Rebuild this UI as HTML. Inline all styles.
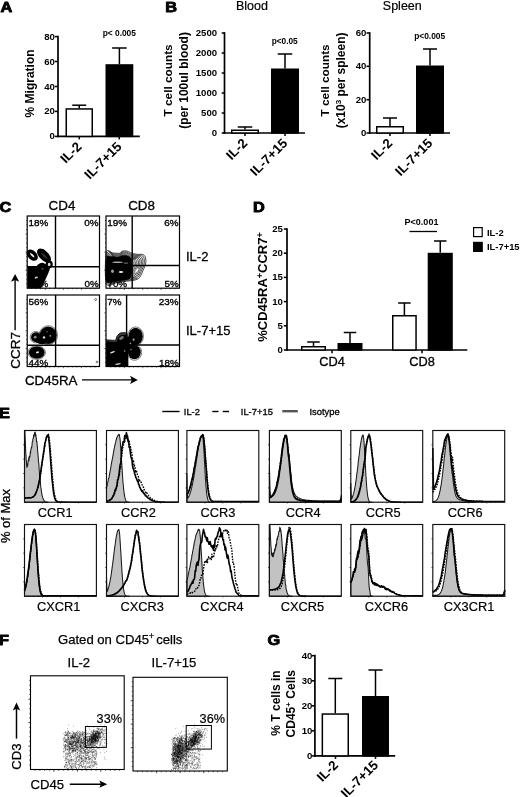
<!DOCTYPE html>
<html lang="en"><head><meta charset="utf-8"><title>Figure</title>
<style>html,body{margin:0;padding:0;background:#fff}svg{display:block}text{font-family:'Liberation Sans', sans-serif;fill:#000}</style></head><body>
<svg width="520" height="797" viewBox="0 0 520 797">
<rect x="0" y="0" width="520" height="797" fill="#fff"/>
<g id="panelA">
<text transform="translate(0.4 12.2) scale(1.15 1)" font-size="14.2" font-weight="bold" stroke="#000" stroke-width="0.85" stroke-linejoin="round">A</text>
<text x="34.3" y="83.4" font-size="12" font-weight="bold" text-anchor="middle" transform="rotate(-90 34.3 83.4)">% Migration</text>
<line x1="58" y1="35.75" x2="58" y2="137.25" stroke="#000" stroke-width="1.7"/>
<line x1="54.8" y1="36.6" x2="58" y2="36.6" stroke="#000" stroke-width="1.53"/>
<text x="54.8" y="39.67" font-size="9.6" font-weight="bold" text-anchor="end">80</text>
<line x1="54.8" y1="61.5" x2="58" y2="61.5" stroke="#000" stroke-width="1.53"/>
<text x="54.8" y="64.57" font-size="9.6" font-weight="bold" text-anchor="end">60</text>
<line x1="54.8" y1="86.5" x2="58" y2="86.5" stroke="#000" stroke-width="1.53"/>
<text x="54.8" y="89.57" font-size="9.6" font-weight="bold" text-anchor="end">40</text>
<line x1="54.8" y1="111.4" x2="58" y2="111.4" stroke="#000" stroke-width="1.53"/>
<text x="54.8" y="114.47" font-size="9.6" font-weight="bold" text-anchor="end">20</text>
<line x1="54.8" y1="136.4" x2="58" y2="136.4" stroke="#000" stroke-width="1.53"/>
<text x="54.8" y="139.47" font-size="9.6" font-weight="bold" text-anchor="end">0</text>
<line x1="57.15" y1="136.4" x2="139.8" y2="136.4" stroke="#000" stroke-width="1.7"/>
<line x1="79.25" y1="136.4" x2="79.25" y2="139.4" stroke="#000" stroke-width="1.53"/>
<line x1="119.25" y1="136.4" x2="119.25" y2="139.4" stroke="#000" stroke-width="1.53"/>
<line x1="79.25" y1="105.2" x2="79.25" y2="108.2" stroke="#000" stroke-width="1.5"/>
<line x1="72.25" y1="105.2" x2="86.25" y2="105.2" stroke="#000" stroke-width="1.5"/>
<rect x="66.25" y="108.95" width="26" height="27.45" fill="#fff" stroke="#000" stroke-width="1.5"/>
<line x1="119.4" y1="48" x2="119.4" y2="64.2" stroke="#000" stroke-width="1.5"/>
<line x1="112.1" y1="48" x2="126.7" y2="48" stroke="#000" stroke-width="1.5"/>
<rect x="106.25" y="64.95" width="26.3" height="71.45" fill="#000" stroke="#000" stroke-width="1.5"/>
<text x="119.3" y="36.2" font-size="8.4" font-weight="bold" text-anchor="middle">p&lt; 0.005</text>
<text x="82.45" y="147.4" font-size="13.3" font-weight="bold" text-anchor="end" transform="rotate(-45 82.45 147.4)">IL-2</text>
<text x="122.45" y="147.4" font-size="13.3" font-weight="bold" text-anchor="end" transform="rotate(-45 122.45 147.4)">IL-7+15</text>
</g>
<g id="panelB">
<text transform="translate(165.3 12.2) scale(1.15 1)" font-size="14.2" font-weight="bold" stroke="#000" stroke-width="0.85" stroke-linejoin="round">B</text>
<text x="252" y="10.2" font-size="12.5" text-anchor="middle" stroke="#000" stroke-width="0.2">Blood</text>
<text x="402.3" y="10.2" font-size="12.5" text-anchor="middle" stroke="#000" stroke-width="0.2">Spleen</text>
<text x="172.4" y="80.4" font-size="11.8" font-weight="bold" text-anchor="middle" transform="rotate(-90 172.4 80.4)">T cell counts</text>
<text x="188.3" y="80.4" font-size="12" font-weight="bold" text-anchor="middle" transform="rotate(-90 188.3 80.4)">(per 100ul blood)</text>
<line x1="224.5" y1="32.15" x2="224.5" y2="133.85" stroke="#000" stroke-width="1.7"/>
<line x1="221.7" y1="33" x2="224.5" y2="33" stroke="#000" stroke-width="1.53"/>
<text x="217.1" y="36.07" font-size="9.6" font-weight="bold" text-anchor="end">2500</text>
<line x1="221.7" y1="53" x2="224.5" y2="53" stroke="#000" stroke-width="1.53"/>
<text x="217.1" y="56.07" font-size="9.6" font-weight="bold" text-anchor="end">2000</text>
<line x1="221.7" y1="73" x2="224.5" y2="73" stroke="#000" stroke-width="1.53"/>
<text x="217.1" y="76.07" font-size="9.6" font-weight="bold" text-anchor="end">1500</text>
<line x1="221.7" y1="93" x2="224.5" y2="93" stroke="#000" stroke-width="1.53"/>
<text x="217.1" y="96.07" font-size="9.6" font-weight="bold" text-anchor="end">1000</text>
<line x1="221.7" y1="113" x2="224.5" y2="113" stroke="#000" stroke-width="1.53"/>
<text x="217.1" y="116.07" font-size="9.6" font-weight="bold" text-anchor="end">500</text>
<line x1="221.7" y1="133" x2="224.5" y2="133" stroke="#000" stroke-width="1.53"/>
<text x="217.1" y="136.07" font-size="9.6" font-weight="bold" text-anchor="end">0</text>
<line x1="223.65" y1="133" x2="305" y2="133" stroke="#000" stroke-width="1.7"/>
<line x1="245" y1="133" x2="245" y2="136" stroke="#000" stroke-width="1.53"/>
<line x1="285" y1="133" x2="285" y2="136" stroke="#000" stroke-width="1.53"/>
<line x1="245" y1="127" x2="245" y2="129.5" stroke="#000" stroke-width="1.5"/>
<line x1="237.75" y1="127" x2="252.25" y2="127" stroke="#000" stroke-width="1.5"/>
<rect x="231.75" y="130.25" width="26.5" height="2.75" fill="#fff" stroke="#000" stroke-width="1.5"/>
<line x1="285" y1="54" x2="285" y2="68.5" stroke="#000" stroke-width="1.5"/>
<line x1="277.75" y1="54" x2="292.25" y2="54" stroke="#000" stroke-width="1.5"/>
<rect x="271.75" y="69.25" width="26.5" height="63.75" fill="#000" stroke="#000" stroke-width="1.5"/>
<text x="284.7" y="43.6" font-size="8.3" font-weight="bold" text-anchor="middle">p&lt;0.05</text>
<text x="248.2" y="144" font-size="13.3" font-weight="bold" text-anchor="end" transform="rotate(-45 248.2 144)">IL-2</text>
<text x="288.2" y="144" font-size="13.3" font-weight="bold" text-anchor="end" transform="rotate(-45 288.2 144)">IL-7+15</text>
<text x="329.4" y="80.4" font-size="11.8" font-weight="bold" text-anchor="middle" transform="rotate(-90 329.4 80.4)">T cell counts</text>
<text x="345" y="80.4" font-size="12" font-weight="bold" text-anchor="middle" transform="rotate(-90 345 80.4)">(x10<tspan font-size="8" dy="-4">3</tspan><tspan dy="4"> per spleen)</tspan></text>
<line x1="369.7" y1="32.15" x2="369.7" y2="133.85" stroke="#000" stroke-width="1.7"/>
<line x1="366.5" y1="33" x2="369.7" y2="33" stroke="#000" stroke-width="1.53"/>
<text x="366.4" y="36.07" font-size="9.6" font-weight="bold" text-anchor="end">60</text>
<line x1="366.5" y1="66.3" x2="369.7" y2="66.3" stroke="#000" stroke-width="1.53"/>
<text x="366.4" y="69.37" font-size="9.6" font-weight="bold" text-anchor="end">40</text>
<line x1="366.5" y1="99.7" x2="369.7" y2="99.7" stroke="#000" stroke-width="1.53"/>
<text x="366.4" y="102.77" font-size="9.6" font-weight="bold" text-anchor="end">20</text>
<line x1="366.5" y1="133" x2="369.7" y2="133" stroke="#000" stroke-width="1.53"/>
<text x="366.4" y="136.07" font-size="9.6" font-weight="bold" text-anchor="end">0</text>
<line x1="368.85" y1="133" x2="450" y2="133" stroke="#000" stroke-width="1.7"/>
<line x1="390" y1="133" x2="390" y2="136" stroke="#000" stroke-width="1.53"/>
<line x1="430" y1="133" x2="430" y2="136" stroke="#000" stroke-width="1.53"/>
<line x1="390" y1="118" x2="390" y2="126" stroke="#000" stroke-width="1.5"/>
<line x1="383" y1="118" x2="397" y2="118" stroke="#000" stroke-width="1.5"/>
<rect x="376.75" y="126.75" width="26.5" height="6.25" fill="#fff" stroke="#000" stroke-width="1.5"/>
<line x1="430" y1="49" x2="430" y2="65.5" stroke="#000" stroke-width="1.5"/>
<line x1="423" y1="49" x2="437" y2="49" stroke="#000" stroke-width="1.5"/>
<rect x="416.75" y="66.25" width="26.5" height="66.75" fill="#000" stroke="#000" stroke-width="1.5"/>
<text x="429.7" y="39.2" font-size="8.4" font-weight="bold" text-anchor="middle">p&lt;0.005</text>
<text x="393.2" y="144" font-size="13.3" font-weight="bold" text-anchor="end" transform="rotate(-45 393.2 144)">IL-2</text>
<text x="433.2" y="144" font-size="13.3" font-weight="bold" text-anchor="end" transform="rotate(-45 433.2 144)">IL-7+15</text>
</g>
<g id="panelC">
<text transform="translate(-0.6 212.2) scale(1.15 1)" font-size="14.2" font-weight="bold" stroke="#000" stroke-width="0.85" stroke-linejoin="round">C</text>
<text x="62" y="210" font-size="13.4" text-anchor="middle" stroke="#000" stroke-width="0.3">CD4</text>
<text x="141.6" y="210" font-size="13.4" text-anchor="middle" stroke="#000" stroke-width="0.3">CD8</text>
<text x="186" y="261" font-size="13" stroke="#000" stroke-width="0.3">IL-2</text>
<text x="186" y="335" font-size="13" stroke="#000" stroke-width="0.3">IL-7+15</text>
<text x="20.2" y="350.3" font-size="13.5" text-anchor="middle" transform="rotate(-90 20.2 350.3)" stroke="#000" stroke-width="0.3">CCR7</text>
<line x1="15.1" y1="330.2" x2="15.1" y2="279" stroke="#000" stroke-width="1.4"/>
<path d="M15.1 274 L11 281.8 L15.1 280 L19.2 281.8 Z" fill="#000"/>
<text x="25" y="385.2" font-size="13.3" stroke="#000" stroke-width="0.3">CD45RA</text>
<line x1="82" y1="379.9" x2="132.5" y2="379.9" stroke="#000" stroke-width="1.4"/>
<path d="M137.8 379.9 L130 375.8 L131.8 379.9 L130 384 Z" fill="#000"/>
<g>
<text x="28.6" y="287.3" font-size="9.9" stroke="#000" stroke-width="0.35">82%</text>
<path d="M27.5 267 L36 267 Q39 262.6 43 262.8 L47.5 265 L50 268.5 L48.4 273 L43 285 L40.8 288.3 L27.5 288.3 Z" fill="#000"/><ellipse cx="32.2" cy="255.2" rx="4.8" ry="2.7" fill="none" stroke="#000" stroke-width="3.5" transform="rotate(45 32.2 255.2)"/><ellipse cx="44" cy="255.5" rx="6.8" ry="2.8" fill="#333" stroke="#000" stroke-width="3.5" transform="rotate(45 44 255.5)"/><ellipse cx="49.2" cy="264.4" rx="2.5" ry="2.7" fill="#ddd" stroke="#000" stroke-width="2.2"/><ellipse cx="41.5" cy="251.2" rx="3.2" ry="2.2" fill="#000" stroke="none" stroke-width="0.5"/><ellipse cx="36.3" cy="277.6" rx="1.7" ry="0.8" fill="#ddd" stroke="none" stroke-width="0.5" transform="rotate(-25 36.3 277.6)"/><ellipse cx="42.5" cy="268.8" rx="1.2" ry="0.6" fill="#777" stroke="none" stroke-width="0.5"/>
<rect x="27.2" y="216" width="72.3" height="72.2" fill="none" stroke="#000" stroke-width="1.2"/>
<line x1="55.5" y1="216" x2="55.5" y2="288.2" stroke="#000" stroke-width="1.4"/>
<line x1="27.2" y1="266.8" x2="99.5" y2="266.8" stroke="#000" stroke-width="1.4"/>
<line x1="31.72" y1="288.2" x2="31.72" y2="289.2" stroke="#000" stroke-width="0.6"/>
<line x1="26.2" y1="220.51" x2="27.2" y2="220.51" stroke="#000" stroke-width="0.6"/>
<line x1="36.24" y1="288.2" x2="36.24" y2="289.2" stroke="#000" stroke-width="0.6"/>
<line x1="26.2" y1="225.03" x2="27.2" y2="225.03" stroke="#000" stroke-width="0.6"/>
<line x1="40.76" y1="288.2" x2="40.76" y2="289.2" stroke="#000" stroke-width="0.6"/>
<line x1="26.2" y1="229.54" x2="27.2" y2="229.54" stroke="#000" stroke-width="0.6"/>
<line x1="45.27" y1="288.2" x2="45.27" y2="289.9" stroke="#000" stroke-width="0.6"/>
<line x1="25.5" y1="234.05" x2="27.2" y2="234.05" stroke="#000" stroke-width="0.6"/>
<line x1="49.79" y1="288.2" x2="49.79" y2="289.2" stroke="#000" stroke-width="0.6"/>
<line x1="26.2" y1="238.56" x2="27.2" y2="238.56" stroke="#000" stroke-width="0.6"/>
<line x1="54.31" y1="288.2" x2="54.31" y2="289.2" stroke="#000" stroke-width="0.6"/>
<line x1="26.2" y1="243.07" x2="27.2" y2="243.07" stroke="#000" stroke-width="0.6"/>
<line x1="58.83" y1="288.2" x2="58.83" y2="289.2" stroke="#000" stroke-width="0.6"/>
<line x1="26.2" y1="247.59" x2="27.2" y2="247.59" stroke="#000" stroke-width="0.6"/>
<line x1="63.35" y1="288.2" x2="63.35" y2="289.9" stroke="#000" stroke-width="0.6"/>
<line x1="25.5" y1="252.1" x2="27.2" y2="252.1" stroke="#000" stroke-width="0.6"/>
<line x1="67.87" y1="288.2" x2="67.87" y2="289.2" stroke="#000" stroke-width="0.6"/>
<line x1="26.2" y1="256.61" x2="27.2" y2="256.61" stroke="#000" stroke-width="0.6"/>
<line x1="72.39" y1="288.2" x2="72.39" y2="289.2" stroke="#000" stroke-width="0.6"/>
<line x1="26.2" y1="261.12" x2="27.2" y2="261.12" stroke="#000" stroke-width="0.6"/>
<line x1="76.91" y1="288.2" x2="76.91" y2="289.2" stroke="#000" stroke-width="0.6"/>
<line x1="26.2" y1="265.64" x2="27.2" y2="265.64" stroke="#000" stroke-width="0.6"/>
<line x1="81.42" y1="288.2" x2="81.42" y2="289.9" stroke="#000" stroke-width="0.6"/>
<line x1="25.5" y1="270.15" x2="27.2" y2="270.15" stroke="#000" stroke-width="0.6"/>
<line x1="85.94" y1="288.2" x2="85.94" y2="289.2" stroke="#000" stroke-width="0.6"/>
<line x1="26.2" y1="274.66" x2="27.2" y2="274.66" stroke="#000" stroke-width="0.6"/>
<line x1="90.46" y1="288.2" x2="90.46" y2="289.2" stroke="#000" stroke-width="0.6"/>
<line x1="26.2" y1="279.18" x2="27.2" y2="279.18" stroke="#000" stroke-width="0.6"/>
<line x1="94.98" y1="288.2" x2="94.98" y2="289.2" stroke="#000" stroke-width="0.6"/>
<line x1="26.2" y1="283.69" x2="27.2" y2="283.69" stroke="#000" stroke-width="0.6"/>
<text x="28.5" y="226" font-size="9.9" stroke="#000" stroke-width="0.35">18%</text>
<text x="98.6" y="226" font-size="9.9" text-anchor="end" stroke="#000" stroke-width="0.35">0%</text>
<text x="98.7" y="287.3" font-size="9.9" text-anchor="end" stroke="#000" stroke-width="0.35">0%</text>
</g>
<g>
<text x="107.4" y="287.3" font-size="9.9" stroke="#000" stroke-width="0.35">70%</text>
<path d="M106.3 252.6C107.42 247.55 110.72 252.9 113 253C115.28 253.1 118.5 253.5 120 253.2C121.5 252.9 120.83 251.57 122 251.2C123.17 250.83 125.5 250.7 127 251C128.5 251.3 129.33 252.45 131 253C132.67 253.55 135 254.03 137 254.3C139 254.57 141.57 253.98 143 254.6C144.43 255.22 145.17 256.43 145.6 258C146.03 259.57 146 262 145.6 264C145.2 266 144.22 267.75 143.2 270C142.18 272.25 141.03 275.78 139.5 277.5C137.97 279.22 136.25 279.68 134 280.3C131.75 280.92 129 280.75 126 281.2C123 281.65 119.28 282.65 116 283C112.72 283.35 107.92 288.37 106.3 283.3C104.68 278.23 105.18 257.65 106.3 252.6Z" fill="none" stroke="#000" stroke-width="0.7"/><path d="M107.18 253.52C108.23 248.78 111.33 253.81 113.48 253.9C115.63 253.99 118.65 254.37 120.06 254.09C121.47 253.81 120.84 252.55 121.94 252.21C123.04 251.86 125.23 251.74 126.64 252.02C128.05 252.3 128.83 253.38 130.4 253.9C131.97 254.42 134.16 254.87 136.04 255.12C137.92 255.37 140.33 254.82 141.68 255.4C143.03 255.98 143.72 257.13 144.12 258.6C144.53 260.07 144.5 262.36 144.12 264.24C143.75 266.12 142.82 267.76 141.87 269.88C140.91 272 139.83 275.32 138.39 276.93C136.95 278.54 135.34 278.98 133.22 279.56C131.1 280.14 128.52 279.99 125.7 280.41C122.88 280.83 119.39 281.77 116.3 282.1C113.21 282.43 108.7 287.14 107.18 282.38C105.66 277.62 106.13 258.27 107.18 253.52Z" fill="none" stroke="#000" stroke-width="0.7"/><path d="M108.06 254.45C109.05 250 111.95 254.71 113.96 254.8C115.97 254.89 118.8 255.24 120.12 254.98C121.44 254.71 120.85 253.54 121.88 253.22C122.91 252.89 124.96 252.78 126.28 253.04C127.6 253.3 128.33 254.32 129.8 254.8C131.27 255.28 133.32 255.71 135.08 255.94C136.84 256.18 139.1 255.67 140.36 256.21C141.62 256.75 142.27 257.82 142.65 259.2C143.03 260.58 143 262.72 142.65 264.48C142.3 266.24 141.43 267.78 140.54 269.76C139.64 271.74 138.63 274.85 137.28 276.36C135.93 277.87 134.42 278.28 132.44 278.82C130.46 279.37 128.04 279.22 125.4 279.62C122.76 280.01 119.49 280.89 116.6 281.2C113.71 281.51 109.49 285.92 108.06 281.46C106.64 277.01 107.08 258.89 108.06 254.45Z" fill="none" stroke="#000" stroke-width="0.7"/><path d="M108.95 255.37C109.86 251.23 112.57 255.62 114.44 255.7C116.31 255.78 118.95 256.11 120.18 255.86C121.41 255.62 120.86 254.52 121.82 254.22C122.78 253.92 124.69 253.81 125.92 254.06C127.15 254.31 127.83 255.25 129.2 255.7C130.57 256.15 132.48 256.55 134.12 256.77C135.76 256.98 137.86 256.51 139.04 257.01C140.22 257.52 140.82 258.52 141.17 259.8C141.53 261.08 141.5 263.08 141.17 264.72C140.84 266.36 140.04 267.79 139.2 269.64C138.37 271.49 137.43 274.38 136.17 275.79C134.91 277.2 133.5 277.58 131.66 278.09C129.81 278.59 127.56 278.46 125.1 278.82C122.64 279.19 119.59 280.01 116.9 280.3C114.21 280.59 110.27 284.7 108.95 280.55C107.62 276.39 108.03 259.51 108.95 255.37Z" fill="none" stroke="#000" stroke-width="0.7"/><path d="M109.83 256.3C110.68 252.46 113.18 256.52 114.92 256.6C116.66 256.68 119.1 256.98 120.24 256.75C121.38 256.52 120.87 255.51 121.76 255.23C122.65 254.95 124.42 254.85 125.56 255.08C126.7 255.31 127.33 256.18 128.6 256.6C129.87 257.02 131.64 257.39 133.16 257.59C134.68 257.79 136.63 257.35 137.72 257.82C138.81 258.28 139.37 259.21 139.7 260.4C140.03 261.59 140 263.44 139.7 264.96C139.39 266.48 138.64 267.81 137.87 269.52C137.1 271.23 136.23 273.92 135.06 275.22C133.89 276.52 132.59 276.88 130.88 277.35C129.17 277.82 127.08 277.69 124.8 278.03C122.52 278.37 119.7 279.13 117.2 279.4C114.7 279.67 111.06 283.48 109.83 279.63C108.6 275.78 108.98 260.13 109.83 256.3Z" fill="none" stroke="#000" stroke-width="0.7"/><path d="M110.71 257.22C111.49 253.68 113.8 257.43 115.4 257.5C117 257.57 119.25 257.85 120.3 257.64C121.35 257.43 120.88 256.5 121.7 256.24C122.52 255.98 124.15 255.89 125.2 256.1C126.25 256.31 126.83 257.12 128 257.5C129.17 257.88 130.8 258.22 132.2 258.41C133.6 258.6 135.4 258.19 136.4 258.62C137.4 259.05 137.92 259.9 138.22 261C138.52 262.1 138.5 263.8 138.22 265.2C137.94 266.6 137.25 267.82 136.54 269.4C135.83 270.97 135.02 273.45 133.95 274.65C132.88 275.85 131.67 276.18 130.1 276.61C128.53 277.04 126.6 276.93 124.5 277.24C122.4 277.56 119.8 278.25 117.5 278.5C115.2 278.75 111.84 282.26 110.71 278.71C109.58 275.16 109.93 260.75 110.71 257.22Z" fill="none" stroke="#000" stroke-width="0.7"/><path d="M111.59 258.14C112.31 254.91 114.42 258.34 115.88 258.4C117.34 258.46 119.4 258.72 120.36 258.53C121.32 258.34 120.89 257.48 121.64 257.25C122.39 257.01 123.88 256.93 124.84 257.12C125.8 257.31 126.33 258.05 127.4 258.4C128.47 258.75 129.96 259.06 131.24 259.23C132.52 259.4 134.16 259.03 135.08 259.42C136 259.82 136.47 260.6 136.74 261.6C137.02 262.6 137 264.16 136.74 265.44C136.49 266.72 135.86 267.84 135.21 269.28C134.56 270.72 133.82 272.98 132.84 274.08C131.86 275.18 130.76 275.48 129.32 275.87C127.88 276.27 126.12 276.16 124.2 276.45C122.28 276.74 119.9 277.38 117.8 277.6C115.7 277.82 112.63 281.03 111.59 277.79C110.56 274.55 110.88 261.38 111.59 258.14Z" fill="none" stroke="#000" stroke-width="0.7"/><path d="M112.47 259.07C113.12 256.14 115.04 259.24 116.36 259.3C117.68 259.36 119.55 259.59 120.42 259.42C121.29 259.24 120.9 258.47 121.58 258.26C122.26 258.04 123.61 257.97 124.48 258.14C125.35 258.31 125.83 258.98 126.8 259.3C127.77 259.62 129.12 259.9 130.28 260.05C131.44 260.21 132.93 259.87 133.76 260.23C134.59 260.59 135.02 261.29 135.27 262.2C135.52 263.11 135.5 264.52 135.27 265.68C135.04 266.84 134.47 267.86 133.88 269.16C133.29 270.47 132.62 272.51 131.73 273.51C130.84 274.51 129.84 274.78 128.54 275.13C127.23 275.49 125.64 275.39 123.9 275.66C122.16 275.92 120 276.5 118.1 276.7C116.2 276.9 113.41 279.81 112.47 276.87C111.54 273.94 111.83 262 112.47 259.07Z" fill="none" stroke="#000" stroke-width="0.7"/><path d="M113.36 259.99C113.94 257.37 115.65 260.15 116.84 260.2C118.03 260.25 119.7 260.46 120.48 260.3C121.26 260.15 120.91 259.45 121.52 259.26C122.13 259.07 123.34 259 124.12 259.16C124.9 259.32 125.33 259.91 126.2 260.2C127.07 260.49 128.28 260.74 129.32 260.88C130.36 261.01 131.69 260.71 132.44 261.03C133.19 261.35 133.57 261.99 133.79 262.8C134.02 263.61 134 264.88 133.79 265.92C133.58 266.96 133.07 267.87 132.54 269.04C132.02 270.21 131.42 272.05 130.62 272.94C129.82 273.83 128.93 274.08 127.76 274.4C126.59 274.72 125.16 274.63 123.6 274.86C122.04 275.1 120.11 275.62 118.4 275.8C116.69 275.98 114.2 278.59 113.36 275.96C112.52 273.32 112.78 262.62 113.36 259.99Z" fill="none" stroke="#000" stroke-width="0.7"/><path d="M106.6 258.5C107.25 254.37 108.68 256.82 110.5 256.6C112.32 256.38 115.33 257.4 117.5 257.2C119.67 257 121.5 255.47 123.5 255.4C125.5 255.33 128.12 255.7 129.5 256.8C130.88 257.9 131.42 259.47 131.8 262C132.18 264.53 132.07 269.33 131.8 272C131.53 274.67 131.5 276.63 130.2 278C128.9 279.37 126.53 279.67 124 280.2C121.47 280.73 117.9 281 115 281.2C112.1 281.4 108 285.18 106.6 281.4C105.2 277.62 105.95 262.63 106.6 258.5Z" fill="#000" stroke="#000" stroke-width="0.5"/><ellipse cx="136.8" cy="270.5" rx="0.9" ry="2.6" fill="#fff" stroke="none" stroke-width="0.5" transform="rotate(35 136.8 270.5)"/><ellipse cx="117.5" cy="262.3" rx="5.5" ry="0.7" fill="#aaa" stroke="none" stroke-width="0.5"/><ellipse cx="121" cy="272" rx="2.2" ry="0.9" fill="#eee" stroke="none" stroke-width="0.5"/><ellipse cx="112.5" cy="271.2" rx="1.5" ry="1.8" fill="#999" stroke="none" stroke-width="0.5"/><ellipse cx="126" cy="263" rx="2.5" ry="0.6" fill="#888" stroke="none" stroke-width="0.5"/>
<rect x="106" y="216" width="73.5" height="72.2" fill="none" stroke="#000" stroke-width="1.2"/>
<line x1="132.2" y1="216" x2="132.2" y2="288.2" stroke="#000" stroke-width="1.4"/>
<line x1="106" y1="265.5" x2="179.5" y2="265.5" stroke="#000" stroke-width="1.4"/>
<line x1="110.59" y1="288.2" x2="110.59" y2="289.2" stroke="#000" stroke-width="0.6"/>
<line x1="105" y1="220.51" x2="106" y2="220.51" stroke="#000" stroke-width="0.6"/>
<line x1="115.19" y1="288.2" x2="115.19" y2="289.2" stroke="#000" stroke-width="0.6"/>
<line x1="105" y1="225.03" x2="106" y2="225.03" stroke="#000" stroke-width="0.6"/>
<line x1="119.78" y1="288.2" x2="119.78" y2="289.2" stroke="#000" stroke-width="0.6"/>
<line x1="105" y1="229.54" x2="106" y2="229.54" stroke="#000" stroke-width="0.6"/>
<line x1="124.38" y1="288.2" x2="124.38" y2="289.9" stroke="#000" stroke-width="0.6"/>
<line x1="104.3" y1="234.05" x2="106" y2="234.05" stroke="#000" stroke-width="0.6"/>
<line x1="128.97" y1="288.2" x2="128.97" y2="289.2" stroke="#000" stroke-width="0.6"/>
<line x1="105" y1="238.56" x2="106" y2="238.56" stroke="#000" stroke-width="0.6"/>
<line x1="133.56" y1="288.2" x2="133.56" y2="289.2" stroke="#000" stroke-width="0.6"/>
<line x1="105" y1="243.07" x2="106" y2="243.07" stroke="#000" stroke-width="0.6"/>
<line x1="138.16" y1="288.2" x2="138.16" y2="289.2" stroke="#000" stroke-width="0.6"/>
<line x1="105" y1="247.59" x2="106" y2="247.59" stroke="#000" stroke-width="0.6"/>
<line x1="142.75" y1="288.2" x2="142.75" y2="289.9" stroke="#000" stroke-width="0.6"/>
<line x1="104.3" y1="252.1" x2="106" y2="252.1" stroke="#000" stroke-width="0.6"/>
<line x1="147.34" y1="288.2" x2="147.34" y2="289.2" stroke="#000" stroke-width="0.6"/>
<line x1="105" y1="256.61" x2="106" y2="256.61" stroke="#000" stroke-width="0.6"/>
<line x1="151.94" y1="288.2" x2="151.94" y2="289.2" stroke="#000" stroke-width="0.6"/>
<line x1="105" y1="261.12" x2="106" y2="261.12" stroke="#000" stroke-width="0.6"/>
<line x1="156.53" y1="288.2" x2="156.53" y2="289.2" stroke="#000" stroke-width="0.6"/>
<line x1="105" y1="265.64" x2="106" y2="265.64" stroke="#000" stroke-width="0.6"/>
<line x1="161.12" y1="288.2" x2="161.12" y2="289.9" stroke="#000" stroke-width="0.6"/>
<line x1="104.3" y1="270.15" x2="106" y2="270.15" stroke="#000" stroke-width="0.6"/>
<line x1="165.72" y1="288.2" x2="165.72" y2="289.2" stroke="#000" stroke-width="0.6"/>
<line x1="105" y1="274.66" x2="106" y2="274.66" stroke="#000" stroke-width="0.6"/>
<line x1="170.31" y1="288.2" x2="170.31" y2="289.2" stroke="#000" stroke-width="0.6"/>
<line x1="105" y1="279.18" x2="106" y2="279.18" stroke="#000" stroke-width="0.6"/>
<line x1="174.91" y1="288.2" x2="174.91" y2="289.2" stroke="#000" stroke-width="0.6"/>
<line x1="105" y1="283.69" x2="106" y2="283.69" stroke="#000" stroke-width="0.6"/>
<text x="107.3" y="226" font-size="9.9" stroke="#000" stroke-width="0.35">19%</text>
<text x="178.6" y="226" font-size="9.9" text-anchor="end" stroke="#000" stroke-width="0.35">6%</text>
<text x="178.7" y="287.3" font-size="9.9" text-anchor="end" stroke="#000" stroke-width="0.35">5%</text>
</g>
<g>
<text x="28.6" y="365.6" font-size="9.9" stroke="#000" stroke-width="0.35">44%</text>
<ellipse cx="36.8" cy="352.5" rx="8.7" ry="6.9" fill="none" stroke="#000" stroke-width="0.5"/><ellipse cx="36.8" cy="352.5" rx="7.9" ry="6.2" fill="#000" stroke="none" stroke-width="0.5"/><ellipse cx="35.8" cy="337.2" rx="5.7" ry="5.7" fill="none" stroke="#000" stroke-width="0.5"/><ellipse cx="36" cy="337.2" rx="5" ry="5" fill="#000" stroke="none" stroke-width="0.5"/><ellipse cx="48.3" cy="335.2" rx="9.2" ry="9.5" fill="none" stroke="#000" stroke-width="0.5"/><ellipse cx="48.2" cy="335.3" rx="8.5" ry="8.8" fill="#000" stroke="none" stroke-width="0.5"/><ellipse cx="42" cy="338.8" rx="8" ry="5.4" fill="#000" stroke="none" stroke-width="0.5"/><ellipse cx="35.2" cy="337.2" rx="1.4" ry="1.4" fill="#888" stroke="none" stroke-width="0.5"/><ellipse cx="44" cy="337.4" rx="1.2" ry="1.2" fill="#ddd" stroke="none" stroke-width="0.5"/><ellipse cx="37.5" cy="352.3" rx="1.5" ry="0.9" fill="#eee" stroke="none" stroke-width="0.5" transform="rotate(-15 37.5 352.3)"/><ellipse cx="50.3" cy="335.8" rx="0.9" ry="1.1" fill="#888" stroke="none" stroke-width="0.5"/><ellipse cx="47" cy="331.8" rx="0.8" ry="0.8" fill="#666" stroke="none" stroke-width="0.5"/>
<rect x="27.2" y="295" width="72.3" height="71.5" fill="none" stroke="#000" stroke-width="1.2"/>
<line x1="55.6" y1="295" x2="55.6" y2="366.5" stroke="#000" stroke-width="1.4"/>
<line x1="27.2" y1="345.3" x2="99.5" y2="345.3" stroke="#000" stroke-width="1.4"/>
<line x1="31.72" y1="366.5" x2="31.72" y2="367.5" stroke="#000" stroke-width="0.6"/>
<line x1="26.2" y1="299.47" x2="27.2" y2="299.47" stroke="#000" stroke-width="0.6"/>
<line x1="36.24" y1="366.5" x2="36.24" y2="367.5" stroke="#000" stroke-width="0.6"/>
<line x1="26.2" y1="303.94" x2="27.2" y2="303.94" stroke="#000" stroke-width="0.6"/>
<line x1="40.76" y1="366.5" x2="40.76" y2="367.5" stroke="#000" stroke-width="0.6"/>
<line x1="26.2" y1="308.41" x2="27.2" y2="308.41" stroke="#000" stroke-width="0.6"/>
<line x1="45.27" y1="366.5" x2="45.27" y2="368.2" stroke="#000" stroke-width="0.6"/>
<line x1="25.5" y1="312.88" x2="27.2" y2="312.88" stroke="#000" stroke-width="0.6"/>
<line x1="49.79" y1="366.5" x2="49.79" y2="367.5" stroke="#000" stroke-width="0.6"/>
<line x1="26.2" y1="317.34" x2="27.2" y2="317.34" stroke="#000" stroke-width="0.6"/>
<line x1="54.31" y1="366.5" x2="54.31" y2="367.5" stroke="#000" stroke-width="0.6"/>
<line x1="26.2" y1="321.81" x2="27.2" y2="321.81" stroke="#000" stroke-width="0.6"/>
<line x1="58.83" y1="366.5" x2="58.83" y2="367.5" stroke="#000" stroke-width="0.6"/>
<line x1="26.2" y1="326.28" x2="27.2" y2="326.28" stroke="#000" stroke-width="0.6"/>
<line x1="63.35" y1="366.5" x2="63.35" y2="368.2" stroke="#000" stroke-width="0.6"/>
<line x1="25.5" y1="330.75" x2="27.2" y2="330.75" stroke="#000" stroke-width="0.6"/>
<line x1="67.87" y1="366.5" x2="67.87" y2="367.5" stroke="#000" stroke-width="0.6"/>
<line x1="26.2" y1="335.22" x2="27.2" y2="335.22" stroke="#000" stroke-width="0.6"/>
<line x1="72.39" y1="366.5" x2="72.39" y2="367.5" stroke="#000" stroke-width="0.6"/>
<line x1="26.2" y1="339.69" x2="27.2" y2="339.69" stroke="#000" stroke-width="0.6"/>
<line x1="76.91" y1="366.5" x2="76.91" y2="367.5" stroke="#000" stroke-width="0.6"/>
<line x1="26.2" y1="344.16" x2="27.2" y2="344.16" stroke="#000" stroke-width="0.6"/>
<line x1="81.42" y1="366.5" x2="81.42" y2="368.2" stroke="#000" stroke-width="0.6"/>
<line x1="25.5" y1="348.62" x2="27.2" y2="348.62" stroke="#000" stroke-width="0.6"/>
<line x1="85.94" y1="366.5" x2="85.94" y2="367.5" stroke="#000" stroke-width="0.6"/>
<line x1="26.2" y1="353.09" x2="27.2" y2="353.09" stroke="#000" stroke-width="0.6"/>
<line x1="90.46" y1="366.5" x2="90.46" y2="367.5" stroke="#000" stroke-width="0.6"/>
<line x1="26.2" y1="357.56" x2="27.2" y2="357.56" stroke="#000" stroke-width="0.6"/>
<line x1="94.98" y1="366.5" x2="94.98" y2="367.5" stroke="#000" stroke-width="0.6"/>
<line x1="26.2" y1="362.03" x2="27.2" y2="362.03" stroke="#000" stroke-width="0.6"/>
<text x="28.5" y="305" font-size="9.9" stroke="#000" stroke-width="0.35">56%</text>
</g>
<circle cx="95.6" cy="299.5" r="1" fill="none" stroke="#222" stroke-width="0.6"/>
<circle cx="97" cy="362" r="0.9" fill="none" stroke="#222" stroke-width="0.6"/>
<g>
<path d="M106.5 339.8 L115.5 340.4 Q116.5 335 120 333 Q124 331.8 127 333 L128 345 L128 366.5 L106.5 366.5 Z" fill="#3a3a3a" stroke="#000" stroke-width="0.7"/><path d="M106.5 341.6 L116.5 342 Q118 337 121 335.2 Q124 334.4 127 335.2 L128 345 L128 366.5 L106.5 366.5 Z" fill="#000"/><ellipse cx="135.6" cy="336.2" rx="7.9" ry="9.3" fill="none" stroke="#000" stroke-width="0.5"/><ellipse cx="135.6" cy="336.3" rx="7.2" ry="8.6" fill="#000" stroke="none" stroke-width="0.5"/><ellipse cx="134.5" cy="352.4" rx="7.2" ry="7.9" fill="none" stroke="#000" stroke-width="0.5"/><ellipse cx="134.4" cy="352.2" rx="6.4" ry="7" fill="#000" stroke="none" stroke-width="0.5"/><ellipse cx="130" cy="345" rx="4.5" ry="9" fill="#000" stroke="none" stroke-width="0.5"/><ellipse cx="121.5" cy="338" rx="2.6" ry="1.4" fill="#777" stroke="none" stroke-width="0.5" transform="rotate(-30 121.5 338)"/><ellipse cx="112.5" cy="352.2" rx="2.6" ry="0.8" fill="#ddd" stroke="none" stroke-width="0.5" transform="rotate(-20 112.5 352.2)"/><ellipse cx="118" cy="364" rx="3" ry="0.7" fill="#bbb" stroke="none" stroke-width="0.5" transform="rotate(-10 118 364)"/><ellipse cx="133.6" cy="339.6" rx="1" ry="1.2" fill="#aaa" stroke="none" stroke-width="0.5"/><ellipse cx="130.4" cy="343.6" rx="0.7" ry="1.2" fill="#999" stroke="none" stroke-width="0.5"/><ellipse cx="131" cy="349.6" rx="0.8" ry="0.8" fill="#777" stroke="none" stroke-width="0.5"/><ellipse cx="124.6" cy="351" rx="0.8" ry="1.2" fill="#666" stroke="none" stroke-width="0.5"/>
<rect x="106" y="295" width="73.5" height="71.5" fill="none" stroke="#000" stroke-width="1.2"/>
<line x1="126.6" y1="295" x2="126.6" y2="366.5" stroke="#000" stroke-width="1.4"/>
<line x1="106" y1="345" x2="179.5" y2="345" stroke="#000" stroke-width="1.4"/>
<line x1="110.59" y1="366.5" x2="110.59" y2="367.5" stroke="#000" stroke-width="0.6"/>
<line x1="105" y1="299.47" x2="106" y2="299.47" stroke="#000" stroke-width="0.6"/>
<line x1="115.19" y1="366.5" x2="115.19" y2="367.5" stroke="#000" stroke-width="0.6"/>
<line x1="105" y1="303.94" x2="106" y2="303.94" stroke="#000" stroke-width="0.6"/>
<line x1="119.78" y1="366.5" x2="119.78" y2="367.5" stroke="#000" stroke-width="0.6"/>
<line x1="105" y1="308.41" x2="106" y2="308.41" stroke="#000" stroke-width="0.6"/>
<line x1="124.38" y1="366.5" x2="124.38" y2="368.2" stroke="#000" stroke-width="0.6"/>
<line x1="104.3" y1="312.88" x2="106" y2="312.88" stroke="#000" stroke-width="0.6"/>
<line x1="128.97" y1="366.5" x2="128.97" y2="367.5" stroke="#000" stroke-width="0.6"/>
<line x1="105" y1="317.34" x2="106" y2="317.34" stroke="#000" stroke-width="0.6"/>
<line x1="133.56" y1="366.5" x2="133.56" y2="367.5" stroke="#000" stroke-width="0.6"/>
<line x1="105" y1="321.81" x2="106" y2="321.81" stroke="#000" stroke-width="0.6"/>
<line x1="138.16" y1="366.5" x2="138.16" y2="367.5" stroke="#000" stroke-width="0.6"/>
<line x1="105" y1="326.28" x2="106" y2="326.28" stroke="#000" stroke-width="0.6"/>
<line x1="142.75" y1="366.5" x2="142.75" y2="368.2" stroke="#000" stroke-width="0.6"/>
<line x1="104.3" y1="330.75" x2="106" y2="330.75" stroke="#000" stroke-width="0.6"/>
<line x1="147.34" y1="366.5" x2="147.34" y2="367.5" stroke="#000" stroke-width="0.6"/>
<line x1="105" y1="335.22" x2="106" y2="335.22" stroke="#000" stroke-width="0.6"/>
<line x1="151.94" y1="366.5" x2="151.94" y2="367.5" stroke="#000" stroke-width="0.6"/>
<line x1="105" y1="339.69" x2="106" y2="339.69" stroke="#000" stroke-width="0.6"/>
<line x1="156.53" y1="366.5" x2="156.53" y2="367.5" stroke="#000" stroke-width="0.6"/>
<line x1="105" y1="344.16" x2="106" y2="344.16" stroke="#000" stroke-width="0.6"/>
<line x1="161.12" y1="366.5" x2="161.12" y2="368.2" stroke="#000" stroke-width="0.6"/>
<line x1="104.3" y1="348.62" x2="106" y2="348.62" stroke="#000" stroke-width="0.6"/>
<line x1="165.72" y1="366.5" x2="165.72" y2="367.5" stroke="#000" stroke-width="0.6"/>
<line x1="105" y1="353.09" x2="106" y2="353.09" stroke="#000" stroke-width="0.6"/>
<line x1="170.31" y1="366.5" x2="170.31" y2="367.5" stroke="#000" stroke-width="0.6"/>
<line x1="105" y1="357.56" x2="106" y2="357.56" stroke="#000" stroke-width="0.6"/>
<line x1="174.91" y1="366.5" x2="174.91" y2="367.5" stroke="#000" stroke-width="0.6"/>
<line x1="105" y1="362.03" x2="106" y2="362.03" stroke="#000" stroke-width="0.6"/>
<text x="107.3" y="305" font-size="9.9" stroke="#000" stroke-width="0.35">7%</text>
<text x="178.6" y="305" font-size="9.9" text-anchor="end" stroke="#000" stroke-width="0.35">23%</text>
<text x="178.7" y="365.6" font-size="9.9" text-anchor="end" stroke="#000" stroke-width="0.35">18%</text>
</g>
</g>
<g id="panelD">
<text transform="translate(253.1 212.2) scale(1.15 1)" font-size="14.2" font-weight="bold" stroke="#000" stroke-width="0.85" stroke-linejoin="round">D</text>
<text x="267" y="287" font-size="13" font-weight="bold" text-anchor="middle" transform="rotate(-90 267 287)">%CD45RA<tspan font-size="9" dy="-4">+</tspan><tspan dy="4">CCR7</tspan><tspan font-size="9" dy="-4">+</tspan></text>
<line x1="287" y1="228.15" x2="287" y2="350.85" stroke="#000" stroke-width="1.7"/>
<line x1="283.8" y1="229" x2="287" y2="229" stroke="#000" stroke-width="1.53"/>
<text x="282.8" y="232.07" font-size="9.6" font-weight="bold" text-anchor="end">25</text>
<line x1="283.8" y1="253.2" x2="287" y2="253.2" stroke="#000" stroke-width="1.53"/>
<text x="282.8" y="256.27" font-size="9.6" font-weight="bold" text-anchor="end">20</text>
<line x1="283.8" y1="277.4" x2="287" y2="277.4" stroke="#000" stroke-width="1.53"/>
<text x="282.8" y="280.47" font-size="9.6" font-weight="bold" text-anchor="end">15</text>
<line x1="283.8" y1="301.6" x2="287" y2="301.6" stroke="#000" stroke-width="1.53"/>
<text x="282.8" y="304.67" font-size="9.6" font-weight="bold" text-anchor="end">10</text>
<line x1="283.8" y1="325.8" x2="287" y2="325.8" stroke="#000" stroke-width="1.53"/>
<text x="282.8" y="328.87" font-size="9.6" font-weight="bold" text-anchor="end">5</text>
<line x1="283.8" y1="350" x2="287" y2="350" stroke="#000" stroke-width="1.53"/>
<text x="282.8" y="353.07" font-size="9.6" font-weight="bold" text-anchor="end">0</text>
<line x1="286.15" y1="350" x2="467.3" y2="350" stroke="#000" stroke-width="1.7"/>
<line x1="332" y1="350" x2="332" y2="353.2" stroke="#000" stroke-width="1.53"/>
<line x1="422" y1="350" x2="422" y2="353.2" stroke="#000" stroke-width="1.53"/>
<line x1="313.5" y1="342" x2="313.5" y2="346" stroke="#000" stroke-width="1.5"/>
<line x1="307.25" y1="342" x2="319.75" y2="342" stroke="#000" stroke-width="1.5"/>
<rect x="301.75" y="346.75" width="23.5" height="3.25" fill="#fff" stroke="#000" stroke-width="1.5"/>
<line x1="350" y1="332.5" x2="350" y2="343" stroke="#000" stroke-width="1.5"/>
<line x1="343.75" y1="332.5" x2="356.25" y2="332.5" stroke="#000" stroke-width="1.5"/>
<rect x="338.25" y="343.75" width="23.5" height="6.25" fill="#000" stroke="#000" stroke-width="1.5"/>
<line x1="404.4" y1="303" x2="404.4" y2="315" stroke="#000" stroke-width="1.5"/>
<line x1="398.15" y1="303" x2="410.65" y2="303" stroke="#000" stroke-width="1.5"/>
<rect x="392.75" y="315.75" width="23.3" height="34.25" fill="#fff" stroke="#000" stroke-width="1.5"/>
<line x1="440.25" y1="241" x2="440.25" y2="252.8" stroke="#000" stroke-width="1.5"/>
<line x1="434" y1="241" x2="446.5" y2="241" stroke="#000" stroke-width="1.5"/>
<rect x="428.45" y="253.55" width="23.6" height="96.45" fill="#000" stroke="#000" stroke-width="1.5"/>
<text x="332" y="366" font-size="12.8" text-anchor="middle" stroke="#000" stroke-width="0.3">CD4</text>
<text x="422" y="366" font-size="12.8" text-anchor="middle" stroke="#000" stroke-width="0.3">CD8</text>
<text x="421.5" y="224.6" font-size="9" font-weight="bold" text-anchor="middle">P&lt;0.001</text>
<line x1="409.5" y1="231.5" x2="437" y2="231.5" stroke="#000" stroke-width="1.3"/>
<rect x="473.6" y="227.6" width="8.6" height="9" fill="#fff" stroke="#000" stroke-width="1.2"/>
<rect x="473.6" y="242.4" width="8.6" height="9" fill="#000" stroke="#000" stroke-width="1.2"/>
<text x="487" y="235.6" font-size="9.4" font-weight="bold">IL-2</text>
<text x="487" y="250.2" font-size="9.4" font-weight="bold">IL-7+15</text>
</g>
<g id="panelE">
<text transform="translate(-1.1 418.4) scale(1.15 1)" font-size="14.2" font-weight="bold" stroke="#000" stroke-width="0.85" stroke-linejoin="round">E</text>
<text x="9.7" y="516" font-size="13" text-anchor="middle" transform="rotate(-90 9.7 516)" stroke="#000" stroke-width="0.3">% of Max</text>
<line x1="162.3" y1="411.5" x2="179.6" y2="411.5" stroke="#000" stroke-width="1.4"/>
<text x="183.8" y="414.6" font-size="9.4" stroke="#000" stroke-width="0.3">IL-2</text>
<line x1="212.3" y1="411.5" x2="218.5" y2="411.5" stroke="#000" stroke-width="1.4"/>
<line x1="222.7" y1="411.5" x2="229" y2="411.5" stroke="#000" stroke-width="1.4"/>
<text x="240.8" y="414.6" font-size="9.4" stroke="#000" stroke-width="0.3">IL-7+15</text>
<line x1="282.3" y1="411.2" x2="297.8" y2="411.2" stroke="#555" stroke-width="2.4"/>
<text x="309.4" y="414.6" font-size="9.4" stroke="#000" stroke-width="0.3">Isotype</text>
<g>
<path d="M24.5 502.2L24.5 430.5L24.72 430.5L24.93 430.5L25.15 437.57L25.36 441.71L25.58 447.63L25.79 453.34L26.01 455.15L26.23 460.37L26.44 461.44L26.66 465.41L26.87 467.45L27.09 466.64L27.3 464.06L27.52 466.24L27.74 464.98L27.95 462.41L28.17 460.2L28.38 460.96L28.6 460.9L28.81 457.54L29.03 460.66L29.25 456.27L29.46 457.78L29.68 457.45L29.89 456.58L30.11 454.74L30.32 451.5L30.54 453.15L30.76 450.32L30.97 448.94L31.19 448.94L31.4 447.02L31.62 447.93L31.83 446.78L32.05 444.98L32.27 441.8L32.48 441.77L32.7 441.18L32.91 438.99L33.13 438.59L33.34 438.35L33.56 435.41L33.78 435.09L33.99 436.42L34.21 434.48L34.42 434.3L34.64 432.52L34.85 433L35.07 434.89L35.28 432.04L35.5 436.09L35.72 435.41L35.93 434.83L36.15 438.58L36.36 438.51L36.58 442.07L36.79 441.2L37.01 442.82L37.23 445.86L37.44 446.91L37.66 451.81L37.87 452.75L38.09 455.83L38.3 458.59L38.52 461.84L38.74 462.9L38.95 465.13L39.17 469.8L39.38 471.55L39.6 476.64L39.81 476.28L40.03 478.83L40.25 479.77L40.46 482.57L40.68 486.21L40.89 487.65L41.11 488.6L41.32 491.52L41.54 491.98L41.76 493.71L41.97 494.86L42.19 495.89L42.4 495.98L42.62 497.43L42.83 498.02L43.05 498.53L43.27 498.8L43.48 499.71L43.7 499.95L43.91 500.28L44.13 500.5L44.34 500.88L44.56 501.1L44.78 501.3L44.99 501.46L45.21 501.59L45.42 501.71L45.64 501.8L45.85 501.88L46.07 501.94L46.29 501.99L46.5 502.04L46.72 502.07L46.93 502.1L47.15 502.12L47.36 502.14L47.58 502.15L47.8 502.16L48.01 502.17L48.23 502.18L48.23 502.2Z" fill="#c2c2c2" stroke="#1a1a1a" stroke-width="1.05" stroke-linejoin="round"/>
<path d="M24.5 498.14L24.89 497.89L25.28 497.82L25.68 497.95L26.07 497.92L26.46 498.02L26.85 498L27.25 497.9L27.64 497.91L28.03 497.71L28.42 497.9L28.81 497.92L29.21 497.59L29.6 497.7L29.99 497.79L30.38 497.61L30.77 497.72L31.17 497.48L31.56 497.23L31.95 497.15L32.34 497.06L32.74 497.04L33.13 496.78L33.52 496.59L33.91 496L34.3 495.72L34.7 495.13L35.09 494.81L35.48 494.25L35.87 493.15L36.27 492.17L36.66 491.28L37.05 490.21L37.44 488.95L37.83 487.64L38.23 486.7L38.62 484.72L39.01 483.14L39.4 481.71L39.8 479.7L40.19 477.05L40.58 474.73L40.97 471.51L41.36 468.47L41.76 466.68L42.15 463.11L42.54 460.26L42.93 457.54L43.32 455.79L43.72 453.32L44.11 450.67L44.5 448.2L44.89 445.8L45.29 442.87L45.68 440.4L46.07 438.73L46.46 437.85L46.85 436.33L47.25 435.15L47.64 435.78L48.03 434.51L48.42 434.23L48.82 435.61L49.21 437.88L49.6 441.51L49.99 445.99L50.38 449.53L50.78 455.32L51.17 459.75L51.56 464.73L51.95 470.86L52.34 475.71L52.74 479.31L53.13 483.76L53.52 487.94L53.91 490.94L54.31 493.41L54.7 495.08L55.09 496.86L55.48 498.41L55.87 499.28L56.27 500.06L56.66 500.7L57.05 501.15L57.44 501.46L57.84 501.68L58.23 501.84L58.62 501.94L59.01 502.02L59.4 502.07L59.8 502.1L60.19 502.12L60.58 502.14L60.97 502.15L61.37 502.16L61.76 502.16L62.15 502.17L62.54 502.17L62.93 502.18L63.33 502.18L63.72 502.18L64.11 502.18L64.5 502.19L64.89 502.19L65.29 502.19L65.68 502.19L66.07 502.19L66.46 502.19L66.86 502.19L67.25 502.19L67.64 502.19" fill="none" stroke="#000" stroke-width="1.4" stroke-dasharray="1.6 1.2" stroke-linejoin="round"/>
<path d="M24.5 497.93L25.15 497.87L25.81 498L26.46 497.93L27.11 497.91L27.77 497.71L28.42 497.65L29.08 497.87L29.73 497.82L30.38 497.73L31.04 497.63L31.69 497.39L32.34 497.13L33 496.92L33.65 496.58L34.3 495.77L34.96 494.96L35.61 493.75L36.27 492.06L36.92 490.47L37.57 488.48L38.23 485.81L38.88 482.72L39.53 480.28L40.19 475.03L40.84 471.05L41.49 466.4L42.15 461.85L42.8 457.8L43.46 453.1L44.11 449.15L44.76 444.17L45.42 441.63L46.07 438.79L46.72 436.54L47.38 435.51L48.03 435.12L48.68 438.23L49.34 443.93L49.99 451.49L50.65 460.58L51.3 469.29L51.95 478.33L52.61 484.25L53.26 490.32L53.91 494.83L54.57 497.65L55.22 499.51L55.87 500.68L56.53 501.35L57.18 501.73L57.84 501.94L58.49 502.05L59.14 502.1L59.8 502.13L60.45 502.15L61.1 502.16L61.76 502.17L62.41 502.17L63.06 502.18L63.72 502.18L64.37 502.18L65.03 502.19L65.68 502.19L66.33 502.19L66.99 502.19L67.64 502.19L68.29 502.2L68.95 502.2L69.6 502.2L70.25 502.2L70.91 502.2L71.56 502.2L72.22 502.2L72.87 502.2L73.52 502.2L74.18 502.2L74.83 502.2L75.48 502.2L76.14 502.2L76.79 502.2L77.44 502.2L78.1 502.2L78.75 502.2L79.41 502.2L80.06 502.2L80.71 502.2L81.37 502.2L82.02 502.2L82.67 502.2L83.33 502.2L83.98 502.2L84.63 502.2L85.29 502.2L85.94 502.2L86.6 502.2L87.25 502.2L87.9 502.2L88.56 502.2L89.21 502.2L89.86 502.2L90.52 502.2L91.17 502.2L91.82 502.2L92.48 502.2L93.13 502.2L93.79 502.2L94.44 502.2L95.09 502.2L95.75 502.2L96.4 502.2" fill="none" stroke="#000" stroke-width="1.6" stroke-linejoin="round"/>
<rect x="24.5" y="430.5" width="71.9" height="71.7" fill="none" stroke="#111" stroke-width="1.15"/>
<line x1="23.1" y1="444.84" x2="24.5" y2="444.84" stroke="#000" stroke-width="0.6"/>
<line x1="23.1" y1="459.18" x2="24.5" y2="459.18" stroke="#000" stroke-width="0.6"/>
<line x1="23.1" y1="473.52" x2="24.5" y2="473.52" stroke="#000" stroke-width="0.6"/>
<line x1="23.1" y1="487.86" x2="24.5" y2="487.86" stroke="#000" stroke-width="0.6"/>
<line x1="28.99" y1="502.2" x2="28.99" y2="502.9" stroke="#000" stroke-width="0.5"/>
<line x1="33.49" y1="502.2" x2="33.49" y2="502.9" stroke="#000" stroke-width="0.5"/>
<line x1="37.98" y1="502.2" x2="37.98" y2="502.9" stroke="#000" stroke-width="0.5"/>
<line x1="42.48" y1="502.2" x2="42.48" y2="503.6" stroke="#000" stroke-width="0.5"/>
<line x1="46.97" y1="502.2" x2="46.97" y2="502.9" stroke="#000" stroke-width="0.5"/>
<line x1="51.46" y1="502.2" x2="51.46" y2="502.9" stroke="#000" stroke-width="0.5"/>
<line x1="55.96" y1="502.2" x2="55.96" y2="502.9" stroke="#000" stroke-width="0.5"/>
<line x1="60.45" y1="502.2" x2="60.45" y2="503.6" stroke="#000" stroke-width="0.5"/>
<line x1="64.94" y1="502.2" x2="64.94" y2="502.9" stroke="#000" stroke-width="0.5"/>
<line x1="69.44" y1="502.2" x2="69.44" y2="502.9" stroke="#000" stroke-width="0.5"/>
<line x1="73.93" y1="502.2" x2="73.93" y2="502.9" stroke="#000" stroke-width="0.5"/>
<line x1="78.43" y1="502.2" x2="78.43" y2="503.6" stroke="#000" stroke-width="0.5"/>
<line x1="82.92" y1="502.2" x2="82.92" y2="502.9" stroke="#000" stroke-width="0.5"/>
<line x1="87.41" y1="502.2" x2="87.41" y2="502.9" stroke="#000" stroke-width="0.5"/>
<line x1="91.91" y1="502.2" x2="91.91" y2="502.9" stroke="#000" stroke-width="0.5"/>
<text x="55.2" y="517" font-size="12.8" text-anchor="middle" stroke="#000" stroke-width="0.2">CCR1</text>
</g>
<g>
<path d="M106.5 502.2L106.5 487.75L106.71 486.82L106.92 486.45L107.13 485.78L107.34 483.95L107.55 483.43L107.75 482.69L107.96 481.28L108.17 480.97L108.38 479.43L108.59 478.5L108.8 478.37L109.01 477.29L109.22 476.19L109.43 475.21L109.64 473.64L109.85 473.01L110.06 471.67L110.26 470.96L110.47 468.7L110.68 468.34L110.89 467.03L111.1 465.68L111.31 464.04L111.52 463.55L111.73 461.65L111.94 461.06L112.15 459.83L112.36 458.65L112.57 458.19L112.77 456.42L112.98 455.62L113.19 454.72L113.4 452.44L113.61 452.21L113.82 450.67L114.03 449.23L114.24 448.4L114.45 447.69L114.66 446.4L114.87 445.37L115.08 444.09L115.28 444.14L115.49 442.61L115.7 442.21L115.91 441.36L116.12 439.89L116.33 439.55L116.54 438.8L116.75 437.89L116.96 437.09L117.17 437.23L117.38 436.51L117.59 436.24L117.79 435.86L118 435.28L118.21 435.36L118.42 435.04L118.63 434.97L118.84 434.21L119.05 434.52L119.26 434.43L119.47 434.95L119.68 437L119.89 438.07L120.1 439.41L120.3 441.81L120.51 445.39L120.72 448.25L120.93 450.84L121.14 454.59L121.35 457.67L121.56 461.3L121.77 463.83L121.98 467.03L122.19 470.15L122.4 474.38L122.61 476.59L122.81 479.55L123.02 482.86L123.23 484.51L123.44 486.75L123.65 489.45L123.86 490.79L124.07 492.8L124.28 494.21L124.49 495.29L124.7 496.5L124.91 497.66L125.12 498.41L125.32 499.09L125.53 499.7L125.74 500.21L125.95 500.59L126.16 500.91L126.37 501.18L126.58 501.4L126.79 501.58L127 501.72L127.21 501.83L127.42 501.92L127.63 501.99L127.83 502.04L128.04 502.08L128.25 502.11L128.46 502.14L128.67 502.15L128.88 502.17L129.09 502.18L129.3 502.18L129.51 502.19L129.51 502.2Z" fill="#c2c2c2" stroke="#1a1a1a" stroke-width="1.05" stroke-linejoin="round"/>
<path d="M106.5 501.17L107.04 501.02L107.58 500.85L108.12 500.7L108.66 500.59L109.2 500.31L109.74 500.05L110.27 499.34L110.81 499.21L111.35 498.8L111.89 498.32L112.43 496.91L112.97 496.01L113.51 495.29L114.05 494.8L114.59 493.69L115.13 492.24L115.67 490.29L116.21 489.38L116.75 486.56L117.28 485.08L117.82 479.8L118.36 476.92L118.9 476.22L119.44 474.86L119.98 468.27L120.52 468.54L121.06 458.66L121.6 457.11L122.14 451.98L122.68 448.46L123.22 445.5L123.76 444.49L124.3 440.77L124.83 441.47L125.37 438.79L125.91 438.72L126.45 436.74L126.99 438.7L127.53 439.51L128.07 439.32L128.61 441.35L129.15 441.63L129.69 444.24L130.23 445.67L130.77 448.8L131.31 451.21L131.84 453.07L132.38 458.13L132.92 460.94L133.46 460L134 466.41L134.54 465.58L135.08 467.9L135.62 472.67L136.16 470.32L136.7 471.55L137.24 474.29L137.78 475.08L138.32 475.95L138.86 480.51L139.39 479.79L139.93 481.02L140.47 480.74L141.01 482.03L141.55 483.09L142.09 485.07L142.63 485.1L143.17 486.85L143.71 487.84L144.25 490.09L144.79 491.47L145.33 492.04L145.87 492.36L146.4 493.66L146.94 493.07L147.48 494.32L148.02 494.93L148.56 495.62L149.1 496.19L149.64 496.99L150.18 498.01L150.72 497.75L151.26 498.27L151.8 498.88L152.34 499.24L152.88 499.52L153.41 500.13L153.95 500.1L154.49 500.54L155.03 500.81L155.57 500.88L156.11 501.06L156.65 501.21L157.19 501.35L157.73 501.47L158.27 501.58L158.81 501.67L159.35 501.75L159.89 501.82L160.43 501.88" fill="none" stroke="#000" stroke-width="1.4" stroke-dasharray="1.6 1.2" stroke-linejoin="round"/>
<path d="M106.5 501.5L107.05 501.36L107.61 501.2L108.16 501L108.71 500.77L109.27 500.4L109.82 500.35L110.37 499.71L110.92 499.28L111.48 499.01L112.03 498.11L112.58 497L113.14 496.14L113.69 495.67L114.24 492.82L114.8 491.55L115.35 489.25L115.9 489.59L116.46 487.04L117.01 485.61L117.56 479.96L118.11 479.49L118.67 477.18L119.22 472.54L119.77 466.82L120.33 463.97L120.88 463.48L121.43 454.18L121.99 446.88L122.54 445.42L123.09 441.85L123.65 442.36L124.2 440.38L124.75 435.55L125.3 435.7L125.86 436.86L126.41 432.67L126.96 435.1L127.52 435.86L128.07 441.66L128.62 440.47L129.18 447.48L129.73 446.78L130.28 452.24L130.84 456.22L131.39 458.43L131.94 459.63L132.49 465.67L133.05 468.69L133.6 468.6L134.15 471.65L134.71 473.8L135.26 475.17L135.81 477.46L136.37 478.46L136.92 479.64L137.47 481.31L138.03 480.93L138.58 484.36L139.13 484.92L139.68 487.26L140.24 487.8L140.79 489.78L141.34 490.04L141.9 491.51L142.45 490.65L143 491.93L143.56 493.46L144.11 493.67L144.66 493.65L145.22 495.65L145.77 495.29L146.32 496.42L146.87 496.92L147.43 497.12L147.98 498.05L148.53 498.4L149.09 498.7L149.64 498.91L150.19 499.65L150.75 499.72L151.3 500.08L151.85 500.37L152.41 500.68L152.96 500.86L153.51 501.04L154.06 501.2L154.62 501.34L155.17 501.47L155.72 501.57L156.28 501.67L156.83 501.75L157.38 501.82L157.94 501.88L158.49 501.93L159.04 501.98L159.6 502.01L160.15 502.05L160.7 502.07L161.25 502.1L161.81 502.11L162.36 502.13L162.91 502.14L163.47 502.15L164.02 502.16L164.57 502.17L165.13 502.18L165.68 502.18L166.23 502.18L166.79 502.19L167.34 502.19L167.89 502.19L168.44 502.19L169 502.2L169.55 502.2L170.1 502.2L170.66 502.2L171.21 502.2L171.76 502.2L172.32 502.2L172.87 502.2L173.42 502.2L173.98 502.2L174.53 502.2L175.08 502.2L175.63 502.2L176.19 502.2L176.74 502.2L177.29 502.2L177.85 502.2L178.4 502.2" fill="none" stroke="#000" stroke-width="1.6" stroke-linejoin="round"/>
<rect x="106.5" y="430.5" width="71.9" height="71.7" fill="none" stroke="#111" stroke-width="1.15"/>
<line x1="105.1" y1="444.84" x2="106.5" y2="444.84" stroke="#000" stroke-width="0.6"/>
<line x1="105.1" y1="459.18" x2="106.5" y2="459.18" stroke="#000" stroke-width="0.6"/>
<line x1="105.1" y1="473.52" x2="106.5" y2="473.52" stroke="#000" stroke-width="0.6"/>
<line x1="105.1" y1="487.86" x2="106.5" y2="487.86" stroke="#000" stroke-width="0.6"/>
<line x1="110.99" y1="502.2" x2="110.99" y2="502.9" stroke="#000" stroke-width="0.5"/>
<line x1="115.49" y1="502.2" x2="115.49" y2="502.9" stroke="#000" stroke-width="0.5"/>
<line x1="119.98" y1="502.2" x2="119.98" y2="502.9" stroke="#000" stroke-width="0.5"/>
<line x1="124.47" y1="502.2" x2="124.47" y2="503.6" stroke="#000" stroke-width="0.5"/>
<line x1="128.97" y1="502.2" x2="128.97" y2="502.9" stroke="#000" stroke-width="0.5"/>
<line x1="133.46" y1="502.2" x2="133.46" y2="502.9" stroke="#000" stroke-width="0.5"/>
<line x1="137.96" y1="502.2" x2="137.96" y2="502.9" stroke="#000" stroke-width="0.5"/>
<line x1="142.45" y1="502.2" x2="142.45" y2="503.6" stroke="#000" stroke-width="0.5"/>
<line x1="146.94" y1="502.2" x2="146.94" y2="502.9" stroke="#000" stroke-width="0.5"/>
<line x1="151.44" y1="502.2" x2="151.44" y2="502.9" stroke="#000" stroke-width="0.5"/>
<line x1="155.93" y1="502.2" x2="155.93" y2="502.9" stroke="#000" stroke-width="0.5"/>
<line x1="160.43" y1="502.2" x2="160.43" y2="503.6" stroke="#000" stroke-width="0.5"/>
<line x1="164.92" y1="502.2" x2="164.92" y2="502.9" stroke="#000" stroke-width="0.5"/>
<line x1="169.41" y1="502.2" x2="169.41" y2="502.9" stroke="#000" stroke-width="0.5"/>
<line x1="173.91" y1="502.2" x2="173.91" y2="502.9" stroke="#000" stroke-width="0.5"/>
<text x="138.5" y="517" font-size="12.8" text-anchor="middle" stroke="#000" stroke-width="0.2">CCR2</text>
</g>
<g>
<path d="M186.9 502.2L186.9 473.79L187.14 485.39L187.37 492.7L187.61 496.55L187.84 498.14L188.08 497.85L188.31 497.47L188.55 497.02L188.78 496.49L189.02 495.97L189.25 495.47L189.49 494.89L189.72 494.49L189.96 493.83L190.19 493.11L190.43 492.16L190.66 491.61L190.9 490.66L191.14 490.14L191.37 489.23L191.61 488.17L191.84 486.91L192.08 485.85L192.31 484.79L192.55 484L192.78 482.65L193.02 481.5L193.25 480.26L193.49 479.37L193.72 477.17L193.96 476.61L194.19 474.33L194.43 472.96L194.67 472.56L194.9 470.58L195.14 468.67L195.37 466.98L195.61 466.04L195.84 464.7L196.08 463.21L196.31 460.81L196.55 460.1L196.78 458.12L197.02 457.09L197.25 455.13L197.49 453.14L197.72 452.6L197.96 450.37L198.19 449.32L198.43 447.52L198.67 446.41L198.9 445.69L199.14 443.72L199.37 443.04L199.61 442.49L199.84 441.51L200.08 440.02L200.31 439.21L200.55 438.61L200.78 438.11L201.02 437.28L201.25 436.81L201.49 435.8L201.72 436.45L201.96 435.37L202.2 435.15L202.43 435.99L202.67 435.7L202.9 437.35L203.14 439.26L203.37 442.72L203.61 445.95L203.84 449.69L204.08 453.09L204.31 457.87L204.55 462.53L204.78 466.84L205.02 471.29L205.25 475.64L205.49 479.39L205.72 482.15L205.96 485.83L206.2 488.21L206.43 491.11L206.67 493.22L206.9 494.94L207.14 496.55L207.37 497.75L207.61 498.67L207.84 499.52L208.08 500.19L208.31 500.71L208.55 501.11L208.78 501.41L209.02 501.63L209.25 501.8L209.49 501.92L209.72 502L209.96 502.07L210.2 502.11L210.43 502.14L210.67 502.16L210.9 502.17L211.14 502.18L211.37 502.19L211.61 502.19L211.84 502.2L212.08 502.2L212.31 502.2L212.55 502.2L212.78 502.2L212.78 502.2Z" fill="#c2c2c2" stroke="#1a1a1a" stroke-width="1.05" stroke-linejoin="round"/>
<path d="M186.9 495.92L187.23 495.18L187.55 494.36L187.88 493.73L188.21 493.19L188.53 492.39L188.86 491.45L189.19 490.66L189.51 489.73L189.84 488.97L190.17 487.68L190.5 485.76L190.82 485.53L191.15 483.79L191.48 482.27L191.8 480.5L192.13 480.06L192.46 478.48L192.78 476.95L193.11 475.08L193.44 473.34L193.76 470.76L194.09 469.2L194.42 467.39L194.74 467.05L195.07 465.22L195.4 462.22L195.72 460.06L196.05 458.95L196.38 456.93L196.7 456.13L197.03 453.67L197.36 451L197.69 449.47L198.01 447.76L198.34 445.96L198.67 445.68L198.99 444.46L199.32 443.02L199.65 441.11L199.97 439.66L200.3 438.14L200.63 437.57L200.95 436.86L201.28 435.94L201.61 435.88L201.93 435.27L202.26 435.83L202.59 434.36L202.91 435.27L203.24 434.6L203.57 436.35L203.89 438.93L204.22 441.87L204.55 444.86L204.88 447.85L205.2 451.75L205.53 457L205.86 461.43L206.18 465.01L206.51 469.19L206.84 473.63L207.16 477.77L207.49 480.72L207.82 484.76L208.14 487.25L208.47 489.63L208.8 491.47L209.12 493.63L209.45 495.12L209.78 496.65L210.1 497.81L210.43 498.67L210.76 499.2L211.08 499.81L211.41 500.3L211.74 500.65L212.06 500.84L212.39 501.02L212.72 501.16L213.05 501.26L213.37 501.33L213.7 501.38L214.03 501.41L214.35 501.44L214.68 501.45L215.01 501.46L215.33 501.47L215.66 501.47L215.99 501.48L216.31 501.48L216.64 501.48L216.97 501.48L217.29 501.48L217.62 501.48L217.95 501.48L218.27 501.48L218.6 501.48L218.93 501.48L219.25 501.48L219.58 501.48L219.91 501.48L220.24 501.48L220.56 501.48L220.89 501.48L221.22 501.48L221.54 501.48L221.87 501.48L222.2 501.48L222.52 501.48L222.85 501.48" fill="none" stroke="#000" stroke-width="1.4" stroke-dasharray="1.6 1.2" stroke-linejoin="round"/>
<path d="M186.9 495.36L187.55 494.02L188.21 492.75L188.86 490.9L189.51 489.56L190.17 486.69L190.82 484.58L191.48 481.48L192.13 478.7L192.78 476.18L193.44 473.28L194.09 468.29L194.74 466.08L195.4 461.82L196.05 458.37L196.7 454.83L197.36 450.57L198.01 446.84L198.67 445.01L199.32 441.58L199.97 439.83L200.63 437.47L201.28 436.3L201.93 435.77L202.59 435.4L203.24 436.4L203.89 439.46L204.55 447.03L205.2 456.04L205.86 464.01L206.51 472.66L207.16 481.36L207.82 488.01L208.47 492.67L209.12 496.09L209.78 498.25L210.43 499.73L211.08 500.55L211.74 501L212.39 501.25L213.05 501.38L213.7 501.44L214.35 501.46L215.01 501.48L215.66 501.48L216.31 501.48L216.97 501.48L217.62 501.48L218.27 501.48L218.93 501.48L219.58 501.48L220.24 501.48L220.89 501.48L221.54 501.48L222.2 501.48L222.85 501.48L223.5 501.48L224.16 501.48L224.81 501.48L225.46 501.48L226.12 501.48L226.77 501.48L227.43 501.48L228.08 501.48L228.73 501.48L229.39 501.48L230.04 501.48L230.69 501.48L231.35 501.48L232 501.48L232.65 501.48L233.31 501.48L233.96 501.48L234.62 501.48L235.27 501.48L235.92 501.48L236.58 501.48L237.23 501.48L237.88 501.48L238.54 501.48L239.19 501.48L239.84 501.48L240.5 501.48L241.15 501.48L241.81 501.48L242.46 501.48L243.11 501.48L243.77 501.48L244.42 501.48L245.07 501.48L245.73 501.48L246.38 501.48L247.03 501.48L247.69 501.48L248.34 501.48L249 501.48L249.65 501.48L250.3 501.48L250.96 501.48L251.61 501.48L252.26 501.48L252.92 501.48L253.57 501.48L254.22 501.48L254.88 501.48L255.53 501.48L256.19 501.48L256.84 501.48L257.49 501.48L258.15 501.48L258.8 501.48" fill="none" stroke="#000" stroke-width="1.6" stroke-linejoin="round"/>
<rect x="186.9" y="430.5" width="71.9" height="71.7" fill="none" stroke="#111" stroke-width="1.15"/>
<line x1="185.5" y1="444.84" x2="186.9" y2="444.84" stroke="#000" stroke-width="0.6"/>
<line x1="185.5" y1="459.18" x2="186.9" y2="459.18" stroke="#000" stroke-width="0.6"/>
<line x1="185.5" y1="473.52" x2="186.9" y2="473.52" stroke="#000" stroke-width="0.6"/>
<line x1="185.5" y1="487.86" x2="186.9" y2="487.86" stroke="#000" stroke-width="0.6"/>
<line x1="191.39" y1="502.2" x2="191.39" y2="502.9" stroke="#000" stroke-width="0.5"/>
<line x1="195.89" y1="502.2" x2="195.89" y2="502.9" stroke="#000" stroke-width="0.5"/>
<line x1="200.38" y1="502.2" x2="200.38" y2="502.9" stroke="#000" stroke-width="0.5"/>
<line x1="204.88" y1="502.2" x2="204.88" y2="503.6" stroke="#000" stroke-width="0.5"/>
<line x1="209.37" y1="502.2" x2="209.37" y2="502.9" stroke="#000" stroke-width="0.5"/>
<line x1="213.86" y1="502.2" x2="213.86" y2="502.9" stroke="#000" stroke-width="0.5"/>
<line x1="218.36" y1="502.2" x2="218.36" y2="502.9" stroke="#000" stroke-width="0.5"/>
<line x1="222.85" y1="502.2" x2="222.85" y2="503.6" stroke="#000" stroke-width="0.5"/>
<line x1="227.34" y1="502.2" x2="227.34" y2="502.9" stroke="#000" stroke-width="0.5"/>
<line x1="231.84" y1="502.2" x2="231.84" y2="502.9" stroke="#000" stroke-width="0.5"/>
<line x1="236.33" y1="502.2" x2="236.33" y2="502.9" stroke="#000" stroke-width="0.5"/>
<line x1="240.83" y1="502.2" x2="240.83" y2="503.6" stroke="#000" stroke-width="0.5"/>
<line x1="245.32" y1="502.2" x2="245.32" y2="502.9" stroke="#000" stroke-width="0.5"/>
<line x1="249.81" y1="502.2" x2="249.81" y2="502.9" stroke="#000" stroke-width="0.5"/>
<line x1="254.31" y1="502.2" x2="254.31" y2="502.9" stroke="#000" stroke-width="0.5"/>
<text x="218" y="517" font-size="12.8" text-anchor="middle" stroke="#000" stroke-width="0.2">CCR3</text>
</g>
<g>
<path d="M269.4 502.2L269.4 464.92L270.05 490.13L270.71 497.58L271.36 497.2L272.01 496.62L272.67 495.98L273.32 495.53L273.98 494.8L274.63 493.71L275.28 492.44L275.94 490.76L276.59 489.14L277.24 486.37L277.9 483.53L278.55 480.36L279.2 476.77L279.86 471.46L280.51 467.34L281.17 461.6L281.82 456.99L282.47 451.84L283.13 446.44L283.78 442.83L284.43 438.87L285.09 437.4L285.74 437.11L286.39 438.13L287.05 441.52L287.7 447.01L288.36 453.96L289.01 453.88L289.66 461.52L290.32 469L290.97 474.36L291.62 481.09L292.28 485.64L292.93 489L293.58 491.31L294.24 492.92L294.89 494.3L295.55 495.35L296.2 496.04L296.85 496.66L297.51 497.3L298.16 497.73L298.81 497.91L299.47 498.26L300.12 498.65L300.77 498.77L301.43 499.03L302.08 499.22L302.74 499.39L303.39 499.57L304.04 499.73L304.7 499.82L305.35 499.93L306 499.97L306.66 500.15L307.31 500.16L307.96 500.31L308.62 500.37L309.27 500.39L309.93 500.46L310.58 500.54L311.23 500.62L311.89 500.64L312.54 500.69L313.19 500.69L313.85 500.77L314.5 500.78L315.15 500.81L315.81 500.84L316.46 500.87L317.12 500.89L317.77 500.91L318.42 500.93L319.08 500.94L319.73 500.96L320.38 500.97L321.04 500.99L321.69 501L322.34 501.01L323 501.02L323.65 501.03L324.31 501.04L324.96 501.05L325.61 501.05L326.27 501.06L326.92 501.06L327.57 501.07L328.23 501.07L328.88 501.08L329.53 501.08L330.19 501.09L330.84 501.09L331.5 501.09L332.15 501.1L332.8 501.1L333.46 501.1L334.11 501.1L334.76 501.1L335.42 501.11L336.07 501.11L336.72 501.11L337.38 501.1L338.03 501.09L338.69 501.05L339.34 500.91L339.99 500.48L340.65 499.04L341.3 495.01L341.3 502.2Z" fill="#c2c2c2" stroke="#1a1a1a" stroke-width="1.05" stroke-linejoin="round"/>
<path d="M269.4 497.78L270.05 497.55L270.71 497.1L271.36 496.52L272.01 495.67L272.67 494.75L273.32 493.95L273.98 492.96L274.63 491.47L275.28 489.66L275.94 487.61L276.59 485.15L277.24 482.21L277.9 479.23L278.55 476.52L279.2 471.22L279.86 467.73L280.51 462.56L281.17 458.03L281.82 452.56L282.47 448.82L283.13 444.47L283.78 440.8L284.43 438.12L285.09 435.09L285.74 435L286.39 436.22L287.05 439.45L287.7 444.16L288.36 452.43L289.01 455.81L289.66 463.12L290.32 471.06L290.97 477.06L291.62 484.22L292.28 488.2L292.93 491.26L293.58 493.7L294.24 495.4L294.89 496.97L295.55 497.71L296.2 498.36L296.85 498.8L297.51 498.97L298.16 499.35L298.81 499.53L299.47 499.84L300.12 499.93L300.77 500.15L301.43 500.31L302.08 500.36L302.74 500.44L303.39 500.64L304.04 500.67L304.7 500.74L305.35 500.83L306 500.89L306.66 500.95L307.31 501L307.96 501.05L308.62 501.09L309.27 501.13L309.93 501.17L310.58 501.2L311.23 501.23L311.89 501.26L312.54 501.29L313.19 501.31L313.85 501.33L314.5 501.35L315.15 501.37L315.81 501.38L316.46 501.4L317.12 501.41L317.77 501.43L318.42 501.44L319.08 501.45L319.73 501.46L320.38 501.46L321.04 501.47L321.69 501.48L322.34 501.49L323 501.49L323.65 501.5L324.31 501.5L324.96 501.51L325.61 501.51L326.27 501.52L326.92 501.52L327.57 501.52L328.23 501.52L328.88 501.53L329.53 501.53L330.19 501.53L330.84 501.53L331.5 501.54L332.15 501.54L332.8 501.54L333.46 501.54L334.11 501.54L334.76 501.54L335.42 501.54L336.07 501.54L336.72 501.54L337.38 501.54L338.03 501.53L338.69 501.51L339.34 501.42L339.99 501.16L340.65 500.38L341.3 497.83" fill="none" stroke="#000" stroke-width="1.4" stroke-dasharray="1.6 1.2" stroke-linejoin="round"/>
<path d="M269.4 498.09L270.05 497.5L270.71 497L271.36 496.69L272.01 496.04L272.67 495.26L273.32 493.84L273.98 493.11L274.63 491.4L275.28 489.58L275.94 488.12L276.59 485.85L277.24 482.15L277.9 479.35L278.55 476.24L279.2 471.32L279.86 467.49L280.51 462.77L281.17 458.3L281.82 452.09L282.47 447.12L283.13 443.34L283.78 439.17L284.43 438.02L285.09 436.04L285.74 435.22L286.39 435.65L287.05 439.71L287.7 447.08L288.36 455.25L289.01 459.2L289.66 467.43L290.32 474.17L290.97 481.63L291.62 486.09L292.28 490.21L292.93 493.1L293.58 495.21L294.24 496.72L294.89 497.8L295.55 498.5L296.2 498.99L296.85 499.29L297.51 499.73L298.16 499.95L298.81 500.07L299.47 500.31L300.12 500.48L300.77 500.6L301.43 500.65L302.08 500.77L302.74 500.84L303.39 500.91L304.04 500.98L304.7 501.04L305.35 501.1L306 501.15L306.66 501.2L307.31 501.24L307.96 501.28L308.62 501.31L309.27 501.35L309.93 501.38L310.58 501.4L311.23 501.43L311.89 501.45L312.54 501.47L313.19 501.49L313.85 501.51L314.5 501.52L315.15 501.53L315.81 501.55L316.46 501.56L317.12 501.57L317.77 501.58L318.42 501.59L319.08 501.6L319.73 501.6L320.38 501.61L321.04 501.62L321.69 501.62L322.34 501.63L323 501.63L323.65 501.64L324.31 501.64L324.96 501.65L325.61 501.65L326.27 501.65L326.92 501.65L327.57 501.66L328.23 501.66L328.88 501.66L329.53 501.66L330.19 501.67L330.84 501.67L331.5 501.67L332.15 501.67L332.8 501.67L333.46 501.67L334.11 501.67L334.76 501.67L335.42 501.67L336.07 501.68L336.72 501.68L337.38 501.67L338.03 501.67L338.69 501.65L339.34 501.58L339.99 501.37L340.65 500.66L341.3 498.57" fill="none" stroke="#000" stroke-width="1.6" stroke-linejoin="round"/>
<rect x="269.4" y="430.5" width="71.9" height="71.7" fill="none" stroke="#111" stroke-width="1.15"/>
<line x1="268" y1="444.84" x2="269.4" y2="444.84" stroke="#000" stroke-width="0.6"/>
<line x1="268" y1="459.18" x2="269.4" y2="459.18" stroke="#000" stroke-width="0.6"/>
<line x1="268" y1="473.52" x2="269.4" y2="473.52" stroke="#000" stroke-width="0.6"/>
<line x1="268" y1="487.86" x2="269.4" y2="487.86" stroke="#000" stroke-width="0.6"/>
<line x1="273.89" y1="502.2" x2="273.89" y2="502.9" stroke="#000" stroke-width="0.5"/>
<line x1="278.39" y1="502.2" x2="278.39" y2="502.9" stroke="#000" stroke-width="0.5"/>
<line x1="282.88" y1="502.2" x2="282.88" y2="502.9" stroke="#000" stroke-width="0.5"/>
<line x1="287.38" y1="502.2" x2="287.38" y2="503.6" stroke="#000" stroke-width="0.5"/>
<line x1="291.87" y1="502.2" x2="291.87" y2="502.9" stroke="#000" stroke-width="0.5"/>
<line x1="296.36" y1="502.2" x2="296.36" y2="502.9" stroke="#000" stroke-width="0.5"/>
<line x1="300.86" y1="502.2" x2="300.86" y2="502.9" stroke="#000" stroke-width="0.5"/>
<line x1="305.35" y1="502.2" x2="305.35" y2="503.6" stroke="#000" stroke-width="0.5"/>
<line x1="309.84" y1="502.2" x2="309.84" y2="502.9" stroke="#000" stroke-width="0.5"/>
<line x1="314.34" y1="502.2" x2="314.34" y2="502.9" stroke="#000" stroke-width="0.5"/>
<line x1="318.83" y1="502.2" x2="318.83" y2="502.9" stroke="#000" stroke-width="0.5"/>
<line x1="323.32" y1="502.2" x2="323.32" y2="503.6" stroke="#000" stroke-width="0.5"/>
<line x1="327.82" y1="502.2" x2="327.82" y2="502.9" stroke="#000" stroke-width="0.5"/>
<line x1="332.31" y1="502.2" x2="332.31" y2="502.9" stroke="#000" stroke-width="0.5"/>
<line x1="336.81" y1="502.2" x2="336.81" y2="502.9" stroke="#000" stroke-width="0.5"/>
<text x="303.1" y="517" font-size="12.8" text-anchor="middle" stroke="#000" stroke-width="0.2">CCR4</text>
</g>
<g>
<path d="M350.8 502.2L350.8 483.26L351 490.13L351.19 494.52L351.39 497.22L351.58 498.83L351.78 498.57L351.98 498.24L352.17 497.74L352.37 497.19L352.56 496.85L352.76 496.28L352.96 495.76L353.15 494.9L353.35 494.35L353.55 493.89L353.74 493.14L353.94 492.19L354.13 491.24L354.33 490.28L354.53 489.74L354.72 488.71L354.92 487.2L355.11 486.36L355.31 485.34L355.51 484.12L355.7 482.12L355.9 481.57L356.09 479.89L356.29 478.78L356.49 477.24L356.68 475.11L356.88 473.39L357.07 472.73L357.27 471.37L357.47 468.98L357.66 468.08L357.86 466.69L358.06 463.72L358.25 462.71L358.45 460.45L358.64 459.35L358.84 456.98L359.04 455.92L359.23 454.7L359.43 453.29L359.62 450.94L359.82 449.27L360.02 447.4L360.21 447.14L360.41 445L360.6 444.06L360.8 442.64L361 442.01L361.19 440.75L361.39 439.44L361.59 437.99L361.78 438.39L361.98 437.18L362.17 436.18L362.37 435.5L362.57 436.27L362.76 436.16L362.96 434.89L363.15 434.96L363.35 436.3L363.55 438.09L363.74 438.51L363.94 441.42L364.13 443.23L364.33 446.53L364.53 449.43L364.72 453.8L364.92 456.47L365.11 460.93L365.31 464.34L365.51 467.34L365.7 470.91L365.9 475.24L366.1 478.42L366.29 481.17L366.49 483.82L366.68 486.51L366.88 489.02L367.08 490.96L367.27 492.49L367.47 494.03L367.66 495.79L367.86 496.78L368.06 497.75L368.25 498.77L368.45 499.32L368.64 500.02L368.84 500.43L369.04 500.83L369.23 501.14L369.43 501.39L369.62 501.58L369.82 501.74L370.02 501.85L370.21 501.94L370.41 502.01L370.61 502.06L370.8 502.1L371 502.13L371.19 502.15L371.39 502.16L371.59 502.17L371.78 502.18L371.98 502.19L372.17 502.19L372.37 502.19L372.37 502.2Z" fill="#c2c2c2" stroke="#1a1a1a" stroke-width="1.05" stroke-linejoin="round"/>
<path d="M350.8 502.03L351.26 501.98L351.72 501.91L352.17 501.83L352.63 501.73L353.09 501.6L353.55 501.43L354 501.23L354.46 500.98L354.92 500.7L355.38 500.24L355.83 499.91L356.29 499.28L356.75 498.48L357.21 497.94L357.66 497.02L358.12 495.82L358.58 494.7L359.04 493.53L359.49 491.84L359.95 490.09L360.41 487.11L360.87 485.18L361.32 482.34L361.78 481.06L362.24 477L362.7 475.51L363.15 471.56L363.61 468.2L364.07 465.63L364.53 461.38L364.98 458.98L365.44 450.55L365.9 446.78L366.36 445.57L366.81 441.07L367.27 439.61L367.73 438.25L368.19 435.95L368.64 436.11L369.1 434.08L369.56 435.43L370.02 437.33L370.47 438.79L370.93 442.56L371.39 446.79L371.85 449.63L372.3 455.4L372.76 458.05L373.22 463.48L373.68 466.64L374.13 469.58L374.59 473.76L375.05 476.53L375.51 479.84L375.97 482.6L376.42 484.36L376.88 485.75L377.34 486.46L377.8 487.93L378.25 488.91L378.71 489.45L379.17 491.15L379.63 491.84L380.08 492.21L380.54 493.46L381 494.14L381.46 494.52L381.91 495.3L382.37 495.73L382.83 496.37L383.29 496.72L383.74 497.23L384.2 497.87L384.66 498.16L385.12 498.63L385.57 499.12L386.03 499.26L386.49 499.75L386.95 500.07L387.4 500.34L387.86 500.49L388.32 500.68L388.78 500.93L389.23 501.1L389.69 501.25L390.15 501.39L390.61 501.51L391.06 501.61L391.52 501.7L391.98 501.78L392.44 501.85L392.89 501.91L393.35 501.96L393.81 502L394.27 502.03L394.72 502.06L395.18 502.09L395.64 502.11L396.1 502.13L396.55 502.14L397.01 502.15L397.47 502.16L397.93 502.17L398.38 502.18L398.84 502.18L399.3 502.18L399.76 502.19L400.21 502.19L400.67 502.19L401.13 502.19" fill="none" stroke="#000" stroke-width="1.4" stroke-dasharray="1.6 1.2" stroke-linejoin="round"/>
<path d="M350.8 502.02L351.45 501.94L352.11 501.82L352.76 501.66L353.41 501.44L354.07 501.14L354.72 500.72L355.38 500.16L356.03 499.51L356.68 498.55L357.34 497.3L357.99 495.88L358.64 493.89L359.3 491.84L359.95 489.24L360.6 486.81L361.26 482.46L361.91 478.86L362.57 475.26L363.22 469.74L363.87 465.19L364.53 461.39L365.18 457.67L365.83 447.35L366.49 444.17L367.14 440.82L367.79 437.64L368.45 436.73L369.1 435.44L369.76 436.76L370.41 441.17L371.06 444.77L371.72 451.81L372.37 456.64L373.02 462.67L373.68 468.87L374.33 474.76L374.98 477.9L375.64 481.47L376.29 483.15L376.95 486.55L377.6 487.27L378.25 488.6L378.91 490.19L379.56 491.26L380.21 492.87L380.87 493.22L381.52 494.53L382.17 495.12L382.83 496L383.48 497.14L384.14 497.57L384.79 498.18L385.44 499.03L386.1 499.46L386.75 499.82L387.4 500.33L388.06 500.55L388.71 500.9L389.36 501.15L390.02 501.35L390.67 501.53L391.33 501.67L391.98 501.78L392.63 501.88L393.29 501.95L393.94 502.01L394.59 502.06L395.25 502.09L395.9 502.12L396.55 502.14L397.21 502.16L397.86 502.17L398.52 502.18L399.17 502.18L399.82 502.19L400.48 502.19L401.13 502.19L401.78 502.2L402.44 502.2L403.09 502.2L403.74 502.2L404.4 502.2L405.05 502.2L405.71 502.2L406.36 502.2L407.01 502.2L407.67 502.2L408.32 502.2L408.97 502.2L409.63 502.2L410.28 502.2L410.93 502.2L411.59 502.2L412.24 502.2L412.9 502.2L413.55 502.2L414.2 502.2L414.86 502.2L415.51 502.2L416.16 502.2L416.82 502.2L417.47 502.2L418.12 502.2L418.78 502.2L419.43 502.2L420.09 502.2L420.74 502.2L421.39 502.2L422.05 502.2L422.7 502.2" fill="none" stroke="#000" stroke-width="1.6" stroke-linejoin="round"/>
<rect x="350.8" y="430.5" width="71.9" height="71.7" fill="none" stroke="#111" stroke-width="1.15"/>
<line x1="349.4" y1="444.84" x2="350.8" y2="444.84" stroke="#000" stroke-width="0.6"/>
<line x1="349.4" y1="459.18" x2="350.8" y2="459.18" stroke="#000" stroke-width="0.6"/>
<line x1="349.4" y1="473.52" x2="350.8" y2="473.52" stroke="#000" stroke-width="0.6"/>
<line x1="349.4" y1="487.86" x2="350.8" y2="487.86" stroke="#000" stroke-width="0.6"/>
<line x1="355.29" y1="502.2" x2="355.29" y2="502.9" stroke="#000" stroke-width="0.5"/>
<line x1="359.79" y1="502.2" x2="359.79" y2="502.9" stroke="#000" stroke-width="0.5"/>
<line x1="364.28" y1="502.2" x2="364.28" y2="502.9" stroke="#000" stroke-width="0.5"/>
<line x1="368.78" y1="502.2" x2="368.78" y2="503.6" stroke="#000" stroke-width="0.5"/>
<line x1="373.27" y1="502.2" x2="373.27" y2="502.9" stroke="#000" stroke-width="0.5"/>
<line x1="377.76" y1="502.2" x2="377.76" y2="502.9" stroke="#000" stroke-width="0.5"/>
<line x1="382.26" y1="502.2" x2="382.26" y2="502.9" stroke="#000" stroke-width="0.5"/>
<line x1="386.75" y1="502.2" x2="386.75" y2="503.6" stroke="#000" stroke-width="0.5"/>
<line x1="391.24" y1="502.2" x2="391.24" y2="502.9" stroke="#000" stroke-width="0.5"/>
<line x1="395.74" y1="502.2" x2="395.74" y2="502.9" stroke="#000" stroke-width="0.5"/>
<line x1="400.23" y1="502.2" x2="400.23" y2="502.9" stroke="#000" stroke-width="0.5"/>
<line x1="404.73" y1="502.2" x2="404.73" y2="503.6" stroke="#000" stroke-width="0.5"/>
<line x1="409.22" y1="502.2" x2="409.22" y2="502.9" stroke="#000" stroke-width="0.5"/>
<line x1="413.71" y1="502.2" x2="413.71" y2="502.9" stroke="#000" stroke-width="0.5"/>
<line x1="418.21" y1="502.2" x2="418.21" y2="502.9" stroke="#000" stroke-width="0.5"/>
<text x="383.1" y="517" font-size="12.8" text-anchor="middle" stroke="#000" stroke-width="0.2">CCR5</text>
</g>
<g>
<path d="M432.8 502.2L432.8 501.66L433.19 501.62L433.58 501.56L433.98 501.49L434.37 501.4L434.76 501.27L435.15 501.11L435.55 500.9L435.94 500.62L436.33 500.32L436.72 499.93L437.11 499.46L437.51 498.76L437.9 498.03L438.29 497.19L438.68 496.05L439.07 494.87L439.47 493.23L439.86 491.63L440.25 490.01L440.64 487.45L441.04 485.72L441.43 482.7L441.82 479.98L442.21 477.1L442.6 474.03L443 469.76L443.39 467.07L443.78 462.8L444.17 458.68L444.57 455.96L444.96 452.36L445.35 448.52L445.74 445.51L446.13 442.54L446.53 439.89L446.92 438.6L447.31 436.9L447.7 435.87L448.1 435.65L448.49 434.85L448.88 436.3L449.27 438.85L449.66 443.16L450.06 446.52L450.45 451.59L450.84 457.24L451.23 462.43L451.62 468.21L452.02 473.69L452.41 473.52L452.8 477.76L453.19 481.77L453.59 484.75L453.98 487.2L454.37 489.52L454.76 491.6L455.15 493.41L455.55 494.96L455.94 495.94L456.33 496.82L456.72 497.4L457.12 497.98L457.51 498.44L457.9 498.71L458.29 498.94L458.68 499.28L459.08 499.39L459.47 499.67L459.86 499.79L460.25 499.93L460.64 500L461.04 500.1L461.43 500.23L461.82 500.37L462.21 500.42L462.61 500.55L463 500.64L463.39 500.66L463.78 500.76L464.17 500.83L464.57 500.89L464.96 500.95L465.35 501L465.74 501.06L466.14 501.1L466.53 501.15L466.92 501.19L467.31 501.23L467.7 501.26L468.1 501.3L468.49 501.33L468.88 501.36L469.27 501.38L469.67 501.41L470.06 501.43L470.45 501.45L470.84 501.48L471.23 501.49L471.63 501.51L472.02 501.53L472.41 501.55L472.8 501.56L473.19 501.57L473.59 501.59L473.98 501.6L474.37 501.61L474.76 501.62L475.16 501.63L475.55 501.64L475.94 501.65L475.94 502.2Z" fill="#c2c2c2" stroke="#1a1a1a" stroke-width="1.05" stroke-linejoin="round"/>
<path d="M432.8 492.27L433.26 491.49L433.72 491.25L434.17 490.73L434.63 489.52L435.09 489.2L435.55 488.02L436 487.29L436.46 486.86L436.92 485.19L437.38 483.76L437.83 481.71L438.29 480.58L438.75 478.05L439.21 476.21L439.66 474.46L440.12 470.87L440.58 469.58L441.04 465.57L441.49 463.82L441.95 461.18L442.41 457.87L442.87 453.94L443.32 450.65L443.78 449.5L444.24 445.98L444.7 443.48L445.15 440.68L445.61 439.74L446.07 437.53L446.53 436.45L446.98 434.65L447.44 435.07L447.9 433.74L448.36 435.36L448.81 436.83L449.27 438.17L449.73 441.41L450.19 445.6L450.64 448.72L451.1 454.05L451.56 457.43L452.02 462.27L452.47 457.29L452.93 462.05L453.39 466.75L453.85 470.59L454.3 474.16L454.76 477.11L455.22 481.85L455.68 483.73L456.13 487.35L456.59 489.31L457.05 491.08L457.51 492.16L457.97 493.73L458.42 494.86L458.88 495.5L459.34 496.52L459.8 497.02L460.25 497.49L460.71 497.84L461.17 498.2L461.63 498.53L462.08 498.86L462.54 499.09L463 499.33L463.46 499.36L463.91 499.56L464.37 499.69L464.83 499.92L465.29 500L465.74 500.06L466.2 500.19L466.66 500.34L467.12 500.38L467.57 500.41L468.03 500.56L468.49 500.63L468.95 500.68L469.4 500.7L469.86 500.77L470.32 500.82L470.78 500.87L471.23 500.91L471.69 500.95L472.15 500.98L472.61 501.01L473.06 501.04L473.52 501.07L473.98 501.1L474.44 501.12L474.89 501.14L475.35 501.16L475.81 501.18L476.27 501.2L476.72 501.22L477.18 501.23L477.64 501.25L478.1 501.26L478.55 501.27L479.01 501.28L479.47 501.29L479.93 501.3L480.38 501.31L480.84 501.32L481.3 501.32L481.76 501.33L482.21 501.34L482.67 501.34L483.13 501.35" fill="none" stroke="#000" stroke-width="1.4" stroke-dasharray="1.6 1.2" stroke-linejoin="round"/>
<path d="M432.8 448.09L433.45 489.53L434.11 488.07L434.76 487.26L435.41 485.3L436.07 483.67L436.72 481.36L437.38 479.63L438.03 476.49L438.68 473.78L439.34 470.97L439.99 467.6L440.64 463.16L441.3 460.22L441.95 454.86L442.6 452.29L443.26 448.75L443.91 445.14L444.57 440.62L445.22 439.01L445.87 437.31L446.53 436.11L447.18 435.39L447.83 434.46L448.49 436.68L449.14 440.63L449.79 446.21L450.45 454.1L451.1 460.47L451.76 468.16L452.41 465.67L453.06 471.83L453.72 476.96L454.37 482.54L455.02 485.74L455.68 489.1L456.33 491.68L456.98 494.14L457.64 495.46L458.29 496.53L458.95 497.33L459.6 497.67L460.25 498.17L460.91 498.62L461.56 498.91L462.21 499.24L462.87 499.55L463.52 499.8L464.17 499.98L464.83 500.05L465.48 500.28L466.14 500.39L466.79 500.5L467.44 500.65L468.1 500.72L468.75 500.78L469.4 500.85L470.06 500.92L470.71 500.98L471.36 501.03L472.02 501.08L472.67 501.13L473.33 501.16L473.98 501.2L474.63 501.23L475.29 501.26L475.94 501.28L476.59 501.3L477.25 501.32L477.9 501.34L478.55 501.35L479.21 501.37L479.86 501.38L480.52 501.39L481.17 501.4L481.82 501.41L482.48 501.42L483.13 501.43L483.78 501.43L484.44 501.44L485.09 501.44L485.74 501.45L486.4 501.45L487.05 501.45L487.71 501.46L488.36 501.46L489.01 501.46L489.67 501.46L490.32 501.47L490.97 501.47L491.63 501.47L492.28 501.47L492.93 501.47L493.59 501.47L494.24 501.47L494.9 501.48L495.55 501.48L496.2 501.48L496.86 501.48L497.51 501.48L498.16 501.48L498.82 501.48L499.47 501.48L500.12 501.48L500.78 501.48L501.43 501.48L502.09 501.48L502.74 501.48L503.39 501.48L504.05 501.48L504.7 501.48" fill="none" stroke="#000" stroke-width="1.6" stroke-linejoin="round"/>
<rect x="432.8" y="430.5" width="71.9" height="71.7" fill="none" stroke="#111" stroke-width="1.15"/>
<line x1="431.4" y1="444.84" x2="432.8" y2="444.84" stroke="#000" stroke-width="0.6"/>
<line x1="431.4" y1="459.18" x2="432.8" y2="459.18" stroke="#000" stroke-width="0.6"/>
<line x1="431.4" y1="473.52" x2="432.8" y2="473.52" stroke="#000" stroke-width="0.6"/>
<line x1="431.4" y1="487.86" x2="432.8" y2="487.86" stroke="#000" stroke-width="0.6"/>
<line x1="437.29" y1="502.2" x2="437.29" y2="502.9" stroke="#000" stroke-width="0.5"/>
<line x1="441.79" y1="502.2" x2="441.79" y2="502.9" stroke="#000" stroke-width="0.5"/>
<line x1="446.28" y1="502.2" x2="446.28" y2="502.9" stroke="#000" stroke-width="0.5"/>
<line x1="450.78" y1="502.2" x2="450.78" y2="503.6" stroke="#000" stroke-width="0.5"/>
<line x1="455.27" y1="502.2" x2="455.27" y2="502.9" stroke="#000" stroke-width="0.5"/>
<line x1="459.76" y1="502.2" x2="459.76" y2="502.9" stroke="#000" stroke-width="0.5"/>
<line x1="464.26" y1="502.2" x2="464.26" y2="502.9" stroke="#000" stroke-width="0.5"/>
<line x1="468.75" y1="502.2" x2="468.75" y2="503.6" stroke="#000" stroke-width="0.5"/>
<line x1="473.24" y1="502.2" x2="473.24" y2="502.9" stroke="#000" stroke-width="0.5"/>
<line x1="477.74" y1="502.2" x2="477.74" y2="502.9" stroke="#000" stroke-width="0.5"/>
<line x1="482.23" y1="502.2" x2="482.23" y2="502.9" stroke="#000" stroke-width="0.5"/>
<line x1="486.73" y1="502.2" x2="486.73" y2="503.6" stroke="#000" stroke-width="0.5"/>
<line x1="491.22" y1="502.2" x2="491.22" y2="502.9" stroke="#000" stroke-width="0.5"/>
<line x1="495.71" y1="502.2" x2="495.71" y2="502.9" stroke="#000" stroke-width="0.5"/>
<line x1="500.21" y1="502.2" x2="500.21" y2="502.9" stroke="#000" stroke-width="0.5"/>
<text x="465.2" y="517" font-size="12.8" text-anchor="middle" stroke="#000" stroke-width="0.2">CCR6</text>
</g>
<g>
<path d="M24.5 596.2L24.5 591.76L24.7 591.39L24.89 590.87L25.09 590.29L25.28 589.65L25.48 588.94L25.68 588.32L25.87 587.5L26.07 586.72L26.26 585.55L26.46 584.69L26.66 583.96L26.85 582.49L27.05 581.8L27.25 580.46L27.44 578.85L27.64 577.64L27.83 576.3L28.03 575.09L28.23 573.8L28.42 571.9L28.62 570.76L28.81 569.04L29.01 567.2L29.21 565.78L29.4 563.71L29.6 561.59L29.79 559.86L29.99 558.2L30.19 556.25L30.38 554.56L30.58 553.01L30.77 550.79L30.97 549.16L31.17 547.1L31.36 545.23L31.56 543.96L31.76 542.21L31.95 540.49L32.15 539.28L32.34 538.04L32.54 536.29L32.74 534.93L32.93 533.9L33.13 532.95L33.32 531.92L33.52 531.3L33.72 530.68L33.91 530.32L34.11 530.05L34.3 529.53L34.5 529.87L34.7 529.69L34.89 529.91L35.09 530.94L35.28 532.4L35.48 534.51L35.68 536.51L35.87 538.95L36.07 541.54L36.27 544.68L36.46 547.59L36.66 550.62L36.85 554.58L37.05 557.52L37.25 560.72L37.44 564.31L37.64 567.37L37.83 569.97L38.03 573.62L38.23 575.88L38.42 578.62L38.62 580.54L38.81 582.57L39.01 584.66L39.21 586.5L39.4 587.83L39.6 589.16L39.8 590.27L39.99 591.31L40.19 592.15L40.38 592.86L40.58 593.51L40.78 594.04L40.97 594.43L41.17 594.81L41.36 595.1L41.56 595.33L41.76 595.52L41.95 595.68L42.15 595.8L42.34 595.89L42.54 595.96L42.74 596.02L42.93 596.07L43.13 596.1L43.32 596.13L43.52 596.15L43.72 596.16L43.91 596.17L44.11 596.18L44.31 596.19L44.5 596.19L44.7 596.19L44.89 596.19L45.09 596.2L45.29 596.2L45.48 596.2L45.68 596.2L45.87 596.2L46.07 596.2L46.07 596.2Z" fill="#c2c2c2" stroke="#1a1a1a" stroke-width="1.05" stroke-linejoin="round"/>
<path d="M24.5 590.55L24.76 589.87L25.02 589.05L25.28 588.29L25.55 587.03L25.81 586.25L26.07 584.96L26.33 583.6L26.59 582.25L26.85 581.05L27.11 579.66L27.38 577.82L27.64 576.49L27.9 573.96L28.16 572.56L28.42 570L28.68 568.59L28.94 566.32L29.21 564.25L29.47 561.79L29.73 559.77L29.99 557.66L30.25 554.5L30.51 552.68L30.77 550.41L31.04 548.07L31.3 545.65L31.56 543.57L31.82 541.28L32.08 539.3L32.34 537.82L32.61 535.49L32.87 534.05L33.13 533.61L33.39 531.56L33.65 530.49L33.91 529.86L34.17 530.04L34.44 528.9L34.7 529.01L34.96 530.02L35.22 531L35.48 531.54L35.74 534.08L36 537.28L36.27 540.64L36.53 544.13L36.79 547.84L37.05 551.21L37.31 555.78L37.57 560.07L37.83 563.2L38.1 567.16L38.36 571.51L38.62 574.11L38.88 577.53L39.14 580.23L39.4 582.85L39.66 584.96L39.93 586.96L40.19 588.61L40.45 590.22L40.71 591.26L40.97 592.26L41.23 593.02L41.49 593.7L41.76 594.16L42.02 594.6L42.28 594.91L42.54 595.16L42.8 595.34L43.06 595.48L43.32 595.58L43.59 595.66L43.85 595.71L44.11 595.75L44.37 595.78L44.63 595.8L44.89 595.81L45.15 595.82L45.42 595.83L45.68 595.83L45.94 595.84L46.2 595.84L46.46 595.84L46.72 595.84L46.99 595.84L47.25 595.84L47.51 595.84L47.77 595.84L48.03 595.84L48.29 595.84L48.55 595.84L48.82 595.84L49.08 595.84L49.34 595.84L49.6 595.84L49.86 595.84L50.12 595.84L50.38 595.84L50.65 595.84L50.91 595.84L51.17 595.84L51.43 595.84L51.69 595.84L51.95 595.84L52.21 595.84L52.48 595.84L52.74 595.84L53 595.84L53.26 595.84" fill="none" stroke="#000" stroke-width="1.4" stroke-dasharray="1.6 1.2" stroke-linejoin="round"/>
<path d="M24.5 590.28L25.15 588.07L25.81 585.61L26.46 582.22L27.11 578.93L27.77 573.71L28.42 569.43L29.08 564.36L29.73 558.4L30.38 552.43L31.04 547.18L31.69 541.43L32.34 536.81L33 532.81L33.65 530.68L34.3 529.54L34.96 530.28L35.61 534.4L36.27 542.25L36.92 552.74L37.57 563.5L38.23 572.35L38.88 580.58L39.53 586.48L40.19 590.44L40.84 592.82L41.49 594.31L42.15 595.13L42.8 595.53L43.46 595.71L44.11 595.79L44.76 595.82L45.42 595.84L46.07 595.84L46.72 595.84L47.38 595.84L48.03 595.84L48.68 595.84L49.34 595.84L49.99 595.84L50.65 595.84L51.3 595.84L51.95 595.84L52.61 595.84L53.26 595.84L53.91 595.84L54.57 595.84L55.22 595.84L55.87 595.84L56.53 595.84L57.18 595.84L57.84 595.84L58.49 595.84L59.14 595.84L59.8 595.84L60.45 595.84L61.1 595.84L61.76 595.84L62.41 595.84L63.06 595.84L63.72 595.84L64.37 595.84L65.03 595.84L65.68 595.84L66.33 595.84L66.99 595.84L67.64 595.84L68.29 595.84L68.95 595.84L69.6 595.84L70.25 595.84L70.91 595.84L71.56 595.84L72.22 595.84L72.87 595.84L73.52 595.84L74.18 595.84L74.83 595.84L75.48 595.84L76.14 595.84L76.79 595.84L77.44 595.84L78.1 595.84L78.75 595.84L79.41 595.84L80.06 595.84L80.71 595.84L81.37 595.84L82.02 595.84L82.67 595.84L83.33 595.84L83.98 595.84L84.63 595.84L85.29 595.84L85.94 595.84L86.6 595.84L87.25 595.84L87.9 595.84L88.56 595.84L89.21 595.84L89.86 595.84L90.52 595.84L91.17 595.84L91.82 595.84L92.48 595.84L93.13 595.84L93.79 595.84L94.44 595.84L95.09 595.84L95.75 595.84L96.4 595.84" fill="none" stroke="#000" stroke-width="1.6" stroke-linejoin="round"/>
<rect x="24.5" y="524.5" width="71.9" height="71.7" fill="none" stroke="#111" stroke-width="1.15"/>
<line x1="23.1" y1="538.84" x2="24.5" y2="538.84" stroke="#000" stroke-width="0.6"/>
<line x1="23.1" y1="553.18" x2="24.5" y2="553.18" stroke="#000" stroke-width="0.6"/>
<line x1="23.1" y1="567.52" x2="24.5" y2="567.52" stroke="#000" stroke-width="0.6"/>
<line x1="23.1" y1="581.86" x2="24.5" y2="581.86" stroke="#000" stroke-width="0.6"/>
<line x1="28.99" y1="596.2" x2="28.99" y2="596.9" stroke="#000" stroke-width="0.5"/>
<line x1="33.49" y1="596.2" x2="33.49" y2="596.9" stroke="#000" stroke-width="0.5"/>
<line x1="37.98" y1="596.2" x2="37.98" y2="596.9" stroke="#000" stroke-width="0.5"/>
<line x1="42.48" y1="596.2" x2="42.48" y2="597.6" stroke="#000" stroke-width="0.5"/>
<line x1="46.97" y1="596.2" x2="46.97" y2="596.9" stroke="#000" stroke-width="0.5"/>
<line x1="51.46" y1="596.2" x2="51.46" y2="596.9" stroke="#000" stroke-width="0.5"/>
<line x1="55.96" y1="596.2" x2="55.96" y2="596.9" stroke="#000" stroke-width="0.5"/>
<line x1="60.45" y1="596.2" x2="60.45" y2="597.6" stroke="#000" stroke-width="0.5"/>
<line x1="64.94" y1="596.2" x2="64.94" y2="596.9" stroke="#000" stroke-width="0.5"/>
<line x1="69.44" y1="596.2" x2="69.44" y2="596.9" stroke="#000" stroke-width="0.5"/>
<line x1="73.93" y1="596.2" x2="73.93" y2="596.9" stroke="#000" stroke-width="0.5"/>
<line x1="78.43" y1="596.2" x2="78.43" y2="597.6" stroke="#000" stroke-width="0.5"/>
<line x1="82.92" y1="596.2" x2="82.92" y2="596.9" stroke="#000" stroke-width="0.5"/>
<line x1="87.41" y1="596.2" x2="87.41" y2="596.9" stroke="#000" stroke-width="0.5"/>
<line x1="91.91" y1="596.2" x2="91.91" y2="596.9" stroke="#000" stroke-width="0.5"/>
<text x="58.8" y="611" font-size="12.8" text-anchor="middle" stroke="#000" stroke-width="0.2">CXCR1</text>
</g>
<g>
<path d="M106.5 596.2L106.5 576.35L106.71 584L106.92 588.72L107.13 591.51L107.34 591.15L107.55 590.55L107.75 590.1L107.96 589.42L108.17 588.79L108.38 588.11L108.59 587.25L108.8 586.88L109.01 585.67L109.22 585L109.43 584.05L109.64 583.02L109.85 581.89L110.06 581.15L110.26 580.02L110.47 578.41L110.68 577.96L110.89 576.19L111.1 574.87L111.31 574.17L111.52 572.13L111.73 570.6L111.94 568.83L112.15 567.99L112.36 565.69L112.57 564.64L112.77 563.05L112.98 560.94L113.19 560.27L113.4 557.81L113.61 556.24L113.82 554.89L114.03 552.61L114.24 551.52L114.45 549.74L114.66 548.05L114.87 546.17L115.08 545.25L115.28 543.47L115.49 542.01L115.7 540.44L115.91 538.77L116.12 538.09L116.33 536.27L116.54 535.62L116.75 534.45L116.96 533.76L117.17 532.62L117.38 531.32L117.59 531.02L117.79 530.31L118 530.39L118.21 530.07L118.42 529.87L118.63 529.43L118.84 529.45L119.05 529.86L119.26 531.83L119.47 532.67L119.68 534.57L119.89 537.47L120.1 540.91L120.3 543.78L120.51 547.51L120.72 550.86L120.93 553.66L121.14 557.7L121.35 561.28L121.56 564.69L121.77 567.97L121.98 571.56L122.19 574.62L122.4 577.45L122.61 579.99L122.81 582.42L123.02 584.48L123.23 586.57L123.44 588L123.65 589.49L123.86 590.62L124.07 591.81L124.28 592.64L124.49 593.38L124.7 593.88L124.91 594.36L125.12 594.79L125.32 595.11L125.53 595.37L125.74 595.57L125.95 595.72L126.16 595.84L126.37 595.93L126.58 596L126.79 596.06L127 596.1L127.21 596.13L127.42 596.15L127.63 596.16L127.83 596.17L128.04 596.18L128.25 596.19L128.46 596.19L128.67 596.19L128.88 596.2L129.09 596.2L129.3 596.2L129.51 596.2L129.51 596.2Z" fill="#c2c2c2" stroke="#1a1a1a" stroke-width="1.05" stroke-linejoin="round"/>
<path d="M106.5 595.99L106.96 595.96L107.42 595.92L107.87 595.88L108.33 595.83L108.79 595.77L109.25 595.71L109.7 595.64L110.16 595.56L110.62 595.47L111.08 595.37L111.53 595.26L111.99 595.13L112.45 595L112.91 594.84L113.36 594.62L113.82 594.53L114.28 594.22L114.74 594.04L115.19 593.94L115.65 593.69L116.11 593.26L116.57 592.91L117.02 592.81L117.48 592.39L117.94 591.86L118.4 591.69L118.85 590.96L119.31 590.69L119.77 590.44L120.23 589.78L120.68 589.13L121.14 588.67L121.6 587.93L122.06 587.74L122.51 586.58L122.97 586.31L123.43 585.37L123.89 584.67L124.34 584.16L124.8 583.44L125.26 582.16L125.72 581.08L126.17 580.37L126.63 579.7L127.09 579.09L127.55 578.36L128 575.53L128.46 574.6L128.92 572.78L129.38 572.1L129.83 569.6L130.29 566.68L130.75 564.66L131.21 562.61L131.66 560.48L132.12 557.28L132.58 553.19L133.04 551.1L133.5 547.2L133.95 544.18L134.41 540.46L134.87 537.78L135.33 536.34L135.78 534.85L136.24 532.81L136.7 531.64L137.16 531.18L137.61 531.29L138.07 532.53L138.53 536.53L138.99 537.72L139.44 541.27L139.9 545.14L140.36 550.1L140.82 555.27L141.27 558.62L141.73 563.23L142.19 567.84L142.65 571.43L143.1 576.35L143.56 580.07L144.02 582.36L144.48 584.71L144.93 587.46L145.39 588.91L145.85 590.38L146.31 591.94L146.76 592.81L147.22 593.59L147.68 594.26L148.14 594.77L148.59 595.1L149.05 595.39L149.51 595.6L149.97 595.76L150.42 595.88L150.88 595.96L151.34 596.03L151.8 596.08L152.25 596.11L152.71 596.14L153.17 596.15L153.63 596.17L154.08 596.18L154.54 596.18L155 596.19L155.46 596.19L155.91 596.19L156.37 596.2L156.83 596.2" fill="none" stroke="#000" stroke-width="1.4" stroke-dasharray="1.6 1.2" stroke-linejoin="round"/>
<path d="M106.5 595.99L107.15 595.94L107.81 595.88L108.46 595.81L109.11 595.73L109.77 595.63L110.42 595.51L111.08 595.37L111.73 595.21L112.38 595.02L113.04 594.8L113.69 594.53L114.34 594.29L115 593.88L115.65 593.51L116.3 593.16L116.96 592.8L117.61 592.29L118.27 591.7L118.92 591.15L119.57 590.45L120.23 589.62L120.88 588.66L121.53 588.46L122.19 587.22L122.84 586.77L123.49 585.77L124.15 584.04L124.8 583.19L125.46 581.58L126.11 580.9L126.76 580.14L127.42 577.99L128.07 575.8L128.72 572.95L129.38 570.31L130.03 568.5L130.68 565.3L131.34 562.19L131.99 556.84L132.65 553.29L133.3 548.79L133.95 544.5L134.61 540.24L135.26 535.07L135.91 533.53L136.57 530.28L137.22 532.19L137.87 532.06L138.53 536.82L139.18 541.64L139.84 545.77L140.49 553.1L141.14 558.6L141.8 566.21L142.45 572.49L143.1 576.39L143.76 581.14L144.41 584.83L145.06 588.01L145.72 590.69L146.37 592.15L147.03 593.4L147.68 594.35L148.33 594.96L148.99 595.38L149.64 595.67L150.29 595.86L150.95 595.98L151.6 596.06L152.25 596.11L152.91 596.15L153.56 596.17L154.22 596.18L154.87 596.19L155.52 596.19L156.18 596.2L156.83 596.2L157.48 596.2L158.14 596.2L158.79 596.2L159.44 596.2L160.1 596.2L160.75 596.2L161.41 596.2L162.06 596.2L162.71 596.2L163.37 596.2L164.02 596.2L164.67 596.2L165.33 596.2L165.98 596.2L166.63 596.2L167.29 596.2L167.94 596.2L168.6 596.2L169.25 596.2L169.9 596.2L170.56 596.2L171.21 596.2L171.86 596.2L172.52 596.2L173.17 596.2L173.82 596.2L174.48 596.2L175.13 596.2L175.79 596.2L176.44 596.2L177.09 596.2L177.75 596.2L178.4 596.2" fill="none" stroke="#000" stroke-width="1.6" stroke-linejoin="round"/>
<rect x="106.5" y="524.5" width="71.9" height="71.7" fill="none" stroke="#111" stroke-width="1.15"/>
<line x1="105.1" y1="538.84" x2="106.5" y2="538.84" stroke="#000" stroke-width="0.6"/>
<line x1="105.1" y1="553.18" x2="106.5" y2="553.18" stroke="#000" stroke-width="0.6"/>
<line x1="105.1" y1="567.52" x2="106.5" y2="567.52" stroke="#000" stroke-width="0.6"/>
<line x1="105.1" y1="581.86" x2="106.5" y2="581.86" stroke="#000" stroke-width="0.6"/>
<line x1="110.99" y1="596.2" x2="110.99" y2="596.9" stroke="#000" stroke-width="0.5"/>
<line x1="115.49" y1="596.2" x2="115.49" y2="596.9" stroke="#000" stroke-width="0.5"/>
<line x1="119.98" y1="596.2" x2="119.98" y2="596.9" stroke="#000" stroke-width="0.5"/>
<line x1="124.47" y1="596.2" x2="124.47" y2="597.6" stroke="#000" stroke-width="0.5"/>
<line x1="128.97" y1="596.2" x2="128.97" y2="596.9" stroke="#000" stroke-width="0.5"/>
<line x1="133.46" y1="596.2" x2="133.46" y2="596.9" stroke="#000" stroke-width="0.5"/>
<line x1="137.96" y1="596.2" x2="137.96" y2="596.9" stroke="#000" stroke-width="0.5"/>
<line x1="142.45" y1="596.2" x2="142.45" y2="597.6" stroke="#000" stroke-width="0.5"/>
<line x1="146.94" y1="596.2" x2="146.94" y2="596.9" stroke="#000" stroke-width="0.5"/>
<line x1="151.44" y1="596.2" x2="151.44" y2="596.9" stroke="#000" stroke-width="0.5"/>
<line x1="155.93" y1="596.2" x2="155.93" y2="596.9" stroke="#000" stroke-width="0.5"/>
<line x1="160.43" y1="596.2" x2="160.43" y2="597.6" stroke="#000" stroke-width="0.5"/>
<line x1="164.92" y1="596.2" x2="164.92" y2="596.9" stroke="#000" stroke-width="0.5"/>
<line x1="169.41" y1="596.2" x2="169.41" y2="596.9" stroke="#000" stroke-width="0.5"/>
<line x1="173.91" y1="596.2" x2="173.91" y2="596.9" stroke="#000" stroke-width="0.5"/>
<text x="142.2" y="611" font-size="12.8" text-anchor="middle" stroke="#000" stroke-width="0.2">CXCR3</text>
</g>
<g>
<path d="M186.9 596.2L186.9 580.67L187.11 579.49L187.32 578.63L187.53 578.07L187.74 577.55L187.95 575.99L188.15 575.1L188.36 574.71L188.57 573.39L188.78 572.04L188.99 571.05L189.2 570.44L189.41 569.45L189.62 568.26L189.83 567.64L190.04 566.54L190.25 565.45L190.46 563.72L190.66 562.98L190.87 561.6L191.08 560.63L191.29 559.33L191.5 558.58L191.71 557.53L191.92 555.26L192.13 554.8L192.34 553.93L192.55 552.16L192.76 550.81L192.97 550.38L193.17 548.73L193.38 547.89L193.59 546.57L193.8 546.04L194.01 544.94L194.22 542.79L194.43 541.89L194.64 541.32L194.85 540.24L195.06 539.64L195.27 538.13L195.48 537.65L195.68 536.21L195.89 535.61L196.1 534.78L196.31 533.89L196.52 534.03L196.73 533.64L196.94 532.87L197.15 532.35L197.36 531.98L197.57 531.58L197.78 530.61L197.99 529.92L198.19 530.12L198.4 529.34L198.61 529.22L198.82 530.08L199.03 529.41L199.24 529.72L199.45 530.58L199.66 530.67L199.87 533.01L200.08 534.63L200.29 536.91L200.5 539.27L200.7 542.61L200.91 546.17L201.12 549.52L201.33 553.37L201.54 556L201.75 559.52L201.96 563.89L202.17 567.48L202.38 570.46L202.59 573.4L202.8 575.7L203.01 578.38L203.21 580.88L203.42 583.58L203.63 585.1L203.84 586.88L204.05 588.43L204.26 589.65L204.47 591.05L204.68 591.97L204.89 592.67L205.1 593.34L205.31 593.95L205.52 594.45L205.72 594.81L205.93 595.12L206.14 595.36L206.35 595.56L206.56 595.71L206.77 595.83L206.98 595.92L207.19 595.99L207.4 596.05L207.61 596.09L207.82 596.12L208.03 596.14L208.23 596.16L208.44 596.17L208.65 596.18L208.86 596.19L209.07 596.19L209.28 596.19L209.49 596.2L209.7 596.2L209.91 596.2L209.91 596.2Z" fill="#c2c2c2" stroke="#1a1a1a" stroke-width="1.05" stroke-linejoin="round"/>
<path d="M186.9 593.96L187.46 593.87L188.01 593.87L188.57 593.91L189.12 593.81L189.68 593.23L190.23 593.22L190.79 592.82L191.34 593.12L191.9 592.45L192.46 592.74L193.01 592.28L193.57 591.87L194.12 591.59L194.68 591.38L195.23 589.47L195.79 589.23L196.35 587.87L196.9 588.33L197.46 588.19L198.01 586.77L198.57 586.48L199.12 585.09L199.68 582.26L200.23 579.07L200.79 579.14L201.35 575.4L201.9 574.95L202.46 574.04L203.01 574.1L203.57 568.39L204.12 564.91L204.68 562.03L205.23 563.04L205.79 560.7L206.35 562.06L206.9 559.66L207.46 562.47L208.01 557.77L208.57 556.86L209.12 558.94L209.68 558.7L210.23 558.18L210.79 557.53L211.35 559.46L211.9 554.14L212.46 557.5L213.01 557.53L213.57 556.82L214.12 554.16L214.68 549.03L215.24 550.77L215.79 548.75L216.35 545.01L216.9 547.08L217.46 546.64L218.01 541.82L218.57 539.76L219.12 537.87L219.68 535.12L220.24 536.89L220.79 532.68L221.35 533.14L221.9 535.86L222.46 534.6L223.01 531.78L223.57 530.82L224.12 531.17L224.68 531.5L225.24 530.03L225.79 531.73L226.35 530.02L226.9 529.28L227.46 533.31L228.01 531.38L228.57 532.29L229.12 538.5L229.68 538.86L230.24 541.25L230.79 545.14L231.35 547.31L231.9 550.37L232.46 558.1L233.01 564.03L233.57 563.84L234.13 566.14L234.68 572.5L235.24 578.04L235.79 582.31L236.35 584.71L236.9 584.09L237.46 586.52L238.01 589.14L238.57 591.96L239.13 593.66L239.68 594.3L240.24 594.43L240.79 594.95L241.35 595.47L241.9 595.83L242.46 595.91L243.01 595.91L243.57 595.91L244.13 595.91L244.68 595.91L245.24 595.91L245.79 595.91L246.35 595.91L246.9 595.91L247.46 595.91L248.02 595.91" fill="none" stroke="#000" stroke-width="1.4" stroke-dasharray="1.6 1.2" stroke-linejoin="round"/>
<path d="M186.9 591.82L187.45 591.39L188.01 591.36L188.56 590.11L189.11 588.97L189.67 587.88L190.22 585.77L190.77 585.2L191.32 583.93L191.88 583.39L192.43 581.37L192.98 583.13L193.54 579.67L194.09 579.45L194.64 577.66L195.2 570.64L195.75 571.25L196.3 565.07L196.86 563.39L197.41 562.14L197.96 565.38L198.51 561.29L199.07 558.86L199.62 549.79L200.17 545.56L200.73 543.15L201.28 542.66L201.83 541.63L202.39 535.51L202.94 533.1L203.49 529.4L204.05 531.57L204.6 533.15L205.15 536.94L205.7 536.4L206.26 538.56L206.81 540.85L207.36 537.87L207.92 541.82L208.47 542.07L209.02 544.22L209.58 544.19L210.13 541.49L210.68 544.57L211.24 546.36L211.79 545.87L212.34 547.84L212.89 545.75L213.45 550.09L214 544.9L214.55 547.13L215.11 539.87L215.66 538.24L216.21 538.96L216.77 537.02L217.32 536L217.87 533.59L218.43 531.74L218.98 530.21L219.53 527.7L220.08 528.99L220.64 530.98L221.19 536.67L221.74 536.77L222.3 534.09L222.85 539.99L223.4 539.58L223.96 545L224.51 544.13L225.06 549.88L225.62 546.98L226.17 551.58L226.72 555.24L227.27 558.19L227.83 555.09L228.38 557.71L228.93 562.47L229.49 565.08L230.04 566.19L230.59 571.67L231.15 570.7L231.7 575.51L232.25 578.84L232.81 580.42L233.36 583.1L233.91 585L234.46 586.67L235.02 588.77L235.57 590.33L236.12 592.19L236.68 592.81L237.23 593.3L237.78 593.87L238.34 594.81L238.89 595.52L239.44 595.77L240 595.77L240.55 595.77L241.1 595.77L241.65 595.78L242.21 595.78L242.76 595.78L243.31 595.79L243.87 595.79L244.42 595.79L244.97 595.8L245.53 595.8L246.08 595.81L246.63 595.81L247.19 595.82L247.74 595.83L248.29 595.83L248.84 595.84L249.4 595.84L249.95 595.85L250.5 595.86L251.06 595.86L251.61 595.87L252.16 595.87L252.72 595.88L253.27 595.88L253.82 595.89L254.38 595.89L254.93 595.9L255.48 595.9L256.03 595.91L256.59 595.91L257.14 595.91L257.69 595.91L258.25 595.91L258.8 595.91" fill="none" stroke="#000" stroke-width="1.6" stroke-linejoin="round"/>
<rect x="186.9" y="524.5" width="71.9" height="71.7" fill="none" stroke="#111" stroke-width="1.15"/>
<line x1="185.5" y1="538.84" x2="186.9" y2="538.84" stroke="#000" stroke-width="0.6"/>
<line x1="185.5" y1="553.18" x2="186.9" y2="553.18" stroke="#000" stroke-width="0.6"/>
<line x1="185.5" y1="567.52" x2="186.9" y2="567.52" stroke="#000" stroke-width="0.6"/>
<line x1="185.5" y1="581.86" x2="186.9" y2="581.86" stroke="#000" stroke-width="0.6"/>
<line x1="191.39" y1="596.2" x2="191.39" y2="596.9" stroke="#000" stroke-width="0.5"/>
<line x1="195.89" y1="596.2" x2="195.89" y2="596.9" stroke="#000" stroke-width="0.5"/>
<line x1="200.38" y1="596.2" x2="200.38" y2="596.9" stroke="#000" stroke-width="0.5"/>
<line x1="204.88" y1="596.2" x2="204.88" y2="597.6" stroke="#000" stroke-width="0.5"/>
<line x1="209.37" y1="596.2" x2="209.37" y2="596.9" stroke="#000" stroke-width="0.5"/>
<line x1="213.86" y1="596.2" x2="213.86" y2="596.9" stroke="#000" stroke-width="0.5"/>
<line x1="218.36" y1="596.2" x2="218.36" y2="596.9" stroke="#000" stroke-width="0.5"/>
<line x1="222.85" y1="596.2" x2="222.85" y2="597.6" stroke="#000" stroke-width="0.5"/>
<line x1="227.34" y1="596.2" x2="227.34" y2="596.9" stroke="#000" stroke-width="0.5"/>
<line x1="231.84" y1="596.2" x2="231.84" y2="596.9" stroke="#000" stroke-width="0.5"/>
<line x1="236.33" y1="596.2" x2="236.33" y2="596.9" stroke="#000" stroke-width="0.5"/>
<line x1="240.83" y1="596.2" x2="240.83" y2="597.6" stroke="#000" stroke-width="0.5"/>
<line x1="245.32" y1="596.2" x2="245.32" y2="596.9" stroke="#000" stroke-width="0.5"/>
<line x1="249.81" y1="596.2" x2="249.81" y2="596.9" stroke="#000" stroke-width="0.5"/>
<line x1="254.31" y1="596.2" x2="254.31" y2="596.9" stroke="#000" stroke-width="0.5"/>
<text x="222" y="611" font-size="12.8" text-anchor="middle" stroke="#000" stroke-width="0.2">CXCR4</text>
</g>
<g>
<path d="M269.4 596.2L269.4 524.5L269.61 524.5L269.82 524.5L270.03 526.66L270.24 531.04L270.45 537.04L270.65 540.18L270.86 545.91L271.07 547.02L271.28 549.21L271.49 553.86L271.7 555.22L271.91 552.79L272.12 555.34L272.33 555.97L272.54 556.69L272.75 554.98L272.96 553.84L273.16 553.13L273.37 556.74L273.58 553.07L273.79 554.36L274 551.71L274.21 553.16L274.42 551.22L274.63 548.7L274.84 549.57L275.05 550.75L275.26 548.66L275.47 548.31L275.67 544.87L275.88 547.3L276.09 546.25L276.3 543.52L276.51 545.1L276.72 541.61L276.93 538.65L277.14 539.7L277.35 539.75L277.56 537.58L277.77 536.09L277.98 536.89L278.18 535.94L278.39 534.88L278.6 533.13L278.81 531.72L279.02 531.57L279.23 531.18L279.44 531.47L279.65 528.82L279.86 527.15L280.07 528.27L280.28 528.6L280.49 528.64L280.69 531.66L280.9 530.2L281.11 532.84L281.32 534.09L281.53 535.71L281.74 538.62L281.95 541.81L282.16 544.73L282.37 547.55L282.58 548.91L282.79 552.46L283 554.38L283.2 560.21L283.41 561.42L283.62 561.74L283.83 567.67L284.04 568.77L284.25 571.69L284.46 575.1L284.67 574.39L284.88 579.34L285.09 579.71L285.3 583.44L285.51 585.25L285.71 584.88L285.92 587.21L286.13 589.07L286.34 589.62L286.55 590.52L286.76 591.07L286.97 592.41L287.18 592.93L287.39 593.02L287.6 593.67L287.81 594.35L288.02 594.62L288.22 594.86L288.43 595.11L288.64 595.32L288.85 595.49L289.06 595.63L289.27 595.75L289.48 595.84L289.69 595.92L289.9 595.98L290.11 596.03L290.32 596.07L290.53 596.1L290.73 596.12L290.94 596.14L291.15 596.15L291.36 596.16L291.57 596.17L291.78 596.18L291.99 596.19L292.2 596.19L292.41 596.19L292.41 596.2Z" fill="#c2c2c2" stroke="#1a1a1a" stroke-width="1.05" stroke-linejoin="round"/>
<path d="M269.4 590.17L269.73 589.91L270.05 589.89L270.38 589.8L270.71 590.11L271.03 589.99L271.36 589.75L271.69 590.13L272.01 590.1L272.34 589.84L272.67 589.85L273 589.64L273.32 589.69L273.65 589.79L273.98 589.56L274.3 589.77L274.63 589.76L274.96 589.66L275.28 589.79L275.61 589.79L275.94 589.66L276.26 589.75L276.59 589.45L276.92 589.55L277.24 589.58L277.57 589.75L277.9 589.57L278.22 589.49L278.55 589.33L278.88 589.2L279.2 588.88L279.53 588.62L279.86 588.6L280.19 588.27L280.51 587.72L280.84 586.91L281.17 586.66L281.49 585.69L281.82 584.45L282.15 583.82L282.47 582.31L282.8 579.97L283.13 578.26L283.45 576.57L283.78 574.88L284.11 571.02L284.43 568.58L284.76 565.34L285.09 561.85L285.41 558.68L285.74 556.03L286.07 552.96L286.39 549.21L286.72 545.37L287.05 542.05L287.38 539.45L287.7 536.58L288.03 533.26L288.36 531.14L288.68 529.85L289.01 527.52L289.34 527.41L289.66 528.26L289.99 528.04L290.32 528.44L290.64 530.93L290.97 532.5L291.3 536.41L291.62 539.06L291.95 541.65L292.28 545.88L292.6 549.7L292.93 554.56L293.26 558.11L293.58 562.01L293.91 566.37L294.24 569.4L294.56 573.05L294.89 575.58L295.22 579.11L295.55 581.91L295.87 584.47L296.2 586.43L296.53 587.79L296.85 589.65L297.18 590.9L297.51 591.92L297.83 592.7L298.16 593.37L298.49 594.01L298.81 594.46L299.14 594.88L299.47 595.17L299.79 595.41L300.12 595.59L300.45 595.73L300.77 595.83L301.1 595.92L301.43 595.98L301.75 596.02L302.08 596.06L302.41 596.09L302.74 596.11L303.06 596.12L303.39 596.14L303.72 596.15L304.04 596.15L304.37 596.16L304.7 596.17L305.02 596.17L305.35 596.17" fill="none" stroke="#000" stroke-width="1.4" stroke-dasharray="1.6 1.2" stroke-linejoin="round"/>
<path d="M269.4 590.15L270.05 589.94L270.71 589.91L271.36 589.73L272.01 589.68L272.67 589.74L273.32 589.55L273.98 589.43L274.63 589.28L275.28 589.24L275.94 588.85L276.59 588.57L277.24 588.05L277.9 588.02L278.55 586.92L279.2 586.69L279.86 585.04L280.51 583.73L281.17 581.92L281.82 578.91L282.47 576.26L283.13 572.66L283.78 567.42L284.43 561.94L285.09 556.5L285.74 550.68L286.39 544.46L287.05 538.87L287.7 533.82L288.36 531.34L289.01 529.68L289.66 529.82L290.32 532.78L290.97 537.69L291.62 543.37L292.28 550.8L292.93 559.31L293.58 567.08L294.24 574.44L294.89 580.1L295.55 584.97L296.2 588.31L296.85 591.01L297.51 593.01L298.16 594.1L298.81 594.97L299.47 595.46L300.12 595.75L300.77 595.93L301.43 596.03L302.08 596.08L302.74 596.12L303.39 596.14L304.04 596.16L304.7 596.17L305.35 596.17L306 596.18L306.66 596.19L307.31 596.19L307.96 596.19L308.62 596.19L309.27 596.2L309.93 596.2L310.58 596.2L311.23 596.2L311.89 596.2L312.54 596.2L313.19 596.2L313.85 596.2L314.5 596.2L315.15 596.2L315.81 596.2L316.46 596.2L317.12 596.2L317.77 596.2L318.42 596.2L319.08 596.2L319.73 596.2L320.38 596.2L321.04 596.2L321.69 596.2L322.34 596.2L323 596.2L323.65 596.2L324.31 596.2L324.96 596.2L325.61 596.2L326.27 596.2L326.92 596.2L327.57 596.2L328.23 596.2L328.88 596.2L329.53 596.2L330.19 596.2L330.84 596.2L331.5 596.2L332.15 596.2L332.8 596.2L333.46 596.2L334.11 596.2L334.76 596.2L335.42 596.2L336.07 596.2L336.72 596.2L337.38 596.2L338.03 596.2L338.69 596.2L339.34 596.2L339.99 596.2L340.65 596.2L341.3 596.2" fill="none" stroke="#000" stroke-width="1.6" stroke-linejoin="round"/>
<rect x="269.4" y="524.5" width="71.9" height="71.7" fill="none" stroke="#111" stroke-width="1.15"/>
<line x1="268" y1="538.84" x2="269.4" y2="538.84" stroke="#000" stroke-width="0.6"/>
<line x1="268" y1="553.18" x2="269.4" y2="553.18" stroke="#000" stroke-width="0.6"/>
<line x1="268" y1="567.52" x2="269.4" y2="567.52" stroke="#000" stroke-width="0.6"/>
<line x1="268" y1="581.86" x2="269.4" y2="581.86" stroke="#000" stroke-width="0.6"/>
<line x1="273.89" y1="596.2" x2="273.89" y2="596.9" stroke="#000" stroke-width="0.5"/>
<line x1="278.39" y1="596.2" x2="278.39" y2="596.9" stroke="#000" stroke-width="0.5"/>
<line x1="282.88" y1="596.2" x2="282.88" y2="596.9" stroke="#000" stroke-width="0.5"/>
<line x1="287.38" y1="596.2" x2="287.38" y2="597.6" stroke="#000" stroke-width="0.5"/>
<line x1="291.87" y1="596.2" x2="291.87" y2="596.9" stroke="#000" stroke-width="0.5"/>
<line x1="296.36" y1="596.2" x2="296.36" y2="596.9" stroke="#000" stroke-width="0.5"/>
<line x1="300.86" y1="596.2" x2="300.86" y2="596.9" stroke="#000" stroke-width="0.5"/>
<line x1="305.35" y1="596.2" x2="305.35" y2="597.6" stroke="#000" stroke-width="0.5"/>
<line x1="309.84" y1="596.2" x2="309.84" y2="596.9" stroke="#000" stroke-width="0.5"/>
<line x1="314.34" y1="596.2" x2="314.34" y2="596.9" stroke="#000" stroke-width="0.5"/>
<line x1="318.83" y1="596.2" x2="318.83" y2="596.9" stroke="#000" stroke-width="0.5"/>
<line x1="323.32" y1="596.2" x2="323.32" y2="597.6" stroke="#000" stroke-width="0.5"/>
<line x1="327.82" y1="596.2" x2="327.82" y2="596.9" stroke="#000" stroke-width="0.5"/>
<line x1="332.31" y1="596.2" x2="332.31" y2="596.9" stroke="#000" stroke-width="0.5"/>
<line x1="336.81" y1="596.2" x2="336.81" y2="596.9" stroke="#000" stroke-width="0.5"/>
<text x="302.4" y="611" font-size="12.8" text-anchor="middle" stroke="#000" stroke-width="0.2">CXCR5</text>
</g>
<g>
<path d="M350.8 596.2L350.8 582.61L351.16 582.45L351.52 580.39L351.88 580.19L352.24 578.12L352.6 577.53L352.96 576.63L353.32 575.16L353.68 574.6L354.04 571.67L354.4 572.31L354.75 572.53L355.11 571.04L355.47 569.46L355.83 568.26L356.19 563.53L356.55 562.08L356.91 558.85L357.27 558.58L357.63 556.86L357.99 557.48L358.35 557.61L358.71 553.81L359.07 552.19L359.43 551.49L359.79 547.38L360.15 545.17L360.51 544.4L360.87 541.69L361.23 539.42L361.59 540.29L361.94 538.42L362.3 539.02L362.66 536.69L363.02 533.77L363.38 533.52L363.74 532.31L364.1 530.82L364.46 533.14L364.82 534.03L365.18 537.49L365.54 539.17L365.9 539.25L366.26 542.35L366.62 546.32L366.98 555.7L367.34 561.15L367.7 565.04L368.06 566.45L368.42 573.09L368.78 580.38L369.13 586.93L369.49 589.35L369.85 590.49L370.21 593.85L370.57 595.48L370.93 595.56L371.29 595.74L371.65 595.95L372.01 596.13L372.37 596.2L372.37 596.2Z" fill="#c2c2c2" stroke="#1a1a1a" stroke-width="1.05" stroke-linejoin="round"/>
<path d="M350.8 580.71L351.31 582.05L351.82 578.83L352.33 577.91L352.84 575.05L353.35 574.89L353.86 572.15L354.37 569.69L354.88 571L355.39 571.16L355.9 564.14L356.41 560.91L356.92 559.77L357.43 557.9L357.94 551.83L358.45 552.5L358.96 553.43L359.47 549.13L359.98 546.03L360.49 539.33L361 540.42L361.51 536.26L362.02 535.05L362.53 535.62L363.04 530.02L363.55 530.12L364.06 528.41L364.57 528.49L365.08 531.88L365.59 533.42L366.1 529.42L366.6 534.02L367.11 537.46L367.62 545.58L368.13 550.02L368.64 551.3L369.15 558.39L369.66 567.25L370.17 575.42L370.68 573.96L371.19 576.9L371.7 579.27L372.21 580.41L372.72 583.64L373.23 581.96L373.74 584.24L374.25 582.77L374.76 582.9L375.27 584.65L375.78 584.17L376.29 583.2L376.8 584.09L377.31 584.47L377.82 585.38L378.33 586.07L378.84 585.63L379.35 585.77L379.86 586.46L380.37 586.41L380.88 586.9L381.39 585.73L381.9 585.9L382.41 586.98L382.92 587.24L383.43 587.03L383.94 587.53L384.45 587.04L384.96 588.43L385.47 588.83L385.98 588.17L386.49 589.5L387 588.93L387.51 589.33L388.02 588.79L388.53 589.44L389.04 589.48L389.55 590.61L390.06 590.37L390.57 590.84L391.08 591.33L391.59 591.32L392.1 591.48L392.61 592.24L393.12 592.11L393.63 592.18L394.14 592.54L394.65 592.93L395.16 593.1L395.67 593.51L396.18 593.6L396.69 594.09L397.2 594.52L397.7 594.66L398.21 594.75L398.72 594.77L399.23 594.84L399.74 594.96L400.25 595.11L400.76 595.29L401.27 595.46L401.78 595.61L402.29 595.72L402.8 595.77L403.31 595.77L403.82 595.77L404.33 595.77L404.84 595.77L405.35 595.78L405.86 595.78L406.37 595.78L406.88 595.78" fill="none" stroke="#000" stroke-width="1.4" stroke-dasharray="1.6 1.2" stroke-linejoin="round"/>
<path d="M350.8 581.95L351.31 581.56L351.83 579.79L352.34 577.97L352.85 576.73L353.37 571.7L353.88 571.78L354.4 572.12L354.91 568.4L355.42 569.02L355.94 564.77L356.45 558.27L356.96 558.46L357.48 554.42L357.99 551.49L358.5 550.44L359.02 550.71L359.53 545.98L360.04 540.57L360.56 539.92L361.07 536.36L361.59 538.46L362.1 532.06L362.61 531.58L363.13 531.16L363.64 529.82L364.15 531.85L364.67 529.59L365.18 532.44L365.69 529.62L366.21 532.34L366.72 538.85L367.23 546.5L367.75 550.09L368.26 553.77L368.78 555.83L369.29 567.55L369.8 572.44L370.32 574.55L370.83 577.22L371.34 577.93L371.86 581.81L372.37 582.13L372.88 582.48L373.4 583.46L373.91 583.58L374.42 584.75L374.94 584.84L375.45 583.39L375.97 584.81L376.48 584.02L376.99 585.52L377.51 584.62L378.02 585.35L378.53 585.29L379.05 586.02L379.56 586.75L380.07 586.41L380.59 586.71L381.1 586.95L381.61 585.8L382.13 586.9L382.64 586.92L383.16 586.29L383.67 586.94L384.18 587.15L384.7 587.59L385.21 589.12L385.72 589.14L386.24 589.68L386.75 588.76L387.26 588.85L387.78 589.49L388.29 589.66L388.8 589.65L389.32 589.98L389.83 590.91L390.35 590.61L390.86 591.48L391.37 591.49L391.89 592.1L392.4 592.24L392.91 591.57L393.43 591.89L393.94 592.17L394.45 593.01L394.97 593.33L395.48 593.61L395.99 593.94L396.51 594.22L397.02 594.47L397.54 594.79L398.05 594.81L398.56 594.78L399.08 594.86L399.59 594.99L400.1 595.16L400.62 595.34L401.13 595.51L401.64 595.65L402.16 595.74L402.67 595.77L403.18 595.77L403.7 595.77L404.21 595.77L404.73 595.77L405.24 595.78L405.75 595.78L406.27 595.78L406.78 595.79L407.29 595.79L407.81 595.79L408.32 595.8L408.83 595.8L409.35 595.81L409.86 595.81L410.37 595.82L410.89 595.82L411.4 595.83L411.92 595.83L412.43 595.84L412.94 595.84L413.46 595.85L413.97 595.86L414.48 595.86L415 595.87L415.51 595.87L416.02 595.88L416.54 595.88L417.05 595.89L417.56 595.89L418.08 595.89L418.59 595.9L419.11 595.9L419.62 595.9L420.13 595.91L420.65 595.91L421.16 595.91L421.67 595.91L422.19 595.91L422.7 595.91" fill="none" stroke="#000" stroke-width="1.6" stroke-linejoin="round"/>
<rect x="350.8" y="524.5" width="71.9" height="71.7" fill="none" stroke="#111" stroke-width="1.15"/>
<line x1="349.4" y1="538.84" x2="350.8" y2="538.84" stroke="#000" stroke-width="0.6"/>
<line x1="349.4" y1="553.18" x2="350.8" y2="553.18" stroke="#000" stroke-width="0.6"/>
<line x1="349.4" y1="567.52" x2="350.8" y2="567.52" stroke="#000" stroke-width="0.6"/>
<line x1="349.4" y1="581.86" x2="350.8" y2="581.86" stroke="#000" stroke-width="0.6"/>
<line x1="355.29" y1="596.2" x2="355.29" y2="596.9" stroke="#000" stroke-width="0.5"/>
<line x1="359.79" y1="596.2" x2="359.79" y2="596.9" stroke="#000" stroke-width="0.5"/>
<line x1="364.28" y1="596.2" x2="364.28" y2="596.9" stroke="#000" stroke-width="0.5"/>
<line x1="368.78" y1="596.2" x2="368.78" y2="597.6" stroke="#000" stroke-width="0.5"/>
<line x1="373.27" y1="596.2" x2="373.27" y2="596.9" stroke="#000" stroke-width="0.5"/>
<line x1="377.76" y1="596.2" x2="377.76" y2="596.9" stroke="#000" stroke-width="0.5"/>
<line x1="382.26" y1="596.2" x2="382.26" y2="596.9" stroke="#000" stroke-width="0.5"/>
<line x1="386.75" y1="596.2" x2="386.75" y2="597.6" stroke="#000" stroke-width="0.5"/>
<line x1="391.24" y1="596.2" x2="391.24" y2="596.9" stroke="#000" stroke-width="0.5"/>
<line x1="395.74" y1="596.2" x2="395.74" y2="596.9" stroke="#000" stroke-width="0.5"/>
<line x1="400.23" y1="596.2" x2="400.23" y2="596.9" stroke="#000" stroke-width="0.5"/>
<line x1="404.73" y1="596.2" x2="404.73" y2="597.6" stroke="#000" stroke-width="0.5"/>
<line x1="409.22" y1="596.2" x2="409.22" y2="596.9" stroke="#000" stroke-width="0.5"/>
<line x1="413.71" y1="596.2" x2="413.71" y2="596.9" stroke="#000" stroke-width="0.5"/>
<line x1="418.21" y1="596.2" x2="418.21" y2="596.9" stroke="#000" stroke-width="0.5"/>
<text x="386.5" y="611" font-size="12.8" text-anchor="middle" stroke="#000" stroke-width="0.2">CXCR6</text>
</g>
<g>
<path d="M432.8 596.2L432.8 595.33L433.45 595.33L434.11 595.32L434.76 595.3L435.41 595.28L436.07 595.23L436.72 595.15L437.38 595.02L438.03 594.83L438.68 594.54L439.34 594.12L439.99 593.49L440.64 592.61L441.3 591.14L441.95 589.49L442.6 587.54L443.26 584.44L443.91 580.76L444.57 576.92L445.22 572.64L445.87 566.82L446.53 561.05L447.18 555.25L447.83 548.77L448.49 543.6L449.14 537.39L449.79 533.47L450.45 530.44L451.1 528.43L451.76 528.76L452.41 532.24L453.06 538.17L453.72 546.28L454.37 555.44L455.02 560.04L455.68 568.21L456.33 575.75L456.98 581.39L457.64 585.31L458.29 588.21L458.95 590.19L459.6 591.65L460.25 592.31L460.91 592.81L461.56 593.16L462.21 593.44L462.87 593.63L463.52 593.7L464.17 593.88L464.83 593.98L465.48 594.06L466.14 594.18L466.79 594.22L467.44 594.35L468.1 594.44L468.75 594.46L469.4 594.52L470.06 594.57L470.71 594.63L471.36 594.67L472.02 594.71L472.67 594.79L473.33 594.83L473.98 594.87L474.63 594.9L475.29 594.93L475.94 594.96L476.59 594.99L477.25 595.01L477.9 595.04L478.55 595.06L479.21 595.08L479.86 595.1L480.52 595.12L481.17 595.13L481.82 595.15L482.48 595.16L483.13 595.18L483.78 595.19L484.44 595.2L485.09 595.21L485.74 595.22L486.4 595.23L487.05 595.24L487.71 595.24L488.36 595.25L489.01 595.26L489.67 595.26L490.32 595.27L490.97 595.27L491.63 595.28L492.28 595.28L492.93 595.29L493.59 595.29L494.24 595.29L494.9 595.3L495.55 595.3L496.2 595.3L496.86 595.31L497.51 595.31L498.16 595.31L498.82 595.31L499.47 595.31L500.12 595.31L500.78 595.31L501.43 595.3L502.09 595.27L502.74 595.16L503.39 594.81L504.05 593.71L504.7 590.31L504.7 596.2Z" fill="#c2c2c2" stroke="#1a1a1a" stroke-width="1.05" stroke-linejoin="round"/>
<path d="M432.8 592.12L433.45 591.98L434.11 591.86L434.76 591.73L435.41 591.43L436.07 590.78L436.72 590.38L437.38 589.9L438.03 588.64L438.68 587.86L439.34 586.59L439.99 584.55L440.64 582.75L441.3 580.07L441.95 577.15L442.6 574.44L443.26 570.3L443.91 567.17L444.57 562.28L445.22 557.76L445.87 554.15L446.53 549.11L447.18 545.35L447.83 540.66L448.49 536.28L449.14 533.71L449.79 530.96L450.45 529.17L451.1 529.36L451.76 527.92L452.41 530.61L453.06 536.1L453.72 541.02L454.37 549.07L455.02 553.65L455.68 559.95L456.33 567.69L456.98 573.68L457.64 579.85L458.29 583.35L458.95 587.06L459.6 589.2L460.25 590.74L460.91 591.96L461.56 592.52L462.21 593.11L462.87 593.43L463.52 593.59L464.17 593.82L464.83 593.88L465.48 594.04L466.14 594.1L466.79 594.24L467.44 594.27L468.1 594.35L468.75 594.51L469.4 594.5L470.06 594.61L470.71 594.62L471.36 594.68L472.02 594.71L472.67 594.79L473.33 594.83L473.98 594.87L474.63 594.9L475.29 594.93L475.94 594.96L476.59 594.99L477.25 595.01L477.9 595.04L478.55 595.06L479.21 595.08L479.86 595.1L480.52 595.12L481.17 595.13L481.82 595.15L482.48 595.16L483.13 595.18L483.78 595.19L484.44 595.2L485.09 595.21L485.74 595.22L486.4 595.23L487.05 595.24L487.71 595.24L488.36 595.25L489.01 595.26L489.67 595.26L490.32 595.27L490.97 595.27L491.63 595.28L492.28 595.28L492.93 595.29L493.59 595.29L494.24 595.29L494.9 595.3L495.55 595.3L496.2 595.3L496.86 595.31L497.51 595.31L498.16 595.31L498.82 595.31L499.47 595.31L500.12 595.31L500.78 595.31L501.43 595.3L502.09 595.27L502.74 595.16L503.39 594.81L504.05 593.78L504.7 590.36" fill="none" stroke="#000" stroke-width="1.4" stroke-dasharray="1.6 1.2" stroke-linejoin="round"/>
<path d="M432.8 591.84L433.45 591.54L434.11 591.11L434.76 590.9L435.41 590.13L436.07 589.72L436.72 588.76L437.38 587.42L438.03 586.74L438.68 585.29L439.34 583.15L439.99 581.29L440.64 578.19L441.3 576.39L441.95 571.92L442.6 568.42L443.26 564.79L443.91 561.43L444.57 557.54L445.22 552.67L445.87 548.74L446.53 544.83L447.18 541.14L447.83 537.49L448.49 534.08L449.14 531.34L449.79 529.37L450.45 529.51L451.1 528.9L451.76 529.88L452.41 533.46L453.06 539.72L453.72 547.32L454.37 555.58L455.02 559.66L455.68 566.92L456.33 572.61L456.98 578.42L457.64 583L458.29 586.31L458.95 588.77L459.6 590.6L460.25 591.65L460.91 592.6L461.56 592.93L462.21 593.27L462.87 593.57L463.52 593.69L464.17 593.77L464.83 593.96L465.48 594.04L466.14 594.19L466.79 594.27L467.44 594.28L468.1 594.46L468.75 594.51L469.4 594.51L470.06 594.6L470.71 594.69L471.36 594.68L472.02 594.76L472.67 594.79L473.33 594.83L473.98 594.87L474.63 594.9L475.29 594.93L475.94 594.96L476.59 594.99L477.25 595.01L477.9 595.04L478.55 595.06L479.21 595.08L479.86 595.1L480.52 595.12L481.17 595.13L481.82 595.15L482.48 595.16L483.13 595.18L483.78 595.19L484.44 595.2L485.09 595.21L485.74 595.22L486.4 595.23L487.05 595.24L487.71 595.24L488.36 595.25L489.01 595.26L489.67 595.26L490.32 595.27L490.97 595.27L491.63 595.28L492.28 595.28L492.93 595.29L493.59 595.29L494.24 595.29L494.9 595.3L495.55 595.3L496.2 595.3L496.86 595.31L497.51 595.31L498.16 595.31L498.82 595.31L499.47 595.31L500.12 595.31L500.78 595.31L501.43 595.3L502.09 595.27L502.74 595.16L503.39 594.81L504.05 593.7L504.7 590.34" fill="none" stroke="#000" stroke-width="1.6" stroke-linejoin="round"/>
<rect x="432.8" y="524.5" width="71.9" height="71.7" fill="none" stroke="#111" stroke-width="1.15"/>
<line x1="431.4" y1="538.84" x2="432.8" y2="538.84" stroke="#000" stroke-width="0.6"/>
<line x1="431.4" y1="553.18" x2="432.8" y2="553.18" stroke="#000" stroke-width="0.6"/>
<line x1="431.4" y1="567.52" x2="432.8" y2="567.52" stroke="#000" stroke-width="0.6"/>
<line x1="431.4" y1="581.86" x2="432.8" y2="581.86" stroke="#000" stroke-width="0.6"/>
<line x1="437.29" y1="596.2" x2="437.29" y2="596.9" stroke="#000" stroke-width="0.5"/>
<line x1="441.79" y1="596.2" x2="441.79" y2="596.9" stroke="#000" stroke-width="0.5"/>
<line x1="446.28" y1="596.2" x2="446.28" y2="596.9" stroke="#000" stroke-width="0.5"/>
<line x1="450.78" y1="596.2" x2="450.78" y2="597.6" stroke="#000" stroke-width="0.5"/>
<line x1="455.27" y1="596.2" x2="455.27" y2="596.9" stroke="#000" stroke-width="0.5"/>
<line x1="459.76" y1="596.2" x2="459.76" y2="596.9" stroke="#000" stroke-width="0.5"/>
<line x1="464.26" y1="596.2" x2="464.26" y2="596.9" stroke="#000" stroke-width="0.5"/>
<line x1="468.75" y1="596.2" x2="468.75" y2="597.6" stroke="#000" stroke-width="0.5"/>
<line x1="473.24" y1="596.2" x2="473.24" y2="596.9" stroke="#000" stroke-width="0.5"/>
<line x1="477.74" y1="596.2" x2="477.74" y2="596.9" stroke="#000" stroke-width="0.5"/>
<line x1="482.23" y1="596.2" x2="482.23" y2="596.9" stroke="#000" stroke-width="0.5"/>
<line x1="486.73" y1="596.2" x2="486.73" y2="597.6" stroke="#000" stroke-width="0.5"/>
<line x1="491.22" y1="596.2" x2="491.22" y2="596.9" stroke="#000" stroke-width="0.5"/>
<line x1="495.71" y1="596.2" x2="495.71" y2="596.9" stroke="#000" stroke-width="0.5"/>
<line x1="500.21" y1="596.2" x2="500.21" y2="596.9" stroke="#000" stroke-width="0.5"/>
<text x="469" y="611" font-size="12.8" text-anchor="middle" stroke="#000" stroke-width="0.2">CX3CR1</text>
</g>
</g>
<g id="panelF">
<text transform="translate(-1 644.9) scale(1.15 1)" font-size="14.2" font-weight="bold" stroke="#000" stroke-width="0.85" stroke-linejoin="round">F</text>
<text x="58" y="643.5" font-size="13.1" stroke="#000" stroke-width="0.25">Gated on CD45<tspan font-size="8.5" dy="-4.5">+</tspan><tspan dy="4.5" dx="-1.4"> cells</tspan></text>
<text x="78.8" y="666.6" font-size="13.1" text-anchor="middle" stroke="#000" stroke-width="0.25">IL-2</text>
<text x="174" y="666.6" font-size="13.1" text-anchor="middle" stroke="#000" stroke-width="0.25">IL-7+15</text>
<text x="20.7" y="756.6" font-size="13.1" text-anchor="middle" transform="rotate(-90 20.7 756.6)" stroke="#000" stroke-width="0.25">CD3</text>
<line x1="16.5" y1="738.6" x2="16.5" y2="707.5" stroke="#000" stroke-width="1.5"/>
<path d="M16.5 702.6 L12.8 710.4 L16.5 708.7 L20.2 710.4 Z" fill="#000"/>
<text x="30.6" y="788.7" font-size="13.1" stroke="#000" stroke-width="0.25">CD45</text>
<line x1="69.8" y1="784.2" x2="102" y2="784.2" stroke="#000" stroke-width="1.5"/>
<path d="M107.2 784.2 L99.3 780.6 L101 784.2 L99.3 787.8 Z" fill="#000"/>
<g>
<path d="M89.1 742.36h.7M97.98 733.37h.7M88.68 741.08h.7M95.91 740.4h.7M89.14 736.46h.7M96.82 737.61h.7M100.14 737.21h.7M93.59 737.1h.7M104.28 730h.7M90.86 735.87h.7M94.38 738.06h.7M92.62 738.49h.7M95.09 739.52h.7M98.39 735.64h.7M86.84 745h.7M88.32 740.94h.7M88.1 741.7h.7M90.89 740.61h.7M97.37 730.92h.7M92.85 740.89h.7M93.63 739.35h.7M94.41 733.99h.7M96.25 733.45h.7M101.49 731.08h.7M96.74 736h.7M97.81 733.17h.7M98 734.73h.7M99.05 736.66h.7M94.57 734.68h.7M97.07 737.42h.7M100.57 732.14h.7M96.22 738.12h.7M95.13 737.79h.7M94.73 735.21h.7M89.94 739.08h.7M96.36 741.56h.7M97.91 738.93h.7M97.11 738.21h.7M94.73 740.03h.7M101.09 731.96h.7M91.22 746.53h.7M94.98 740.57h.7M97.5 731.5h.7M103.73 737.63h.7M94.71 739.98h.7M94.51 734.35h.7M93.55 739.41h.7M98.46 737.35h.7M94.24 742.41h.7M90.96 742.6h.7M98.45 733.84h.7M86.84 739.34h.7M94.95 739.03h.7M100.19 730.18h.7M94.01 740.08h.7M93.37 729.87h.7M97.23 743.81h.7M98.02 731.92h.7M92.35 739.67h.7M103.96 733.4h.7M94.45 742.98h.7M93.67 744.57h.7M91.26 737.94h.7M96.88 740.91h.7M96.62 737.14h.7M86.71 740.1h.7M91.56 737.53h.7M96.35 735.07h.7M97.15 736.01h.7M92.67 739.09h.7M95.72 739.69h.7M92.09 738.24h.7M88.55 747.05h.7M99.81 733.34h.7M92.09 734.71h.7M94.68 738.08h.7M102.73 732.91h.7M90.89 731.25h.7M99.64 734.75h.7M87.56 742.68h.7M87.57 754.3h.7M98.48 736.86h.7M93.3 730.73h.7M93.49 732.66h.7M96.38 728.7h.7M90.37 744.49h.7M100.58 729.3h.7M87.86 744.95h.7M97.41 732.08h.7M91.22 737.19h.7M89.24 738.55h.7M99 736.93h.7M102.23 732.07h.7M93.46 734.7h.7M93.5 733.5h.7M86.89 744.95h.7M99.76 736.94h.7M99.33 735.17h.7M91.13 740h.7M92.5 734.88h.7M87.23 737.05h.7M93.98 738.35h.7M92.1 744.08h.7M94.72 739.38h.7M98.87 731.7h.7M86.12 745.65h.7M91.25 744.23h.7M95.35 740.45h.7M97.05 728.46h.7M96.88 733.53h.7M90.98 738.26h.7M97.07 738.89h.7M98.05 729.29h.7M91.64 731h.7M93.59 740.18h.7M90.94 740.68h.7M94.93 740.74h.7M90.71 737.05h.7M90.95 745.98h.7M98.36 734.49h.7M94.9 737.61h.7M94.81 736.53h.7M92.66 734.26h.7M91.43 745.3h.7M96.15 736.61h.7M93.14 738.59h.7M95.41 734.59h.7M94.79 738.13h.7M91.01 737h.7M90 736.69h.7M97.56 727.14h.7M92.93 736.35h.7M91.52 739.78h.7M98.51 735.09h.7M93.44 736.01h.7M93.48 741.35h.7M92.42 734.8h.7M88.94 737.24h.7M88.44 745.34h.7M95.42 736.03h.7M99.84 731.63h.7M97.01 738.63h.7M87.81 736.4h.7M90.29 743.44h.7M99.18 730.06h.7M98.19 733.68h.7M92.43 736.9h.7M92.7 732.25h.7M90 736.09h.7M95.96 743.86h.7M104.93 729.4h.7M87.11 740.91h.7M90.24 747.26h.7M96.28 733.73h.7M97.74 737.22h.7M87.5 740.22h.7M93.04 738.5h.7M94.53 736.26h.7M94.76 735.24h.7M90.41 745.5h.7M95.44 738.39h.7M87.62 741.43h.7M97.28 731.09h.7M98.39 733.53h.7M95.61 736.27h.7M94.87 741.46h.7M92.39 744.37h.7M90.87 736.58h.7M96.84 732.17h.7M92.52 741.97h.7M98.84 728.36h.7M96.02 743.1h.7M98.78 733.8h.7M91.6 738.34h.7M89.39 739.91h.7M93.25 737.78h.7M98.73 733.87h.7M88.17 745.35h.7M89.71 739.06h.7M93.46 736.94h.7M89.99 739.57h.7M102.74 729.9h.7M93.45 742.12h.7M96.98 738.52h.7M97.45 728.6h.7M90.54 740.53h.7M96 741.04h.7M95.88 735.72h.7M94.16 736.95h.7M94.99 739.52h.7M92.64 735.83h.7M90.58 743.92h.7M99.12 737.91h.7M97.43 738.47h.7M93.99 740.14h.7M89.79 739.86h.7M91.07 742.3h.7M91.68 738.95h.7M95.6 741.51h.7M90.83 736.59h.7M97.27 731.75h.7M95.81 734.6h.7M93.58 731.67h.7M96.85 734.16h.7M90.41 747.48h.7M96.85 748.27h.7M95.63 735.5h.7M94.43 743.17h.7M93.89 739.46h.7M96.07 733.23h.7M94.52 735.69h.7M89.02 744.16h.7M96.66 736.31h.7M90.37 733.14h.7M95.94 736.17h.7M87.26 742.03h.7M87.92 741.72h.7M94.57 738.67h.7M94.87 737.83h.7M89.44 739.46h.7M91.95 738.32h.7M95.08 739.27h.7M100.54 724.44h.7M95.6 736.04h.7M103.1 735.08h.7M87.39 743.58h.7M91.92 742.67h.7M89.78 740.23h.7M93.47 737.81h.7M91.66 732.87h.7M95.84 740.1h.7M93.73 734.4h.7M94.81 739.25h.7M93.3 738.22h.7M99.63 730.14h.7M91.77 732.57h.7M91.2 737.04h.7M90.16 737.89h.7M101.19 732.36h.7M93.54 745.84h.7M93.76 731.86h.7M95.61 733.44h.7M100.56 729.09h.7M91.68 733.68h.7M94.39 733.97h.7M93.74 736.65h.7M91.55 742.74h.7M97.74 735.55h.7M90.4 736.41h.7M95.08 745.5h.7M92.17 736.24h.7M91.21 735.79h.7M90.11 739.64h.7M99.74 734.01h.7M91.96 733.46h.7M94.85 737.14h.7M89.09 737.21h.7M93.83 741.48h.7M96.51 736.87h.7M92.71 739.78h.7M93.95 745.48h.7M89.47 739.49h.7M99.07 733.52h.7M99.7 733.88h.7M94.58 736.11h.7M88.48 738.03h.7M102.86 734.22h.7M96.42 739.56h.7M96.28 739.89h.7M92.94 737.72h.7M97.94 733.96h.7M88.68 740.52h.7M91.82 741.4h.7M91.12 735.97h.7M92.67 744.14h.7M93.81 738.49h.7M94.04 738.82h.7M97.71 740.26h.7M87.42 746.93h.7M93.99 736.68h.7M103.59 730.87h.7M101.78 736.07h.7M89.88 742.24h.7M96.95 735.41h.7M84.69 742.73h.7M93.23 734.41h.7M101.3 732.12h.7M92.43 737.78h.7M90.87 737.14h.7M94.38 738.65h.7M91.97 738.82h.7M88.44 743.31h.7M91 740.54h.7M90.37 738.38h.7M94.86 732.97h.7M103.88 731.15h.7M93.71 735.41h.7M100.38 738.47h.7M95.2 732.19h.7M91.98 741.3h.7M91.95 734.98h.7M89.25 738.22h.7M94.05 735.48h.7M94.07 747.58h.7M101.09 729.47h.7M95.37 737.2h.7M93.45 741.84h.7M92.67 737.53h.7M92.5 738.44h.7M99.14 737.14h.7M88.63 739.79h.7M90.81 742.78h.7M94.9 740.34h.7M93.75 731.25h.7M95.8 737.41h.7M96.03 731.87h.7M94.33 735.16h.7M91.25 740.86h.7M95.41 733.73h.7M87.15 733.61h.7M91.7 743.27h.7M93.78 730.02h.7M90.55 741.56h.7M100.69 737.5h.7M95.47 737.53h.7M89.76 739h.7M92.67 735.95h.7M94.25 736.25h.7M95.35 741.96h.7M96.97 737.31h.7M93.04 733.09h.7M93.54 740.01h.7M89.97 744.88h.7M92.67 739.99h.7M92.69 734.25h.7M102.27 728.25h.7M97.67 733.42h.7M95.12 734.23h.7M92.33 742.14h.7M101.78 729.68h.7M94.04 741.11h.7M91.48 741.97h.7M90.86 742h.7M95.75 740.91h.7M95.45 732.64h.7M96.66 732.17h.7M97 741.14h.7M96.38 734.28h.7M98.77 735.24h.7M89.02 739.84h.7M99.68 732.98h.7M94.49 736.27h.7M87.26 740.45h.7M95.43 737.59h.7M93.3 730.75h.7M98.89 737.11h.7M98.09 739.68h.7M92.22 736.85h.7M95.26 742.86h.7M87.26 741.44h.7M91.14 741.66h.7M99.86 732.89h.7M89.04 741.25h.7M92.86 733.12h.7M97.54 733.62h.7M96.73 731.37h.7M98.39 729.83h.7M98.21 728.64h.7M99.52 732.84h.7M87.78 741.08h.7M95.35 733.42h.7M92.03 740.05h.7M93.32 727.46h.7M92.28 740.44h.7M95.19 740.57h.7M91.24 748.61h.7M97.2 736.79h.7M98.34 738.29h.7M94.41 735.35h.7M98.1 736.59h.7M86.43 738.91h.7M95.87 736.95h.7M95.12 739.32h.7M94.58 742.99h.7M91.64 737.95h.7M95.29 739.57h.7M97.15 740.96h.7M92.09 743.17h.7M95.87 732.89h.7M93.45 745.5h.7M97.14 734.07h.7M84.41 741.54h.7M91.19 739.93h.7M103.24 734.33h.7M95.25 733.68h.7M89.25 740.2h.7M92.13 749.62h.7M92.38 736.7h.7M98.51 735.09h.7M89.06 745.6h.7M92.75 733.95h.7M95.29 738.67h.7M92.65 741.15h.7M97.28 732.53h.7M85.77 734.81h.7M93.49 742.47h.7M98.01 740.05h.7M101.42 732.96h.7M98.22 729.63h.7M96.76 737.36h.7M93.62 736.49h.7M89.54 741.24h.7M99.11 733.14h.7M96.12 734.06h.7M95.02 733.58h.7M95.51 736.03h.7M95.26 734.83h.7M89.29 739.75h.7M98.15 740.62h.7M92.7 741.47h.7M97.03 737.18h.7M87.79 743.04h.7M90.12 744.5h.7M97.15 737.89h.7M83.86 746.68h.7M96.8 731.46h.7M97.88 735.5h.7M93.27 735.77h.7M89.93 738.96h.7M106.34 730.37h.7M94.83 734.97h.7M91.53 737.49h.7M90.45 743.22h.7M92.92 741.56h.7M89.38 744.12h.7M93.89 740.22h.7M93.58 734.95h.7M98.84 733.07h.7M93.41 735.07h.7M94.82 735.89h.7M95.13 738.27h.7M91.24 734.65h.7M95.73 739.89h.7M96.78 731.93h.7M96.42 737.56h.7M95.14 738.56h.7M92.7 739.41h.7M97.71 733.58h.7M88.24 741.23h.7M94.78 730.79h.7M91.29 741.66h.7M93.4 738.52h.7M88.96 744.31h.7M101.02 732.46h.7M91.07 735.66h.7M97.56 735.82h.7M90.82 744.17h.7M97.06 737.9h.7M86.96 742.08h.7M96.5 731.84h.7M97.72 740.38h.7M98.13 732.53h.7M91.17 742.98h.7M97.98 739.5h.7M98.8 734.28h.7M92.36 732.35h.7M97.14 743.74h.7M92.15 737.35h.7M96.6 737.4h.7M88.52 738.9h.7M89.61 747.81h.7M91.13 742.7h.7M101.67 739.41h.7M99.7 739.77h.7M89.06 739.84h.7M91.09 738.7h.7M104.48 724.97h.7M96.23 731.97h.7M99.36 738.84h.7M91.95 746.44h.7M94.3 742.19h.7M95.25 735.01h.7M92.48 738.39h.7M96.47 736.61h.7M103.44 730.89h.7M92.13 736.5h.7M90.89 734.78h.7M90.06 743.59h.7M94.24 737.04h.7M95.4 740.63h.7M96.46 738.9h.7M91.76 738.36h.7M90.89 739.51h.7M90.73 738.65h.7M93.3 737.5h.7M92.93 736.77h.7M99.24 733.14h.7M89.95 741.15h.7M89.64 736.9h.7M94.34 731.71h.7M81.12 747.31h.7M98.14 729.19h.7M90.41 742.2h.7M86.05 739.97h.7M89.18 740.28h.7M86.11 746.16h.7M93.42 739.25h.7M92.69 731.2h.7M93.39 733.48h.7M94.04 734.77h.7M92.73 737.89h.7M97.09 738.46h.7M89.98 740.4h.7M99.84 735.69h.7M91.08 739.3h.7M92.61 742.03h.7M94.13 739.03h.7M102.85 727.11h.7M89.94 734.38h.7M87.63 745.02h.7M95.17 742.77h.7M86.1 739.91h.7M99.78 737.61h.7M97.54 738.53h.7M94.13 737.68h.7M94.13 740.68h.7M93.35 739.36h.7M99.81 730h.7M91 741.77h.7M92.95 737.94h.7M102.39 733.72h.7M92.33 742.77h.7M104.07 727.25h.7M91.32 739.98h.7M91.46 747.12h.7M96.1 735.01h.7M95.96 733.7h.7M91.58 739.77h.7M95.68 741.45h.7M96.96 742.61h.7M95.8 737.13h.7M93.47 735.13h.7M100.54 729.32h.7M93.51 736.28h.7M90.86 732.05h.7M92.47 739.29h.7M94.57 740.39h.7M93.35 735.97h.7M95.23 739.33h.7M90.38 734.84h.7M89.9 744.23h.7M97.99 732.04h.7M94.45 740.46h.7M99.31 731.97h.7M93.04 743.39h.7M103.64 736.82h.7M89.44 742.39h.7M92.8 738.38h.7M91.35 737.86h.7M93.96 744.17h.7M96.8 737.46h.7M94.11 735.09h.7M93.08 742.77h.7M97.32 742.52h.7M95.04 737.04h.7M87.53 743.47h.7M87.11 747.72h.7M91.48 739.46h.7M88.6 739.62h.7M90.27 744.24h.7M94.99 732.99h.7M86.28 742.66h.7M92.05 735.18h.7M96.36 735.59h.7M94.45 735.43h.7M91.72 737.69h.7M87.59 744.25h.7M95.61 730.67h.7M94.41 741.59h.7M94.95 741.74h.7M92.93 738.51h.7M88.8 738.04h.7M86.71 739.46h.7M94.98 738.98h.7M98.65 735.19h.7M90.04 741.93h.7M93.42 744.46h.7M101.83 736.01h.7M89.45 738.95h.7M94.76 734.79h.7M96.09 738.83h.7M97.35 736.39h.7M90.47 737.17h.7M93.51 742.8h.7M100.3 737.09h.7M95.45 739.22h.7M97.29 740.18h.7M97.42 730.14h.7M97.81 736.64h.7M92.16 740.86h.7M95.15 736.85h.7M87.24 742.65h.7M96.23 736.16h.7M87.65 743.61h.7M96.88 736.54h.7M95.7 735.44h.7M91.37 741.38h.7M92.58 739.38h.7M94.54 731.73h.7M94.39 740.21h.7M91.18 738.82h.7M84.98 745.71h.7M91.62 741.78h.7M99.46 733.63h.7M97.94 736.08h.7M93.18 737.35h.7M90.59 744.57h.7M97.52 731.94h.7M97.37 733.01h.7M87.98 745.99h.7M88.88 745.35h.7M94.8 740.45h.7M96.05 740.51h.7M95.39 738.92h.7M94.99 741h.7M92.43 742.41h.7M100.03 733.6h.7M95.76 734.83h.7M92.85 739.48h.7M92.63 735.59h.7M93.88 738.55h.7M95.29 739.45h.7M86.9 747.46h.7M93.31 735.54h.7M92.52 740.34h.7M97.48 734.21h.7M94.63 731.77h.7M94.68 736.96h.7M92.28 742.06h.7M101.17 736.7h.7M90.87 745.24h.7M92.67 738.54h.7M91.68 740.94h.7M96.21 736.85h.7M93.16 737.85h.7M92.4 742.28h.7M91.92 738.65h.7M73.64 737.38h.7M73.52 733.83h.7M77.65 743.49h.7M73.05 748.87h.7M69.68 744.17h.7M78.1 738.1h.7M73.44 745.54h.7M75.4 742.37h.7M84.06 741.38h.7M64.18 738.19h.7M80.4 739.95h.7M68.02 731.74h.7M77.09 748.27h.7M66.9 730.89h.7M78.22 738.08h.7M73.1 739.55h.7M69.17 743.63h.7M80.94 742.35h.7M71.4 746.42h.7M74.29 743.93h.7M68.96 744.71h.7M79.81 747.01h.7M75.18 743.18h.7M71.29 745.65h.7M80.02 745.95h.7M72.52 735.17h.7M74.57 740.01h.7M70.2 744.36h.7M81.11 742.48h.7M82.16 742.41h.7M68.73 738.61h.7M72.73 744.56h.7M80.94 741.22h.7M81.53 736.46h.7M74.28 748.42h.7M77.86 745.93h.7M62.89 733.73h.7M69.46 746.38h.7M85.44 737.17h.7M68.69 736.51h.7M69.29 744.18h.7M73 750.39h.7M79.64 737.3h.7M76.53 740.14h.7M80.08 745.07h.7M72.79 745.56h.7M78.67 740.31h.7M76.66 744.22h.7M72.98 737.86h.7M83.14 740.41h.7M71.22 743.57h.7M65.59 742.01h.7M66.32 739.59h.7M63.62 738.38h.7M80.74 739.69h.7M67.26 750.11h.7M71 748.58h.7M71.67 734.12h.7M86.81 738.01h.7M79.88 746.47h.7M66.64 742.02h.7M71.36 744.26h.7M74.95 734.86h.7M75.4 744.72h.7M73.15 743.92h.7M71.64 741.04h.7M77.26 741.55h.7M83.13 745.03h.7M80.41 744.13h.7M76.03 735.28h.7M81.81 748.99h.7M76.47 739.68h.7M74.81 746.93h.7M76.87 736.1h.7M73.95 737.38h.7M73.76 736.77h.7M69.49 748.68h.7M81.72 732.68h.7M68.81 739.34h.7M72.57 734.49h.7M80.69 732.75h.7M79.46 744.08h.7M72.71 738.02h.7M75.43 741.72h.7M78.42 740.24h.7M72.41 736.41h.7M70.57 737.66h.7M92.8 733.57h.7M84.8 742.62h.7M76.41 741.88h.7M72.63 749.04h.7M78.29 740.65h.7M74.27 742.07h.7M67.8 740.04h.7M71.09 744.36h.7M78.87 731.67h.7M73.64 745.95h.7M66.83 735.92h.7M81.41 739.92h.7M72.19 735.35h.7M76.14 738.25h.7M76.4 743h.7M79.52 739.12h.7M71.72 741.44h.7M74.43 741.92h.7M71.69 740.14h.7M71.33 738.46h.7M76.05 746.57h.7M71.65 744.14h.7M77.25 741.4h.7M79.37 737.99h.7M78.64 742.21h.7M78.86 750.25h.7M68.31 742.02h.7M77.29 736.15h.7M82.69 742.64h.7M69.99 735.59h.7M72.4 752.79h.7M88.78 727.92h.7M63.46 745.18h.7M74.37 737.99h.7M78.9 741.21h.7M76.88 742.19h.7M68.12 747.98h.7M72.12 746.78h.7M79.46 740.88h.7M75.94 740.74h.7M63.32 740.35h.7M77.78 732.96h.7M65.55 747.03h.7M80.21 733.09h.7M77.99 740.57h.7M81.28 738.97h.7M73.63 737.48h.7M76.2 740.32h.7M70.87 739.66h.7M70.23 744.45h.7M68.46 733.93h.7M68.89 746.8h.7M71.8 744.44h.7M79.74 738.18h.7M79.87 743.13h.7M74.76 737.59h.7M74.65 734.78h.7M73.28 738.32h.7M77.84 742.49h.7M70.93 745.58h.7M82.67 740.76h.7M70.3 743.86h.7M78.76 750.55h.7M70.31 748.88h.7M89.95 749.12h.7M76.26 745.91h.7M73.89 738.09h.7M73.57 748.51h.7M80.43 739.17h.7M77.48 745.08h.7M78.67 740.53h.7M70.8 737.69h.7M72.22 738.51h.7M64.88 734.84h.7M80.67 735.07h.7M66.59 741.45h.7M84.34 746.51h.7M72.36 736.12h.7M71.57 736.79h.7M71.48 743.66h.7M68.16 737.69h.7M73.34 741.01h.7M70.07 737.5h.7M67.73 737.86h.7M78.39 739.55h.7M74.58 736.73h.7M73.37 726.17h.7M64.33 747.59h.7M88.81 750.73h.7M70.26 741.57h.7M80.05 734.54h.7M86.3 736.56h.7M77.3 735.13h.7M77.38 740.74h.7M82.02 734.74h.7M74.95 750.03h.7M67.27 743.35h.7M77.85 738.32h.7M73.27 748.16h.7M82.4 743.25h.7M76.75 735.24h.7M75.6 749.87h.7M81.84 733.73h.7M76.08 738.18h.7M73.01 742.86h.7M80.83 741.6h.7M83.14 733.3h.7M78.05 742.88h.7M65.33 747.98h.7M64.62 734.61h.7M92.37 746.11h.7M77.46 747.56h.7M82.49 734.81h.7M78.15 747.74h.7M73.96 741.45h.7M71.98 744.89h.7M71.4 738.35h.7M67.01 736.99h.7M76.44 743.25h.7M72.48 735.96h.7M77.22 742.62h.7M83.31 737.89h.7M72.31 743.77h.7M84.97 739.99h.7M74.47 736.36h.7M72.54 745.92h.7M80.57 746.16h.7M64.28 746.02h.7M68.96 744.44h.7M69.23 747.82h.7M75.8 747.46h.7M72.13 751.08h.7M72.1 750.74h.7M71.82 736.34h.7M80.89 738.55h.7M74.63 734.29h.7M72.76 741.75h.7M70.38 743.32h.7M72.33 748.59h.7M72.71 737.89h.7M72.06 742.62h.7M78.92 738.38h.7M69.78 743.58h.7M80.43 731.82h.7M68.12 738.16h.7M86.23 746.33h.7M80.25 743.09h.7M67.66 747.22h.7M72.1 737.23h.7M87.73 732.74h.7M84.11 741.32h.7M68.96 742.37h.7M69.47 742.38h.7M70.77 735.36h.7M92.49 737.14h.7M81.51 740.27h.7M79.47 734.31h.7M68.16 725.04h.7M81.62 742.74h.7M67.27 745.82h.7M78.92 755.46h.7M76.58 745.51h.7M79.06 744.59h.7M74.86 738.94h.7M79.69 746.88h.7M67.34 735.87h.7M74.75 750.1h.7M73.65 732.56h.7M80.34 744.41h.7M87.82 740.99h.7M87.99 736.39h.7M80.98 741.24h.7M67.17 740.23h.7M83.78 745.97h.7M72.54 746.8h.7M80.97 745.09h.7M76.92 742.41h.7M69.59 741.1h.7M75.84 737.25h.7M73.14 742h.7M76.44 746.23h.7M68.27 739.55h.7M76.81 738.98h.7M77.22 738.5h.7M82.79 739.27h.7M67.56 745.37h.7M85.98 730.48h.7M74.18 741.44h.7M81.83 748.03h.7M74 733.26h.7M79.43 745.76h.7M78.09 741.19h.7M69.7 753.7h.7M67.15 734.05h.7M81.46 741.98h.7M79.45 742.49h.7M86.12 747.35h.7M71.42 746.35h.7M67.31 733.04h.7M82.95 738.26h.7M70.68 743.92h.7M74.66 737.19h.7M70.36 745.25h.7M68.94 742.14h.7M68.55 743.8h.7M86.76 742.99h.7M82.37 742.74h.7M68.72 740h.7M75.51 743.2h.7M71.08 744.42h.7M70.32 741.72h.7M74.97 735.25h.7M81.63 740.78h.7M75.76 740.82h.7M69.17 746.47h.7M71.26 744.38h.7M68.29 737.31h.7M71.97 746.59h.7M64.17 740.99h.7M77.71 741.51h.7M74.94 744.95h.7M76.94 735.83h.7M79.21 736.79h.7M72.81 748.49h.7M91.07 747.09h.7M77.84 736.91h.7M70.06 749.77h.7M77.22 733.9h.7M85.34 743.15h.7M83.69 742.4h.7M74.11 740.26h.7M84.95 736.9h.7M74.4 740.79h.7M74.44 735.88h.7M67.02 728.71h.7M77.22 739.85h.7M76.37 735.64h.7M75.06 736.15h.7M68.41 743.23h.7M79.21 743.63h.7M74.76 739.11h.7M84.2 746.57h.7M70.88 735.89h.7M77.47 742.44h.7M69.06 752.93h.7M76.63 745.87h.7M62.89 739.78h.7M84.45 747.36h.7M73.38 741.34h.7M69.24 743.45h.7M68.17 731.37h.7M74.81 746.06h.7M65.95 742.65h.7M67.98 739.04h.7M76.61 742.81h.7M82.63 741.95h.7M85.96 737.53h.7M69.51 735.85h.7M65.36 744.92h.7M72.91 749.85h.7M83.99 736.65h.7M81.75 748.51h.7M63.99 741.5h.7M72.46 748.13h.7M83.58 736.96h.7M67.11 734.06h.7M79.99 748.71h.7M78.41 747.13h.7M71.14 736.02h.7M70.34 736.94h.7M70.38 741.64h.7M69.77 742.3h.7M84.88 749.58h.7M76.57 741.8h.7M80.22 736.27h.7M65.48 746.66h.7M68.25 746.08h.7M84.64 738.59h.7M69.32 749.75h.7M80.49 734.69h.7M78.54 739.52h.7M85.09 733.74h.7M83.81 732.52h.7M76.28 739.63h.7M75.63 741.11h.7M75.73 743.03h.7M85.96 737.54h.7M70.83 748.74h.7M87.24 749.05h.7M62.91 745.1h.7M76.49 732.43h.7M75.9 734.07h.7M84.09 732.56h.7M82.63 742.12h.7M81.31 733.26h.7M83.66 739.51h.7M71.31 746.75h.7M68.82 737.87h.7M78.8 748.92h.7M67.99 741.6h.7M81.62 744.94h.7M69.01 748.58h.7M67.91 738.94h.7M79.92 741.01h.7M65.4 735.54h.7M74.01 738.72h.7M85.7 734.53h.7M82.2 746.31h.7M72.17 747.13h.7M74.74 741.36h.7M74.07 735.43h.7M69.8 748.29h.7M71.94 745.39h.7M85.87 745.29h.7M83.95 738.69h.7M72.71 750.28h.7M65.48 733.61h.7M70.88 742.38h.7M74.96 741.45h.7M86.25 733.74h.7M70.89 739.76h.7M66.77 738.5h.7M83.01 743.31h.7M82.87 750.05h.7M87.82 739.82h.7M64.98 746.41h.7M69.03 747.25h.7M74.72 734.74h.7M63.78 737.17h.7M77.42 744.52h.7M69.92 744.34h.7M72.44 738.09h.7M85.17 750.07h.7M84.72 751.52h.7M70.89 737.59h.7M78.28 739.02h.7M65.49 741.95h.7M76.03 738.75h.7M62.91 742.92h.7M78.01 741.53h.7M73.48 735.68h.7M75.14 737.18h.7M83.16 748.57h.7M74.43 750.43h.7M74.35 748.06h.7M75.03 736.53h.7M83.83 747.33h.7M79.97 746.18h.7M82.99 739.08h.7M69.39 741.64h.7M71.85 748.25h.7M85.23 744.45h.7M67.68 737.72h.7M67.41 749.45h.7M79.05 734.03h.7M84.06 747.2h.7M77.95 740.95h.7M72.43 735.2h.7M82.35 747.88h.7M79.13 737.12h.7M67.17 748.93h.7M72.85 736.74h.7M84.37 745.31h.7M71.15 742.23h.7M64.98 740.23h.7M81 743.57h.7M69.03 733.26h.7M69.93 743.82h.7M72.75 741.33h.7M86.65 745.62h.7M80.34 749.44h.7M84.7 751.95h.7M76.41 734.35h.7M66.43 745.47h.7M80 745.54h.7M79.27 734.25h.7M76.27 732.6h.7M65.02 741.54h.7M65.57 746.61h.7M72.26 742.72h.7M64.49 732.63h.7M74.94 739.46h.7M76.07 749.41h.7M74.34 750.32h.7M66.13 748.98h.7M74.77 749.28h.7M69.87 739.31h.7M71.29 738.33h.7M77.58 747.04h.7M72.57 740.91h.7M74.09 745.62h.7M72.31 736.47h.7M81.62 744.34h.7M73.4 746.17h.7M76.9 745.43h.7M78.06 751.67h.7M68.36 742.93h.7M83.22 742.54h.7M80.33 741.68h.7M69.13 741.36h.7M87.61 739.22h.7M81.18 742.58h.7M75.43 743.9h.7M84.15 746.75h.7M74.04 741.61h.7M76.99 750.06h.7M71.8 737.39h.7M79.21 737.83h.7M69.3 733.23h.7M72.05 737.53h.7M84.56 735.13h.7M67.49 746.77h.7M68.48 732.62h.7M83.09 744.94h.7M79.08 737.55h.7M74.3 748.23h.7M75.07 734.75h.7M68.4 750.01h.7M70.73 748.04h.7M84.79 738.31h.7M80.45 750.19h.7M68.44 746.09h.7M64.51 747.71h.7M75.96 732.66h.7M72.88 748.28h.7M65.1 745.34h.7M67.48 746.39h.7M70.43 742.8h.7M71.48 738.02h.7M70.32 743.32h.7M70.99 741.92h.7M74.89 747.87h.7M77.47 740.47h.7M72.48 741.51h.7M74.55 748.67h.7M69.43 732.7h.7M81.74 735.18h.7M84.54 744.1h.7M80.22 742.73h.7M85.97 747.78h.7M65.29 744.46h.7M75.01 743.3h.7M89.02 733.41h.7M66.11 734.83h.7M77.51 746.17h.7M76.98 740.57h.7M84.4 740h.7M75.73 744.9h.7M64.14 737.22h.7M65.26 749.48h.7M77.55 737.66h.7M82.42 731.76h.7M64.43 735.41h.7M64.67 750.98h.7M70.96 737h.7M77.02 731.59h.7M75.63 737.79h.7M80.67 751.26h.7M68.82 746.57h.7M65.28 738.05h.7M82.66 742.6h.7M77.31 742.23h.7M64.1 742.13h.7M66.89 739.45h.7M71.89 750.24h.7M66.8 746.55h.7M76.82 746.29h.7M65.47 735.44h.7M75.11 745.25h.7M81.34 747.42h.7M67.09 732.73h.7M83.86 733.12h.7M81.96 731.65h.7M66.03 734.64h.7M67.9 734.83h.7M75.76 743.12h.7M74.75 733.34h.7M78.21 732.85h.7M83.68 741.88h.7M86.12 746.03h.7M71.78 731.09h.7M69.83 748.19h.7M80.39 739.24h.7M83.58 750.23h.7M81.41 742.94h.7M86.87 748.28h.7M87.6 749.26h.7M66.03 735.09h.7M82.89 737.74h.7M70.68 740.18h.7M84.27 738.89h.7M80.38 737.22h.7M76.56 732.05h.7M63.24 751.4h.7M79.65 736.92h.7M74.55 748.22h.7M73.06 738.68h.7M79.74 735.17h.7M82.42 743.6h.7M68.12 735.66h.7M79.59 749.87h.7M65.05 740.85h.7M82.47 747.35h.7M73.11 733.23h.7M69.36 733.3h.7M76.75 748.44h.7M72.46 746.66h.7M83.28 748.05h.7M80.06 746.61h.7M78.26 741.08h.7M68.92 741.13h.7M65.62 745.76h.7M86.95 740.02h.7M75.65 748.74h.7M74.14 739.34h.7M87.77 733.74h.7M79.7 740.41h.7M77.72 736.74h.7M72.57 731.86h.7M83.89 734.63h.7M84.42 744.54h.7M67.5 733.33h.7M85.26 747.21h.7M67.2 741.2h.7M84.8 732.33h.7M77.01 749.55h.7M68.2 749.3h.7M85.28 745.28h.7M84.8 741.36h.7M64.91 747.87h.7M68.68 734.98h.7M81.02 739.26h.7M79.74 733.36h.7M66.47 742.74h.7M78.14 735.92h.7M86.07 745.09h.7M76.51 742.66h.7M84.9 744.16h.7M71.65 744.71h.7M70.86 748.44h.7M79.83 743.55h.7M69.26 747.51h.7M84.9 734.96h.7M65.75 732.31h.7M69.52 748.1h.7M71.26 737.61h.7M73.25 733.85h.7M78.74 734.97h.7M67.57 744.12h.7M62.82 738.38h.7M63.66 750.83h.7M73.38 742.16h.7M66.58 742.26h.7M66.47 735.42h.7M85.31 749.37h.7M80.76 746.06h.7M79.77 740.68h.7M75.33 741.64h.7M82.2 734.44h.7M65.69 739.59h.7M72.81 737.53h.7M81.04 748.61h.7M63.19 748.69h.7M64.98 744.59h.7M78.34 736.37h.7M74.31 735.23h.7M67.05 743.99h.7M65.08 739.09h.7M68.24 733.43h.7M82.05 734.25h.7M66.63 749.6h.7M84.47 738.77h.7M68.41 745.72h.7M72.9 739.27h.7M73.7 737.04h.7M76.97 739.54h.7M72.26 740.16h.7M85.75 737.85h.7M72 743.62h.7M82.85 734.34h.7M63.91 745.18h.7M82.53 738.25h.7M81.51 739.91h.7M70.45 737.22h.7M83.5 749.7h.7M86.72 737.98h.7M82.9 740.87h.7M82.99 748.57h.7M83.58 737.41h.7M68.7 744.24h.7M83.3 746.15h.7M71.54 733.25h.7M72.42 742.5h.7M71.53 738.5h.7M74.59 733.42h.7M70.35 732.94h.7M76.43 739.05h.7M73.75 733.9h.7M81.08 738.21h.7M79.74 747.85h.7M84.33 739.59h.7M75.18 747.1h.7M84.93 744.14h.7M77.78 740.89h.7M72.78 742.54h.7M66.91 745.05h.7M70.79 736.2h.7M81.74 736.27h.7M65.07 731.9h.7M85.26 741.07h.7M72.77 750.77h.7M65.81 744.99h.7M65.67 741.69h.7M72.16 748.62h.7M85.1 736.14h.7M73.63 737.79h.7M86.75 733.87h.7M68.24 731.27h.7M69.14 750.46h.7M71.36 751.71h.7M79.03 746.81h.7M75.34 745.55h.7M70.83 750.1h.7M68.77 752.06h.7M86.09 746.3h.7M77.98 748.46h.7M83.46 745.96h.7M76.89 738.98h.7M78.75 737.92h.7M80.09 746.46h.7M81.83 740.7h.7M79.13 731.96h.7M72.87 736.78h.7M72.67 743.19h.7M64.72 745.09h.7M77.48 733.93h.7M80.25 749.71h.7M78.05 749.33h.7M83.48 732.22h.7M76.91 742.41h.7M73.55 743.91h.7M85.35 745.81h.7M85.13 739.94h.7M63.42 751.52h.7M72.59 735.06h.7M70.35 743.61h.7M73.67 749.88h.7M67.54 732.16h.7M71.11 740.87h.7M75.71 734.23h.7M71.39 748.07h.7M78.64 745.18h.7M65.71 748.93h.7M86.82 742.31h.7M77.83 750.14h.7M75.23 741.55h.7M64.84 735.6h.7M70.06 744.19h.7M86.45 749.41h.7M69.6 742.74h.7M66.86 735.55h.7M80.32 747.06h.7M66.05 740.46h.7M75.21 732.96h.7M76.94 733.67h.7M80.23 745.98h.7M76.26 737.74h.7M70.82 746.18h.7M72.14 750.34h.7M82.22 733.06h.7M68.39 744.15h.7M85.79 736.76h.7M67.88 740.15h.7M72.81 747.51h.7M76.17 743.7h.7M85.23 736.8h.7M80.29 735.53h.7M68.91 749.18h.7M76.94 749.53h.7M65.01 748.95h.7M72.46 736.24h.7M72.81 733.05h.7M76.87 747.65h.7M69.93 738.93h.7M83.14 742.22h.7M81.46 735.85h.7M67.53 742.59h.7M65.32 732.17h.7M67.76 748.13h.7M73.14 745.75h.7M85.65 734.47h.7M65.82 740.02h.7M65.92 734.2h.7M76.56 746.58h.7M66.58 741.75h.7M64.98 746.47h.7M76.27 746.96h.7M82.59 733.79h.7M79.15 737.89h.7M75.04 744.81h.7M84.8 743.42h.7M64.12 739.84h.7M66.66 740.65h.7M64.1 746.78h.7M82.73 733.27h.7M81.3 734.41h.7M74.65 733.66h.7M74.46 744.73h.7M83.43 737.1h.7M82.24 743.43h.7M64.89 748.85h.7M85.15 732.55h.7M75.08 736.92h.7M68.51 747.36h.7M84.05 743.07h.7M67.97 745.03h.7M69.56 746.02h.7M70.39 748.06h.7M72.64 736.59h.7M78.56 733.12h.7M77.86 747.12h.7M66.86 738.27h.7M86.13 749.29h.7M78.71 742.62h.7M70.36 737.41h.7M79.43 735.31h.7M63.58 748.72h.7M75.27 742.38h.7M78.49 736.12h.7M64.85 750.61h.7M69.53 740.19h.7M67.77 736h.7M70.2 734.02h.7M76.34 744.42h.7M77.09 737.75h.7M74.19 745.42h.7M78.35 742.25h.7M81.37 740.97h.7M80.66 749.62h.7M83.95 743.88h.7M72.67 743.31h.7M79.34 739.36h.7M80.04 741.73h.7M78.85 744.7h.7M78.13 742.07h.7M66.66 735.09h.7M84.94 736.36h.7M76 748.31h.7M65.37 740.27h.7M78.02 738.88h.7M74.14 741.96h.7M73.24 742.93h.7M72.14 736.85h.7M76.53 744.13h.7M74.85 736.86h.7M72.82 737.65h.7M76.66 747.52h.7M70.07 738.22h.7M69.28 744.16h.7M69.92 748.05h.7M72.95 742.55h.7M74.56 745.39h.7M65.81 732.99h.7M82.7 735.54h.7M75.23 735.01h.7M64.46 741.56h.7M85.33 741.96h.7M84.62 738.55h.7M76.17 742.33h.7M68.96 755.13h.7M83.3 753.79h.7M79.96 762.21h.7M82.77 753.53h.7M94.97 753.55h.7M66.49 750.35h.7M66.18 754.73h.7M88.12 762.72h.7M95.21 759.35h.7M87.23 753.4h.7M89.3 759.64h.7M69.3 767.21h.7M78.64 756.61h.7M87.79 752.34h.7M86.15 755.29h.7M80.31 764.92h.7M63.26 752.83h.7M87.41 755.4h.7M82.02 758.38h.7M88.72 758.98h.7M71.52 760.74h.7M88.27 753.12h.7M71.22 766.92h.7M94.78 763.67h.7M86.52 751.63h.7M71.7 752.99h.7M80.6 758.68h.7M70.39 759.92h.7M81.97 760.71h.7M83.36 760.65h.7M93.67 764.15h.7M85.51 751.7h.7M85.16 761.26h.7M82.9 755.87h.7M86.83 755.34h.7M77.31 764.47h.7M89.03 766.78h.7M77.26 756.19h.7M89.65 760.12h.7M76.3 758.85h.7M89.29 766.44h.7M65.62 764.27h.7M90.61 758.9h.7M66.35 765.76h.7M73.03 754.36h.7M64.95 762.67h.7M78.61 760.02h.7M92.24 760.8h.7M84.34 750.53h.7M93.69 764.21h.7M84.72 753.93h.7M78.33 760.9h.7M68.77 750.9h.7M80.75 765.88h.7M83.11 766.08h.7M75.47 767.12h.7M86.42 754.05h.7M75.81 757.19h.7M68.85 764.93h.7M75.12 767.21h.7M91.72 765.43h.7M92.85 751.84h.7M75.13 751.12h.7M88.88 759.35h.7M90.64 761.99h.7M70.91 767.13h.7M78.28 768.4h.7M75.19 763.38h.7M94.73 763.72h.7M79.42 750.59h.7M65.91 753.98h.7M73.32 759.82h.7M88.44 763.77h.7M67.13 756.21h.7M88.15 756.88h.7M65.23 764.58h.7M66.48 753.27h.7M68.11 767.75h.7M81.3 757.76h.7M68.96 761.88h.7M65.24 764.49h.7M79.02 760.99h.7M73.26 751.15h.7M66.77 759.68h.7M92.94 751.64h.7M77.33 761.55h.7M74.68 758.61h.7M77.43 754.44h.7M83.37 766.55h.7M75.34 751.29h.7M78.86 764.56h.7M90.33 751.41h.7M86.11 758.6h.7M79.92 753.91h.7M89.21 761.36h.7M90.29 767.2h.7M68.94 753.02h.7M72.73 751.21h.7M84.35 767.08h.7M75.78 762.5h.7M78.88 754.39h.7M66.08 759.79h.7M67.73 764.26h.7M83.69 756.51h.7M87.63 757.79h.7M90.89 751.09h.7M91.46 752.79h.7M88.52 755.95h.7M95.08 763.68h.7M88.36 766.11h.7M95.92 751.01h.7M86.79 762.83h.7M80.97 758.12h.7M84.64 766.37h.7M74 755.41h.7M64.02 767.09h.7M81.64 751.79h.7M84.82 755.29h.7M75.51 754.92h.7M66.08 764.17h.7M89.76 758.81h.7M73.75 749.78h.7M78.62 761.27h.7M83.05 760.29h.7M80.54 753.42h.7M78.75 763.26h.7M72.35 763.41h.7M69.45 764.06h.7M82.98 763.43h.7M75.36 753.49h.7M70.62 757.81h.7M93.83 755.38h.7M74.62 766.25h.7M75.78 757.15h.7M86.78 752.1h.7M79.04 766.83h.7M74.69 751.16h.7M67.23 765.09h.7M82.15 760.13h.7M88.35 752.39h.7M69.31 755.76h.7M95.82 752.63h.7M67.8 760.74h.7M82.12 753.04h.7M85.51 765.93h.7M65.77 767.59h.7M84.16 751.11h.7M80.85 759.59h.7M81.46 756.79h.7M87.94 758.8h.7M69.25 752.85h.7M93.34 752.15h.7M79.1 753.17h.7M81.22 753.71h.7M83.35 763.04h.7M92.33 752.46h.7M73.02 760.93h.7M81.76 752.15h.7M65.54 766.05h.7M95.95 763.2h.7M63.62 756.22h.7M66.16 758.44h.7M79.62 768.19h.7M80.22 763.22h.7M88.11 757.55h.7M69.2 763.48h.7M70.6 761.09h.7M92.9 762.49h.7M87.04 761.7h.7M79.74 755.15h.7M69.39 763.21h.7M84.9 761.46h.7M76.3 751.25h.7M86.41 761.34h.7M82.91 758.76h.7M96.25 764.43h.7M86.32 748.67h.7M70.96 768.56h.7M69.57 763.52h.7M84.2 750.56h.7M94.62 765h.7M72.8 766.27h.7M96.18 764.31h.7M94.51 751.23h.7M69.48 757.01h.7M69.8 765.7h.7M65.72 756.48h.7M81.17 765.99h.7M88.72 758.37h.7M94.4 761.97h.7M94.79 758.93h.7M88.17 750.5h.7M69.28 751.03h.7M66.57 756.93h.7M70.48 768.16h.7M84.66 761.19h.7M76.3 760.47h.7M93.68 757.98h.7M66.2 762.71h.7M77.05 752.42h.7M72.32 764.25h.7M87.75 753.13h.7M81.52 758.69h.7M80.38 754.7h.7M75.53 758.06h.7M71.08 766.26h.7M78.37 759.93h.7M71.09 752.25h.7M78.52 756.92h.7M70.14 754.3h.7M73.07 764.08h.7M92.75 756.18h.7M81.04 764.6h.7M65.27 758.05h.7M63.95 766.5h.7M70.52 766.14h.7M67.08 754.76h.7M95.54 755.3h.7M96.39 753.96h.7M64.67 765.71h.7M96.19 767.67h.7M84.13 767.86h.7M89.39 749.25h.7M93.57 761.29h.7M77.86 765.15h.7M76.92 756.06h.7M75.04 750.28h.7M95.38 750.31h.7M72.51 751.09h.7M77.3 756.78h.7M81.79 767.52h.7M72.18 766.61h.7M82.12 767.64h.7M69.65 755.22h.7M89.1 756.15h.7M74.58 766.21h.7M65.05 753.49h.7M65.76 762.33h.7M73.29 752.28h.7M86.89 766.77h.7M84.6 757.2h.7M72.01 768.35h.7M94.44 761.83h.7M88.28 759.49h.7M68 754.06h.7M65.91 767.38h.7M83.87 751.1h.7M85.31 758.76h.7M77.36 754.13h.7M89.12 758.65h.7M73.49 759.92h.7M86.14 757.64h.7M84.49 760.79h.7M83.35 760.03h.7M91.62 762.03h.7M71.68 761.75h.7M92.36 765.12h.7M91.06 768.79h.7M93.45 755.46h.7M66.63 762.2h.7M83.77 748.73h.7M71.21 767.35h.7M79.12 756.07h.7M89.21 762.34h.7M85.72 768.35h.7M75.46 763.93h.7M85.17 757.32h.7M72.65 763.4h.7M67.51 768.95h.7M88.36 752.67h.7M81.3 750.7h.7M68.23 759.3h.7M71.34 767.77h.7M95.89 753.51h.7M92.58 762.05h.7M96.23 755.18h.7M89.06 767.29h.7M88.67 756.61h.7M83.28 750.03h.7M79.18 758.02h.7M93.91 762.41h.7M93.71 758.07h.7M91.84 755.67h.7M70.18 760.83h.7M93.61 757.85h.7M89.19 763.7h.7M80.87 758.15h.7M86.65 751.71h.7M64.57 752.09h.7M91.25 752.39h.7M84.71 766.47h.7M71.86 750.56h.7M84.74 757.66h.7M77.35 757.46h.7M94.79 750.71h.7M87.82 760.72h.7M78.65 759.74h.7M90.12 754.36h.7M90.29 757.01h.7M77.27 753.13h.7M86.9 763.27h.7M65.42 758.66h.7M81.47 758.86h.7M90.25 752.08h.7M73.44 766.03h.7M94.63 763.05h.7M80.96 761.5h.7M85.57 760.15h.7M77.12 752.57h.7M75.75 761.11h.7M79.76 765.58h.7M80.64 752.1h.7M75.93 768.38h.7M81.3 763.01h.7M79.72 758.08h.7M85.48 759.03h.7M71.23 763.63h.7M94.81 758.28h.7M67.56 756.5h.7M82.54 761.7h.7M96.01 756.1h.7M81.76 766.53h.7M77.19 761.22h.7M73.11 751.12h.7M82.55 764.26h.7M82.88 753.01h.7M78.68 767.28h.7M88.57 757.44h.7M93.27 766.25h.7M84.83 758.81h.7M85.07 767h.7M91.71 763.32h.7M86.14 755.71h.7M85.07 755.25h.7M71.51 761.22h.7M84.75 757.12h.7M85.2 768.33h.7M93.82 754.85h.7M67.62 752.82h.7M82.49 759.24h.7M83.95 761.8h.7M89.36 752.3h.7M65.46 754.7h.7M94.48 759.57h.7M95.41 762.23h.7M75.36 767.32h.7M77.62 767.03h.7M67.29 759.55h.7M75.22 765.26h.7M65.14 759.18h.7M65.18 760.52h.7M75.91 759.53h.7M68.81 760.49h.7M87.15 767.61h.7M67.5 758.42h.7M71.18 759.6h.7M84.08 753.08h.7M81.16 765.82h.7M66.48 757.22h.7M92.6 751.3h.7M75.93 757.72h.7M91.52 762.28h.7M81.83 766.74h.7M92.68 752.09h.7M79.69 757.98h.7M80.36 762.72h.7M73.08 756.6h.7M76.23 768.14h.7M72.09 751.06h.7M85.36 761.11h.7M76.94 750.28h.7M67.5 764.99h.7M75.68 753.91h.7M80.89 755.42h.7M92.03 759.72h.7M69.01 749.54h.7M74.35 764.84h.7M85.58 767.19h.7M67.17 766.43h.7M80.79 760.45h.7M92.11 757.85h.7M92.39 754.63h.7M74.75 751.16h.7M79.69 755.72h.7M91.45 754.97h.7M91.44 757.75h.7M93.24 756.34h.7M78.53 755.74h.7M66.34 762.43h.7M67.62 754.63h.7M81.26 756.86h.7M93.74 766.4h.7M85.93 757.81h.7M80.11 762.99h.7M91.04 761.53h.7M90.38 767.31h.7M75.31 761.9h.7M81.17 758.51h.7M85 750.94h.7M87.65 766.81h.7M88.73 767.5h.7M68.47 751.74h.7M70.57 749.4h.7M81.54 761.38h.7M64.33 766.83h.7M92.38 767.3h.7M71.65 759.24h.7M67.74 753.58h.7M76.79 752.48h.7M83.98 757.9h.7M90.75 759.67h.7M79.52 757.56h.7M85.4 768.86h.7M86.69 759.54h.7M79.24 766.08h.7M83.31 756.11h.7M81.21 759.07h.7M88.89 752.28h.7M65.28 757.99h.7M76.32 768.06h.7M67.4 753.89h.7M83.45 752.53h.7M85.25 752.19h.7M88.09 755.96h.7M77.7 757.54h.7M91.67 760.32h.7M74.98 755.9h.7M97.24 764.19h.7M85.4 751.03h.7M85.99 763.09h.7M84.89 758.94h.7M66.52 752.85h.7M78.84 765.85h.7M74.43 761.55h.7M73.67 767.15h.7M95.59 761.5h.7M93.48 765.99h.7M63.83 766.87h.7M84.04 759.03h.7M80.63 751.36h.7M75.82 752.91h.7M71.21 756.89h.7M73.43 768.03h.7M95.22 751.21h.7M94.8 757.75h.7M64.84 765.91h.7M69.36 750.13h.7M72.52 765.56h.7M94.21 757.38h.7M74.61 751.39h.7M81.65 755.92h.7M80.01 757.46h.7M95.66 762.29h.7M88.49 762.43h.7M75.89 764.4h.7M82.06 767.15h.7M78.86 759.34h.7M80.47 765.21h.7M69.55 756.54h.7M69.73 762.11h.7M82.88 756.44h.7M66.23 758.18h.7M67.53 761.71h.7M70.73 759.22h.7M69.61 759.76h.7M95.1 758.75h.7M85.89 758.6h.7M90.04 765.08h.7M65 755.49h.7M70.45 765.53h.7M80.39 751.66h.7M68.4 753.38h.7M90.64 765.22h.7M69.55 758.97h.7M93.08 761.44h.7M78.93 763.17h.7M94.51 764.7h.7M86.01 753.16h.7M90.82 763.85h.7M68.04 755.29h.7M90.31 758.47h.7M81.47 752.67h.7M85.78 764.91h.7M68.55 760.98h.7M68.19 759.94h.7M80.64 752.09h.7M84.11 753.06h.7M87.31 755.28h.7M71.85 752.15h.7M68.45 761.85h.7M69.87 766.04h.7M81.92 761.77h.7M71.04 759.66h.7M83.28 762.29h.7M68.19 762.42h.7M90.6 751.05h.7M90.93 766.65h.7M91.33 751.29h.7M74.52 759.78h.7M66 762.5h.7M76.15 758.67h.7M87.52 752.87h.7M88.97 767.64h.7M78.83 756.17h.7M84.52 763.66h.7M90.54 762.37h.7M72.46 759.86h.7M84.77 752.61h.7M77.75 759.58h.7M86.3 759.02h.7M81.2 761.5h.7M95.89 751.32h.7M80.62 752.04h.7M85.76 753.73h.7M94.59 754.15h.7M93.97 751.14h.7M78.51 764.55h.7M67.76 768.61h.7M68.41 751.34h.7M82.65 756.26h.7M95.28 756.35h.7M73.97 763.39h.7M75.31 764.79h.7M83 764.75h.7M64.2 760.28h.7M70.2 753.29h.7M87.47 750.26h.7M64.91 768.9h.7M67.11 749.5h.7M92.59 765.37h.7M81.19 761.32h.7M69.39 760.77h.7M86.13 763.02h.7M79.1 751.47h.7M63.31 756.84h.7M71.16 756.76h.7M95.72 754.2h.7M78.09 764.5h.7M71.47 760.35h.7M67.48 768.74h.7M70.99 764.91h.7M68.44 763.1h.7M75.31 761.36h.7M71.74 767.99h.7M70.18 753.02h.7M87.63 767.2h.7M70.71 766.97h.7M78.74 756.15h.7M92.7 766.08h.7M75.71 762.9h.7M76.13 761.92h.7M74.62 763.82h.7M70.14 755.5h.7M67.31 768.64h.7M90.61 743.56h.7M100.22 745.49h.7M80.27 747.5h.7M98.27 733.79h.7M103.94 758.8h.7M81.28 747.01h.7M93.44 749.2h.7M92.53 750.23h.7M84.06 743.52h.7M89.53 748.36h.7M105.95 751.49h.7M81.87 747.89h.7M105.63 759.73h.7M103.97 745.98h.7M96.35 746.56h.7M81.21 745.67h.7M87.05 736.27h.7M89.11 742.52h.7M88.28 750.4h.7M81.72 745.85h.7M93.27 747.3h.7M92.49 745.88h.7M77.59 730.61h.7M85.58 742.42h.7M82.83 739.75h.7M87.01 757.36h.7M89.45 750.96h.7M95.71 746.47h.7M98.08 741.26h.7M88.78 736.95h.7M89.28 751.52h.7M83.14 744.66h.7M88.21 744.85h.7M86.99 747.25h.7M80.25 746.16h.7M103.77 737.46h.7M96.81 740.29h.7M85.68 758.04h.7M95.73 749.65h.7M103.55 749.85h.7M89.44 729.02h.7M95.97 757.26h.7M86.74 736.7h.7M76.42 749.4h.7M70.95 747.88h.7M96.83 741.97h.7M81.77 743.21h.7M102.78 737.03h.7M83.79 748.92h.7M85.15 754.43h.7M84.34 736.6h.7M78.17 743.62h.7M99.12 745.3h.7M85.5 734.39h.7M92.27 740.4h.7M79.22 736.08h.7M91.69 749.27h.7M92.01 753.47h.7M95.82 740.96h.7M103.77 739.64h.7M91.88 745.47h.7M99.42 744.89h.7M92.87 731.31h.7M89.54 746.16h.7M102.39 732.95h.7M80.51 751.09h.7M73.11 732.57h.7M87.15 738.88h.7M94.13 752.6h.7M96.52 738.49h.7M84.53 743.8h.7M93.56 749.12h.7M86.98 752.46h.7M95.95 743.01h.7M91.79 756.4h.7M95.43 743.05h.7M87.51 751.91h.7M93.28 746.15h.7M84.3 743.33h.7M91.5 757.6h.7M79.76 746.03h.7M82.66 735.42h.7M100.01 752.44h.7M93.98 745.55h.7M89.84 748.68h.7M93.36 749.17h.7M95.37 733.63h.7M79.89 744.92h.7M89.85 735.64h.7M97.85 748.62h.7M92.64 752.55h.7M95.25 744.35h.7M85.35 753.3h.7M86.31 739.97h.7M82.58 750.05h.7M92.31 744.05h.7M97.88 739.32h.7M96.88 741.5h.7M88.98 743.77h.7M91.99 754.98h.7M85.37 752.42h.7M100.2 744.04h.7M84.98 737.12h.7M89.66 765.44h.7M88.72 746.05h.7M82.62 748.28h.7M92.3 752.12h.7M83.48 744.25h.7M79.78 742.22h.7M78.82 753.17h.7M72.6 749.39h.7M91.26 734.3h.7M96.51 754.32h.7M104.53 743.35h.7M96.29 746.55h.7M101.83 745.13h.7M99.21 738.02h.7M84.85 737.5h.7M88.75 736.26h.7M91.41 741.12h.7M78.92 746.81h.7M99.34 748.76h.7M92.95 743.48h.7M88.73 733.9h.7M106.03 733.35h.7M82.99 737.82h.7M81.49 746.2h.7M84.17 741.21h.7M93.02 736.6h.7M81.17 748.35h.7M86.13 732.12h.7M94.99 734.91h.7M90.01 745.18h.7M92.44 747.02h.7M86.8 744.88h.7M76.75 746.96h.7M74.86 750.2h.7M84.14 751.22h.7M89.6 748.69h.7M86.37 743.31h.7M93.97 749.64h.7M86.96 725.75h.7M91.22 750.08h.7M100.35 743.25h.7M86.76 740.55h.7M106.78 743.31h.7M86.54 740.91h.7M83.31 745.96h.7M91.26 738.01h.7M104.41 752.54h.7M87.59 748.78h.7M88.68 741.49h.7M83.15 740.34h.7M104.39 757.04h.7M98.53 736.41h.7M103.65 733.76h.7M102.04 730.29h.7M100.67 741.81h.7M102.42 746.06h.7M103.94 735.88h.7M93.48 726.18h.7M94.72 737.3h.7M96.74 752.33h.7M100.87 740.26h.7M99.55 737.06h.7M100.57 743.81h.7M99.33 742.91h.7M104.87 739.18h.7M101.95 739.87h.7M103.95 742.6h.7M100.03 744.23h.7M104.06 739.34h.7M94.21 747.13h.7M100.16 741.93h.7M99.96 736.7h.7M94.4 738.34h.7M98.38 740.93h.7M98.02 738.01h.7M102.28 738.24h.7M96.78 740.68h.7M97.98 732.98h.7M94.86 733.78h.7M96.74 726.76h.7M93.29 735.11h.7M97.51 737.31h.7M101.48 732.7h.7M105.39 740.02h.7M89.29 737.9h.7M95.08 740.81h.7M106.28 731.01h.7M99.55 732.62h.7M93.07 741.42h.7M102.54 734.67h.7M97.49 731.87h.7M96.37 736.9h.7M98.39 741.76h.7M99.91 737.89h.7M99.52 741.31h.7M101.4 731.17h.7M98.32 740.22h.7M95.92 730.67h.7M95.01 731.85h.7M98.2 737.29h.7M101.27 728.29h.7M100.95 742.27h.7M102.14 729.22h.7M103.49 746.52h.7M100.18 735h.7M105.24 733.19h.7M106.39 732.62h.7M101.03 739.68h.7M99.85 735.1h.7M94.92 745.2h.7" stroke="#000" stroke-width="0.7" fill="none" stroke-opacity="0.62"/>
<rect x="30.5" y="675.8" width="93.7" height="93.7" fill="none" stroke="#000" stroke-width="1.1"/>
<rect x="85.4" y="726.5" width="21" height="20.9" fill="none" stroke="#000" stroke-width="1"/>
<text x="122" y="722.6" font-size="12.7" text-anchor="end" stroke="#000" stroke-width="0.2">33%</text>
<line x1="35.19" y1="769.5" x2="35.19" y2="770.7" stroke="#000" stroke-width="0.7"/>
<line x1="29.3" y1="680.48" x2="30.5" y2="680.48" stroke="#000" stroke-width="0.7"/>
<line x1="39.87" y1="769.5" x2="39.87" y2="770.7" stroke="#000" stroke-width="0.7"/>
<line x1="29.3" y1="685.17" x2="30.5" y2="685.17" stroke="#000" stroke-width="0.7"/>
<line x1="44.55" y1="769.5" x2="44.55" y2="770.7" stroke="#000" stroke-width="0.7"/>
<line x1="29.3" y1="689.86" x2="30.5" y2="689.86" stroke="#000" stroke-width="0.7"/>
<line x1="49.24" y1="769.5" x2="49.24" y2="770.7" stroke="#000" stroke-width="0.7"/>
<line x1="29.3" y1="694.54" x2="30.5" y2="694.54" stroke="#000" stroke-width="0.7"/>
<line x1="53.92" y1="769.5" x2="53.92" y2="771.7" stroke="#000" stroke-width="0.7"/>
<line x1="28.3" y1="699.22" x2="30.5" y2="699.22" stroke="#000" stroke-width="0.7"/>
<line x1="58.61" y1="769.5" x2="58.61" y2="770.7" stroke="#000" stroke-width="0.7"/>
<line x1="29.3" y1="703.91" x2="30.5" y2="703.91" stroke="#000" stroke-width="0.7"/>
<line x1="63.3" y1="769.5" x2="63.3" y2="770.7" stroke="#000" stroke-width="0.7"/>
<line x1="29.3" y1="708.6" x2="30.5" y2="708.6" stroke="#000" stroke-width="0.7"/>
<line x1="67.98" y1="769.5" x2="67.98" y2="770.7" stroke="#000" stroke-width="0.7"/>
<line x1="29.3" y1="713.28" x2="30.5" y2="713.28" stroke="#000" stroke-width="0.7"/>
<line x1="72.67" y1="769.5" x2="72.67" y2="770.7" stroke="#000" stroke-width="0.7"/>
<line x1="29.3" y1="717.96" x2="30.5" y2="717.96" stroke="#000" stroke-width="0.7"/>
<line x1="77.35" y1="769.5" x2="77.35" y2="771.7" stroke="#000" stroke-width="0.7"/>
<line x1="28.3" y1="722.65" x2="30.5" y2="722.65" stroke="#000" stroke-width="0.7"/>
<line x1="82.03" y1="769.5" x2="82.03" y2="770.7" stroke="#000" stroke-width="0.7"/>
<line x1="29.3" y1="727.34" x2="30.5" y2="727.34" stroke="#000" stroke-width="0.7"/>
<line x1="86.72" y1="769.5" x2="86.72" y2="770.7" stroke="#000" stroke-width="0.7"/>
<line x1="29.3" y1="732.02" x2="30.5" y2="732.02" stroke="#000" stroke-width="0.7"/>
<line x1="91.41" y1="769.5" x2="91.41" y2="770.7" stroke="#000" stroke-width="0.7"/>
<line x1="29.3" y1="736.7" x2="30.5" y2="736.7" stroke="#000" stroke-width="0.7"/>
<line x1="96.09" y1="769.5" x2="96.09" y2="770.7" stroke="#000" stroke-width="0.7"/>
<line x1="29.3" y1="741.39" x2="30.5" y2="741.39" stroke="#000" stroke-width="0.7"/>
<line x1="100.78" y1="769.5" x2="100.78" y2="771.7" stroke="#000" stroke-width="0.7"/>
<line x1="28.3" y1="746.08" x2="30.5" y2="746.08" stroke="#000" stroke-width="0.7"/>
<line x1="105.46" y1="769.5" x2="105.46" y2="770.7" stroke="#000" stroke-width="0.7"/>
<line x1="29.3" y1="750.76" x2="30.5" y2="750.76" stroke="#000" stroke-width="0.7"/>
<line x1="110.15" y1="769.5" x2="110.15" y2="770.7" stroke="#000" stroke-width="0.7"/>
<line x1="29.3" y1="755.44" x2="30.5" y2="755.44" stroke="#000" stroke-width="0.7"/>
<line x1="114.83" y1="769.5" x2="114.83" y2="770.7" stroke="#000" stroke-width="0.7"/>
<line x1="29.3" y1="760.13" x2="30.5" y2="760.13" stroke="#000" stroke-width="0.7"/>
<line x1="119.52" y1="769.5" x2="119.52" y2="770.7" stroke="#000" stroke-width="0.7"/>
<line x1="29.3" y1="764.82" x2="30.5" y2="764.82" stroke="#000" stroke-width="0.7"/>
</g>
<g>
<path d="M203.78 729.56h.7M195.3 738.48h.7M189.76 740.84h.7M191.41 741.66h.7M195.58 743.39h.7M194.72 744.24h.7M195.72 739.51h.7M192.6 737.23h.7M186.34 744.85h.7M192.8 742.22h.7M195.07 734.45h.7M190.3 738.12h.7M198.09 737.01h.7M194.07 736.49h.7M187.72 741.89h.7M193.03 742.56h.7M186.58 746.24h.7M189.58 740.9h.7M191.98 739.71h.7M195.56 742.53h.7M195.02 737.29h.7M195.38 740.67h.7M197.38 738.94h.7M186.15 742.21h.7M191.65 745.26h.7M192.86 744.42h.7M194.8 734.87h.7M193.68 742.48h.7M195.32 733.38h.7M195.41 736.85h.7M183.91 744.42h.7M184.53 741.24h.7M200.01 745.88h.7M198.28 739.01h.7M202.09 736.16h.7M189.03 733.65h.7M197.6 728.85h.7M180.49 746.32h.7M193.77 736.83h.7M198.22 737h.7M194.44 741.57h.7M190.83 743h.7M204.11 729.8h.7M194.26 742.03h.7M191.04 741.86h.7M185.69 743.8h.7M193.71 744.75h.7M197.85 735.33h.7M188.45 751.04h.7M197.61 730.19h.7M191.99 737.87h.7M190.77 735.43h.7M191.63 739.65h.7M192.48 745.31h.7M194.6 734.92h.7M185.61 743.53h.7M198.85 740.77h.7M190.88 746.85h.7M195.58 736.74h.7M195.58 738.86h.7M188.48 742.07h.7M194.35 745.25h.7M188.86 744.52h.7M193.72 740.2h.7M188.01 749.17h.7M199.61 742.97h.7M195.8 744.99h.7M196.13 742.85h.7M192.12 742.37h.7M192.16 737.22h.7M191.66 737.28h.7M188.52 742.26h.7M190.89 750.58h.7M201.86 739.47h.7M197.33 734.65h.7M194.96 733.85h.7M190.78 740.43h.7M191.99 745.04h.7M190.05 752.55h.7M191.33 745.44h.7M186.39 748.9h.7M188.01 744.98h.7M193.67 743.81h.7M196.53 740.21h.7M193.02 748.8h.7M191.58 741.92h.7M191.53 742.45h.7M189.25 741.72h.7M196.04 736.63h.7M195.85 736.73h.7M200.28 735.65h.7M201.85 737.17h.7M193.1 744.7h.7M199.1 743.11h.7M200.15 739.88h.7M188.3 747.76h.7M193.3 742.38h.7M199.58 733.77h.7M199.88 746.11h.7M196.28 737.54h.7M200.08 737.07h.7M198.59 742.36h.7M186.71 746.35h.7M186.65 742.25h.7M196.52 733.83h.7M190.36 740.81h.7M195.15 740.94h.7M195.75 737.1h.7M190.2 744.4h.7M189.65 739.83h.7M196.92 735.15h.7M189.48 747.74h.7M193.46 731.61h.7M190.17 750.59h.7M206.78 730.71h.7M196.9 741.32h.7M195.1 732.19h.7M198.27 738.57h.7M192.55 734.67h.7M190.71 741.91h.7M192.47 742.14h.7M191.85 745.64h.7M196.52 733.94h.7M190.83 743.98h.7M191.07 747.75h.7M191.13 743.07h.7M196.42 734.07h.7M199.39 735.85h.7M190.32 739.82h.7M185.79 740.09h.7M200.52 735.43h.7M192.3 742.09h.7M196.26 735.53h.7M192.63 742.18h.7M198.27 738.43h.7M201.26 734.59h.7M192.05 735.9h.7M193.4 743.17h.7M192.47 740.5h.7M189.1 741.04h.7M191.54 741.43h.7M198.55 739.27h.7M197.82 742.42h.7M191.46 747.21h.7M193.81 735.03h.7M190.81 741.93h.7M186.51 754.3h.7M193.36 744.04h.7M188.02 744.48h.7M194.77 736.63h.7M194.75 739.68h.7M195.3 734.49h.7M195.96 737.75h.7M189.64 734.21h.7M192.68 739.54h.7M204.49 728.49h.7M200.41 740.99h.7M195.46 740.2h.7M195.86 733.03h.7M200.07 734.91h.7M190.14 742.65h.7M180.9 743.39h.7M188.12 737.7h.7M196.23 745.08h.7M193.6 739.11h.7M195.02 737.45h.7M194.13 741.67h.7M192.47 739.48h.7M193.84 740.47h.7M196.63 732.37h.7M188.37 741.85h.7M195.74 733.8h.7M199.06 742.55h.7M190.1 747.12h.7M183.87 746.3h.7M186.06 749.57h.7M197.36 739.93h.7M190.77 737.64h.7M195.35 737.11h.7M196.54 732h.7M195.37 741.19h.7M182.94 742.13h.7M190.13 740.12h.7M185.43 745.64h.7M188.15 743.49h.7M184.91 741.17h.7M196.54 731.45h.7M193.17 746.3h.7M197.04 732.68h.7M203.55 731.49h.7M197.61 741.44h.7M191.85 743.89h.7M180.61 749.04h.7M194.04 738.53h.7M193.86 744.3h.7M197.63 735.07h.7M196.93 742.72h.7M193.82 741.6h.7M182.03 741.44h.7M195.02 733.26h.7M197.19 742.49h.7M188.74 738.69h.7M192.36 741.87h.7M197.05 737h.7M193.43 736.29h.7M194.56 736.43h.7M197.86 740.17h.7M185.71 746.67h.7M188.19 747.53h.7M188.47 748.53h.7M198.14 744.99h.7M194.75 739.58h.7M198.83 731.83h.7M193.04 739.22h.7M192.95 734.22h.7M185.49 738.58h.7M199.96 734.63h.7M196.08 738h.7M192.11 746.29h.7M182.55 746.44h.7M189.59 739.04h.7M185.77 739.07h.7M187.69 748.33h.7M190.03 740.57h.7M192.39 743.38h.7M197.95 738.04h.7M193.21 742.45h.7M189.54 743.62h.7M200.96 732.71h.7M189.27 736.78h.7M193.45 742.7h.7M191.25 740.34h.7M198.62 736.96h.7M196.41 736.83h.7M199.17 740.12h.7M192.56 738.43h.7M204.89 728.49h.7M188.81 733.33h.7M196.39 738.57h.7M192.86 734.54h.7M193.32 737.19h.7M187.9 742.92h.7M194.68 738.87h.7M190.97 744.8h.7M194.39 738.19h.7M195.91 739.87h.7M197.47 740.96h.7M196.66 735.83h.7M199.31 740.44h.7M190.83 746.96h.7M193.72 736.14h.7M193.13 735.41h.7M198.45 732.02h.7M200 732.6h.7M192.7 745.86h.7M194.92 732.83h.7M192.71 733.57h.7M196.39 734.36h.7M192.93 740.15h.7M186.46 746.19h.7M201.45 731.5h.7M190.72 743.59h.7M198.87 733.34h.7M194.26 741.24h.7M198.15 734.03h.7M204.58 741.17h.7M187.18 741.3h.7M195.03 736.82h.7M191 741.98h.7M190.06 740.16h.7M194.37 738.21h.7M195.05 743.49h.7M198.5 737.48h.7M202.76 732.79h.7M197.5 744.92h.7M194.33 743.08h.7M191.31 739.59h.7M194.39 741.73h.7M195.14 741.97h.7M194.95 739.14h.7M190.72 741.82h.7M193.73 740.24h.7M188.6 748.62h.7M198.47 738.12h.7M191.37 746.17h.7M192.5 740.17h.7M196.23 736.55h.7M194.14 738.16h.7M196.31 740.32h.7M196.8 740.06h.7M195.05 740.99h.7M197.17 734.37h.7M188.32 744.18h.7M194.32 739.02h.7M200.34 737.9h.7M199.26 737.15h.7M187.47 739.13h.7M198.46 737.48h.7M191.46 746.89h.7M201.34 736.96h.7M199.39 735.51h.7M189.41 736.8h.7M198.53 731.26h.7M191.84 741.92h.7M196.24 731.5h.7M192.59 737.98h.7M200.14 735.49h.7M190.71 749.01h.7M194.35 743.07h.7M195.08 738.91h.7M196.96 735.5h.7M187.46 741.95h.7M196.45 737.15h.7M198.4 740.14h.7M194.58 744.14h.7M195.34 740.61h.7M192.43 740.86h.7M193.33 744.75h.7M200.69 740.08h.7M194.76 739.28h.7M194.8 737.52h.7M193.59 739.23h.7M193.5 731.41h.7M193.64 743h.7M188.89 750.38h.7M194.31 737.88h.7M199.95 732.7h.7M205.7 729.88h.7M197.84 743.28h.7M196.77 738.97h.7M190.54 741.97h.7M194.66 743.63h.7M183.85 749.25h.7M188.68 741.35h.7M193.23 738.34h.7M196.36 732.42h.7M195.78 735.19h.7M192.05 741.23h.7M187.41 746.15h.7M203.11 731.79h.7M189.69 748.87h.7M201.05 727.75h.7M192.06 738.39h.7M194.38 739.6h.7M189.16 741.7h.7M198.55 733.66h.7M194.65 742.24h.7M201.29 737.12h.7M194.72 736.12h.7M194.77 744.91h.7M195.69 743.88h.7M191.56 744.88h.7M192.54 738.5h.7M190.9 746.89h.7M196.25 738.09h.7M192.52 744.32h.7M191.69 746.12h.7M195.04 737.4h.7M192.85 736.95h.7M188.91 741.62h.7M191.49 740.49h.7M190.32 740.07h.7M195.12 734.38h.7M182.44 754.36h.7M194.13 740.89h.7M198.83 741.5h.7M200.09 739.96h.7M197.08 740.13h.7M193.12 740.37h.7M177.75 757.23h.7M193.17 736.98h.7M198.81 734.41h.7M195.38 736.07h.7M188.54 748.13h.7M194.28 734.05h.7M196.62 742.05h.7M192.41 744.04h.7M199.49 741.22h.7M196.51 741.64h.7M200.94 736.58h.7M192.49 740.21h.7M193.8 733.26h.7M193.52 739.87h.7M193.31 743.73h.7M200.3 737.03h.7M190.13 740.83h.7M193.76 737.6h.7M193.36 742.73h.7M194.63 747.73h.7M186.3 745.8h.7M198.4 733.13h.7M186.06 753.56h.7M197.96 739.78h.7M199.03 733.09h.7M188.58 749.87h.7M194.16 733.86h.7M193.08 746.97h.7M188.89 737.35h.7M183.25 746.64h.7M193.21 738.19h.7M191.12 741h.7M190.78 740.08h.7M198.01 737.71h.7M195.97 731.72h.7M189.51 747.11h.7M194.28 744.04h.7M187.07 747.24h.7M191.08 742.15h.7M190.51 738.76h.7M188.87 743.03h.7M198.29 733.24h.7M190.94 738.36h.7M189.84 745.53h.7M191.67 738.02h.7M196.74 739.77h.7M195.18 740.02h.7M190.96 745.37h.7M190.83 743.16h.7M194.33 744.48h.7M192.9 744.1h.7M186 745.95h.7M194.51 740.29h.7M184.57 749.25h.7M190.84 739.62h.7M200.63 735.02h.7M197.83 731.03h.7M196.74 739.22h.7M194.96 735.89h.7M195.23 738.66h.7M199.72 734.52h.7M186.45 749.27h.7M188.82 742.76h.7M197.03 744.81h.7M196.16 741.65h.7M194.5 740.42h.7M193.4 741.92h.7M189.63 743.93h.7M198.9 737.68h.7M193.04 743.82h.7M189.8 742.19h.7M203.82 737.07h.7M197.13 737.81h.7M190.51 738.18h.7M193.85 745.44h.7M193.44 743.93h.7M192.46 741.72h.7M195.45 750.81h.7M194.32 736.6h.7M197.91 737.75h.7M196.21 736.09h.7M197.77 735.2h.7M195.53 737.81h.7M190.47 744.94h.7M195.62 731.46h.7M196.91 741.56h.7M194.59 741.29h.7M195.03 740.84h.7M192.24 745.54h.7M199.32 733.62h.7M194.08 736.74h.7M191.74 745.56h.7M193.9 741.23h.7M192.12 750.66h.7M198.97 738.62h.7M194.68 746.66h.7M199.14 738.15h.7M193 736.62h.7M199.78 743.18h.7M204.24 734.79h.7M197.77 730.36h.7M196.73 735.71h.7M190.16 739.66h.7M189.93 741.04h.7M196.21 736.21h.7M192.2 740.98h.7M202.73 737.67h.7M191.03 745.34h.7M201.14 735.14h.7M197.02 742.55h.7M187.57 745.14h.7M193.28 744.02h.7M199.62 734.87h.7M187.1 742.94h.7M193.84 737.96h.7M194.88 735.3h.7M196.15 741.8h.7M202.67 734.27h.7M198.25 734.91h.7M190.77 739.44h.7M193.26 735.92h.7M185.88 754.26h.7M192.48 741.35h.7M194.61 738.32h.7M192.85 745.43h.7M195 743.96h.7M188.55 745.74h.7M189.76 738.16h.7M197.02 739.32h.7M196.88 740.9h.7M185.14 748.24h.7M202.15 735.7h.7M198.02 743.2h.7M201.6 725.88h.7M192.42 740.78h.7M192.65 745.41h.7M188.27 734.74h.7M194.99 738.72h.7M198.41 741.69h.7M195.42 744.55h.7M188.04 743.97h.7M187.91 751.48h.7M192.63 744.91h.7M195.8 742.01h.7M198.21 741.86h.7M197.2 738.67h.7M197 731.11h.7M189.8 748.62h.7M196.25 733.51h.7M188.22 739.52h.7M192.05 744.89h.7M193.67 743.48h.7M188.09 743.81h.7M194.51 741.61h.7M196.95 738.88h.7M197.36 742.81h.7M195.95 734.52h.7M190.83 739.15h.7M200.61 739.05h.7M194.06 738.08h.7M191.21 747.81h.7M193.04 738.69h.7M190.36 745.32h.7M185.63 743.73h.7M196.51 741.83h.7M196.34 737.67h.7M197.39 744.45h.7M190.08 739.74h.7M192.21 741.91h.7M191.52 739.56h.7M183.93 750.25h.7M189.19 743.61h.7M191.54 744.59h.7M188.41 739.73h.7M194.12 740.54h.7M191.61 743.4h.7M191.58 740.57h.7M188.58 743.78h.7M197.78 737.31h.7M193.48 744.33h.7M191.96 739.2h.7M194.18 746.55h.7M192.06 741.35h.7M195.16 737.9h.7M192.14 746.4h.7M186.25 747.26h.7M197.8 742.57h.7M194.79 741.65h.7M191.29 735.57h.7M194.73 740.55h.7M195.63 744.29h.7M204.86 735.23h.7M201.32 736.35h.7M195.33 735.79h.7M194.93 737.48h.7M194.74 734.72h.7M198.66 731.61h.7M195.91 731.35h.7M193.77 741.53h.7M197.42 743.98h.7M188.47 743.46h.7M192.78 741.32h.7M199.13 734.69h.7M189.18 741.13h.7M197.7 734.96h.7M185.81 743.97h.7M198.93 743.16h.7M190.87 739.88h.7M197.09 742.22h.7M193.72 740.78h.7M197.25 732.33h.7M200.1 732.39h.7M185.34 750.96h.7M194.02 743.44h.7M187.01 746.11h.7M195.09 740.47h.7M194.5 739.77h.7M193.56 736.16h.7M202.62 732.77h.7M188.16 745.3h.7M192.63 738.32h.7M185.86 743.74h.7M192.02 741.28h.7M196.49 740.51h.7M202.06 733.52h.7M192.48 745.56h.7M199.15 736.07h.7M191.5 746.48h.7M196.72 743.13h.7M198.82 739.34h.7M194.8 740.58h.7M193.98 735.64h.7M196.29 742.28h.7M197.11 735.88h.7M193.04 745.52h.7M198.84 733.83h.7M187.42 745.59h.7M187.34 752.18h.7M193.35 743.58h.7M185.56 746.44h.7M194.74 734.06h.7M202.04 735.22h.7M195.83 738.09h.7M194.87 742.46h.7M195.56 740.99h.7M186.71 745.04h.7M188.21 745.25h.7M190.49 735.77h.7M200.89 734.81h.7M192.23 741.55h.7M192.97 743.56h.7M200.98 734.19h.7M196.69 741.24h.7M188.09 746.88h.7M197.88 737.25h.7M192.3 737.56h.7M198.27 734.91h.7M194.44 734.82h.7M192.34 734.86h.7M189.94 745.78h.7M188.51 739.6h.7M190.18 740.79h.7M188.32 744.41h.7M190.82 744.83h.7M195.37 740.07h.7M194.9 741.2h.7M185.36 753.58h.7M185.56 751.03h.7M189.8 734.55h.7M187.1 736.68h.7M194.43 738.56h.7M205.53 733.02h.7M190.18 747.77h.7M206.73 728.67h.7M189.74 742.59h.7M187.81 741.08h.7M200.7 740.01h.7M198.36 737.62h.7M199.14 730.07h.7M199.75 730.51h.7M189.15 744.7h.7M188.3 744.74h.7M194.7 743.68h.7M192.91 741.18h.7M192.29 740.85h.7M192.3 740.97h.7M195.82 743.24h.7M194.66 728.02h.7M194.64 732.6h.7M188.7 745.74h.7M182.19 745.02h.7M194.23 739.69h.7M191.11 736.32h.7M202.02 729.3h.7M190.02 745.48h.7M194.07 742.92h.7M199.26 732.38h.7M195.76 736.12h.7M193.87 739.73h.7M189.82 743.13h.7M189.49 754.73h.7M205.25 733.23h.7M186.67 734.15h.7M185.62 750.63h.7M188.09 742.55h.7M191.31 739.89h.7M191.54 740.44h.7M201 737.1h.7M204.03 735.33h.7M178.7 767.51h.7M175.7 763.74h.7M174.83 762.83h.7M178.64 756.34h.7M180.34 746.58h.7M185.27 744.11h.7M180.56 758.65h.7M178.33 758.24h.7M176.79 757.29h.7M175.56 750.24h.7M176.68 755.93h.7M176.96 764.89h.7M178.22 752.84h.7M177.62 760.83h.7M176.32 759.46h.7M177.54 741.2h.7M177.98 766.92h.7M174.77 760.59h.7M173.95 763.12h.7M174.08 749.48h.7M178.24 754.32h.7M177.14 766.48h.7M180.69 747.25h.7M179.63 753.26h.7M179.24 749.76h.7M176.46 753.93h.7M174.48 753.54h.7M187.27 745.58h.7M171.14 754.58h.7M175.86 745.5h.7M177.72 750.02h.7M180.72 762.57h.7M172.47 753.03h.7M172.44 745.63h.7M177.58 756.6h.7M175.93 767.08h.7M171.83 754.23h.7M178.03 745.14h.7M177.12 739.33h.7M173.45 753.27h.7M173.92 755.1h.7M178.69 760.82h.7M179.22 746.87h.7M174.74 756.78h.7M175.37 769.06h.7M177.4 748.99h.7M174.46 752.67h.7M176.51 755.14h.7M175.03 748.97h.7M176.84 748.99h.7M173.94 752.73h.7M176.82 750.32h.7M178.58 742.85h.7M177.58 756.45h.7M177.81 750.82h.7M175.11 749.85h.7M172.71 770.11h.7M179 754.96h.7M180.84 751.07h.7M178.51 752.61h.7M174.28 737.31h.7M179.86 759.68h.7M179.67 750.04h.7M179.87 758.2h.7M181.84 753.23h.7M181.12 737.37h.7M180.87 756.7h.7M173.88 753.44h.7M179.47 760.35h.7M180.57 759.79h.7M177.73 752.12h.7M179.49 745.9h.7M174.17 758.3h.7M176.97 752.46h.7M181.54 731.79h.7M176.68 758.11h.7M176.73 763.02h.7M173.31 752.29h.7M175.58 749.22h.7M173.44 752.71h.7M174.19 746.03h.7M179.39 750.75h.7M173.05 753.36h.7M179.33 757.23h.7M177.71 761.16h.7M176.82 746.83h.7M175.35 754.16h.7M180.05 746.39h.7M176.44 756.43h.7M183.33 738.16h.7M181.15 752.72h.7M175.57 756.09h.7M174.35 741.6h.7M171.1 770.17h.7M175.64 749.41h.7M176.87 748.72h.7M173.78 758.72h.7M178.25 754.91h.7M172.73 764.12h.7M178.71 759.47h.7M175.92 749.73h.7M172.79 764.61h.7M178.7 742.42h.7M177.33 751.52h.7M177.88 758.74h.7M181.08 753.28h.7M173.79 746.57h.7M174.44 747.86h.7M178.93 746.76h.7M176.86 757.5h.7M175.65 767.06h.7M174.25 754.12h.7M176.93 751h.7M174.46 754.27h.7M174.14 754.31h.7M175.06 744h.7M181.74 750.24h.7M174.77 756.84h.7M180.03 763.23h.7M178.74 756.63h.7M174.1 767.92h.7M175.64 753.41h.7M178.28 757.83h.7M177.73 751.36h.7M177.86 763.64h.7M181.47 755.3h.7M179.6 744.2h.7M176.15 743.74h.7M184.22 735.99h.7M173.03 747.57h.7M175.81 739.57h.7M173.5 759.68h.7M171.83 761.95h.7M178.88 745.44h.7M177.36 746.91h.7M176.22 752.98h.7M176.86 765.5h.7M179.64 760.25h.7M178.09 733.56h.7M176.56 753.58h.7M173.26 758.97h.7M178.06 737.36h.7M180.93 753.67h.7M177.26 746.33h.7M181.22 731.04h.7M175.38 761.83h.7M182.45 753.03h.7M183.23 745.77h.7M174.05 768.48h.7M181.97 750.25h.7M180.85 753.38h.7M177.38 755.86h.7M182.06 740.66h.7M175.61 751.92h.7M175.17 752.74h.7M172.75 750.84h.7M180 749.06h.7M177.37 756.8h.7M183.35 744.85h.7M175.46 759.23h.7M179.55 742.38h.7M174.62 749.39h.7M177.5 751.9h.7M180.57 763.2h.7M181.47 745.91h.7M175.63 746.27h.7M174.74 760.77h.7M179.07 735.61h.7M177.5 760.14h.7M172.34 758.77h.7M183.92 735.01h.7M175.36 744.24h.7M178.51 753.28h.7M182.29 751.31h.7M176.76 751.42h.7M181.47 742.78h.7M176.63 747.28h.7M176.18 761.44h.7M175.47 760.89h.7M174.98 744.97h.7M177.46 761.46h.7M176.92 753.64h.7M174.62 761.87h.7M179.93 745.58h.7M180.21 759.61h.7M181.51 752.94h.7M181.52 757.87h.7M177.96 739.11h.7M174.31 764.28h.7M175.13 752.61h.7M176.97 747.32h.7M183.57 745.19h.7M182.79 750.49h.7M176.54 753.18h.7M173.09 755.67h.7M179.57 751.81h.7M177.88 746.21h.7M179.86 745.48h.7M175.83 746.81h.7M182.64 750.98h.7M176.5 761.57h.7M176.3 743.71h.7M178.36 755.73h.7M181.03 736.62h.7M175.17 761.81h.7M179.49 750.18h.7M171.63 754.17h.7M175.07 745.24h.7M178.43 744.78h.7M178.08 758.07h.7M176.13 759.92h.7M182.35 759.58h.7M174.36 744.37h.7M174.42 742.85h.7M175.1 754.98h.7M177.92 755.4h.7M182.61 747.46h.7M174.53 745.84h.7M173.84 757.37h.7M182.62 752.62h.7M176.3 753.95h.7M181.43 747.18h.7M180.12 751.43h.7M175.89 760.53h.7M181.07 750.5h.7M174.93 743.99h.7M174.68 763.22h.7M178.21 753.46h.7M179.67 751.68h.7M178.9 745.68h.7M182.19 743.38h.7M180.44 732.38h.7M174.6 744.42h.7M179.5 741.12h.7M172.97 758.94h.7M182.78 756.15h.7M185.16 755.5h.7M173.83 738.19h.7M175.39 747.25h.7M173.88 753.52h.7M182.96 757.37h.7M178.76 756.01h.7M175.12 763.05h.7M175.14 756.47h.7M175.06 749.89h.7M180.12 762.83h.7M172.62 757.45h.7M187.15 751.52h.7M179.4 759.63h.7M178.99 757.18h.7M178.35 742.94h.7M179.26 750.87h.7M182.84 738.32h.7M174.19 768.19h.7M176.76 763.73h.7M175.6 760.74h.7M173.02 743.61h.7M176.98 754.99h.7M176.55 764.33h.7M175.6 759.73h.7M175.62 746.67h.7M180.17 745.85h.7M180.75 753.02h.7M175.23 743.55h.7M174.2 756.37h.7M183.7 740.74h.7M177.34 759.98h.7M179.22 751.49h.7M175.71 758.56h.7M177.04 748.39h.7M171.36 758.95h.7M179.33 754.77h.7M174.88 760.88h.7M179.75 749.26h.7M173.16 756.75h.7M180.92 735.7h.7M179.26 748.67h.7M177.07 754.18h.7M180.95 752.07h.7M173.29 757.85h.7M179.19 750.01h.7M182.81 747.26h.7M181.03 758.86h.7M178.55 753.55h.7M176.58 749.07h.7M175.75 746.17h.7M176.1 747.14h.7M176.44 750.37h.7M181.51 740.26h.7M174.39 761.47h.7M181.57 755.99h.7M178.22 770.41h.7M178.21 752.96h.7M181.6 743.16h.7M176.54 750.32h.7M172.47 758.58h.7M183.07 755.25h.7M176.13 750.59h.7M174.1 752.53h.7M178.89 742.37h.7M180.54 740.04h.7M175.34 753.04h.7M180.57 750.33h.7M173.17 743.78h.7M178.03 753.99h.7M178.92 739.84h.7M179.12 756.64h.7M174.39 746.95h.7M179.9 744.19h.7M179.77 762.62h.7M175.29 755.96h.7M179.23 755.61h.7M179 754.39h.7M175.96 752.33h.7M179.88 761.25h.7M180.03 762.09h.7M180.49 751.53h.7M180.13 758.23h.7M171.97 755.57h.7M171.5 760.38h.7M181.88 753.68h.7M180.49 753.16h.7M179.68 748.12h.7M186.54 755.79h.7M182.2 750.77h.7M180.36 758.88h.7M178.38 748.33h.7M182.08 744.67h.7M179.2 754.57h.7M172.99 762.21h.7M179.04 747.84h.7M180.81 743.17h.7M181.7 752.17h.7M176.73 761.74h.7M177.87 748.26h.7M178.64 752.74h.7M172.2 751.6h.7M176.92 763.98h.7M180.29 744.63h.7M178.05 752.47h.7M182.02 757.64h.7M177.77 751.07h.7M172.64 741.86h.7M178.08 747.12h.7M180.12 763.88h.7M177.38 753.89h.7M182.7 750.9h.7M176.72 748.27h.7M180.25 747.09h.7M177.61 757.45h.7M174.26 743.3h.7M178.41 749.44h.7M175.57 748.1h.7M181.85 755.61h.7M178.29 754.42h.7M178.7 751.09h.7M174.23 754.18h.7M182.08 769.15h.7M178.7 752.54h.7M175.64 761.68h.7M172.65 749.89h.7M174.2 749.73h.7M179.23 750.87h.7M174.65 754.59h.7M181.53 749.11h.7M171.62 754.65h.7M182.64 748.96h.7M179.52 752.17h.7M178.36 753.38h.7M185.77 752.41h.7M172.86 760.7h.7M177.44 757.11h.7M179.04 751.06h.7M178.4 749.72h.7M173.96 754.69h.7M173.34 749.86h.7M182.39 760.44h.7M178.36 757.06h.7M179.89 752.64h.7M174.29 749.22h.7M183.65 745.43h.7M175.8 757.79h.7M174.87 753.08h.7M174.48 761.65h.7M178.9 768.99h.7M181.38 743.02h.7M175.46 728.74h.7M174.1 754.56h.7M174.11 743.28h.7M175.37 754.89h.7M182.99 749.37h.7M176.95 749.47h.7M173.62 759.29h.7M179.62 746.59h.7M182.23 756.1h.7M180.32 743.64h.7M176.9 745.91h.7M176.9 755.65h.7M182.41 757.75h.7M179.41 742.48h.7M173.68 751.19h.7M178.04 748.85h.7M178.01 755.93h.7M181.54 749.3h.7M176.81 746.29h.7M179.81 739.18h.7M183.31 748.35h.7M173.15 768.9h.7M181.9 748.15h.7M174.54 761.25h.7M176.9 755.65h.7M176.5 759.33h.7M173.4 754.85h.7M181.99 745.35h.7M173.87 756.22h.7M178.9 741.39h.7M174.72 756.79h.7M177.31 741.46h.7M176.51 755.87h.7M178.01 753.37h.7M176.29 738.76h.7M176.85 751.56h.7M176.13 756.82h.7M181.43 756.1h.7M181.59 739.1h.7M178.57 746.38h.7M177.31 746.04h.7M174.26 763.79h.7M182.28 751.18h.7M176.02 760.27h.7M177.91 756.74h.7M181.3 748.54h.7M178.76 761.81h.7M180.52 744.89h.7M172.17 747.46h.7M180.44 745.26h.7M175.81 751.11h.7M182.5 765.5h.7M177.81 761.06h.7M177.93 755.32h.7M177.24 759.84h.7M177.83 768.4h.7M175.49 768.47h.7M173.57 740.42h.7M176.93 752.63h.7M178.4 754.06h.7M178.37 753.39h.7M177.77 760.47h.7M176.47 748.32h.7M172.88 760.47h.7M181.75 757.18h.7M178.08 752.4h.7M178.27 742.72h.7M175.34 749.35h.7M180.15 758.64h.7M179.62 736.13h.7M179.02 757.77h.7M176.35 755.12h.7M173.01 755.26h.7M176.99 756.65h.7M180.03 751.85h.7M177.01 746.84h.7M177.37 757.03h.7M177.87 751.3h.7M182.56 743.13h.7M176.31 761.54h.7M181.64 757.63h.7M184.69 760.71h.7M173.48 759.24h.7M184.72 745.36h.7M179.65 741.94h.7M174.66 759.72h.7M177.69 745.56h.7M181.98 746.36h.7M179.34 749.39h.7M173.54 754.02h.7M176.33 761.55h.7M174.37 753.49h.7M177.33 760.96h.7M175.6 756.41h.7M181.16 752.92h.7M176.78 748.87h.7M179.08 748.95h.7M178.44 753.04h.7M178.42 747.24h.7M182.43 754.13h.7M177.79 758.76h.7M175.1 750.44h.7M180.25 745.71h.7M174.22 745.46h.7M172.22 750.71h.7M176.98 756.53h.7M171.45 758.67h.7M173.79 754.91h.7M182.78 741.1h.7M182.72 746.15h.7M176.04 745.88h.7M178.23 766.23h.7M172.55 737.83h.7M178.1 768.39h.7M179.09 763.04h.7M171.67 760h.7M175.45 748.94h.7M178.35 747.17h.7M177.1 741.9h.7M177.36 737.41h.7M182.07 761.45h.7M177.76 738.74h.7M182.04 747.91h.7M178.33 743.26h.7M181.34 747.38h.7M176.98 751.98h.7M176.13 754.64h.7M181.73 750.62h.7M179.01 752.87h.7M179.91 749.9h.7M174.76 763.43h.7M184.19 752.34h.7M176.31 753.02h.7M180.04 754.59h.7M175.44 745.46h.7M177.15 754.81h.7M177.14 746.73h.7M174.21 755.72h.7M179.76 736.42h.7M176.91 762.7h.7M175 742.12h.7M172.27 756.29h.7M178.04 757.02h.7M172.95 751.55h.7M171.04 754.4h.7M179.9 744.98h.7M180.53 753.87h.7M181.03 762.05h.7M176.99 763.18h.7M177.02 744.18h.7M180 746.12h.7M179.43 761.73h.7M180.08 752h.7M181.71 740.78h.7M180.53 758.02h.7M177.3 755.32h.7M177.17 738.65h.7M173.45 757.5h.7M175.84 758.28h.7M182.52 755.7h.7M177.11 746.19h.7M178.43 760.23h.7M184.56 756.26h.7M177.8 742.87h.7M176.21 755.66h.7M180.13 760.06h.7M174.48 754.98h.7M175.32 751.77h.7M179.8 742.1h.7M179.78 756.1h.7M180.55 756.49h.7M175.4 754.56h.7M182.88 748.47h.7M174.27 760.67h.7M176.67 749.94h.7M173.06 753.03h.7M176.58 759.29h.7M174.75 744.69h.7M179.4 748.31h.7M173.12 765.36h.7M178.81 753.05h.7M180.11 753.21h.7M179.37 757.17h.7M175.05 753.47h.7M172.98 748.56h.7M176.81 756.06h.7M181.2 749.62h.7M179.05 753.06h.7M177.05 744.48h.7M182.8 745.03h.7M182.57 755.89h.7M189.94 740.6h.7M180.41 742.43h.7M182.93 743.45h.7M175.16 756.03h.7M179.05 751.63h.7M176.45 754.33h.7M180.13 756.82h.7M179.31 759.86h.7M174.16 752.58h.7M179.69 733.49h.7M178.23 749.41h.7M175.45 759h.7M182.04 744.17h.7M173.85 762.04h.7M179.02 750.87h.7M179.14 750.74h.7M178.67 751.66h.7M179.5 746.34h.7M180.8 743.14h.7M186.01 754.3h.7M181.95 765.17h.7M180.89 744.67h.7M178.86 752.92h.7M177.85 756.76h.7M177.59 746.98h.7M176.22 753.86h.7M179.32 745.67h.7M183.04 751.48h.7M176.08 744.68h.7M177.74 745.41h.7M179.81 738.57h.7M171.96 756.7h.7M176.37 761.4h.7M176.77 750.62h.7M172.57 746.42h.7M191.8 742.19h.7M173.7 758.86h.7M185.23 760.87h.7M182.25 753.08h.7M171.7 758.66h.7M184.67 741.51h.7M184.96 746.09h.7M179.2 751.72h.7M172.6 755.51h.7M181.44 739.48h.7M177.62 743.66h.7M178.31 756.64h.7M177.64 745.5h.7M182.17 754.81h.7M173.1 748.6h.7M175.12 753.91h.7M181.56 748.74h.7M173.1 749.35h.7M179.71 751.36h.7M173.1 768.92h.7M185.55 753.22h.7M174.76 748.54h.7M177.15 737.2h.7M177.72 750.69h.7M179.67 745.81h.7M179.76 743.81h.7M178.42 749.52h.7M171.18 754.73h.7M175.01 765.78h.7M180.22 758.31h.7M183.14 751.15h.7M177.02 763.35h.7M180.66 754.71h.7M175.77 751.26h.7M176.02 763.32h.7M173.31 750.57h.7M183.04 753.01h.7M172.94 755.26h.7M184.96 751.45h.7M181.65 752.49h.7M175.27 755.95h.7M179.66 754.36h.7M178.36 747.6h.7M171.6 762.84h.7M175.81 766.51h.7M179.86 755.41h.7M176.76 754.15h.7M180.04 759.01h.7M177.44 752.34h.7M177.59 757.71h.7M173.9 758.48h.7M171.51 760.12h.7M180.51 741.09h.7M176.71 759.79h.7M180.63 754.85h.7M187.2 747.16h.7M176.32 760.21h.7M177.77 760.23h.7M178.12 745.91h.7M188.49 746.17h.7M177.57 747.95h.7M185.77 756.51h.7M182.26 747.97h.7M177.4 757.68h.7M178.83 747.98h.7M175.54 752.79h.7M180.21 764.97h.7M181.26 744.22h.7M176.01 756.29h.7M173.75 739.38h.7M177.11 760.83h.7M187.2 764.75h.7M184.65 762.76h.7M172.77 765.43h.7M180.76 754.76h.7M176.58 760.57h.7M178.54 760.96h.7M177.61 746.63h.7M176.78 745.16h.7M183.79 744.92h.7M175.25 768.89h.7M177.52 737.49h.7M173.8 759.1h.7M177.95 757.96h.7M179.12 751.01h.7M185.3 739.33h.7M184.54 739.09h.7M183.79 749.35h.7M180.91 759.01h.7M182.43 747.91h.7M171.56 739.21h.7M179.48 744.42h.7M185.99 745.56h.7M178.38 748.16h.7M175.89 765.25h.7M180.08 743.02h.7M173.49 763.04h.7M186.61 737.61h.7M185.71 743.28h.7M176.29 740.89h.7M187.17 768.48h.7M177.9 749.58h.7M183.42 759.58h.7M184.02 751.71h.7M177.8 768.86h.7M180.16 756.91h.7M172.95 738.54h.7M173.08 746.99h.7M186.94 768.21h.7M186.33 757.86h.7M185.46 750.68h.7M187.4 760.82h.7M175.4 738.85h.7M173.1 753.09h.7M186.77 756.07h.7M182.77 758.54h.7M176.17 751.03h.7M186.45 742.06h.7M175.44 765.85h.7M177.47 753.27h.7M173.41 765.56h.7M176.11 761.94h.7M184.64 750.76h.7M179.77 740.07h.7M184.59 759.06h.7M184.79 756.5h.7M182.58 743.11h.7M177.86 747.18h.7M179.91 737.5h.7M175.23 746.28h.7M171.87 755.66h.7M183.9 743.22h.7M181.22 737.19h.7M173.32 740.12h.7M186.08 764.58h.7M181.34 740.21h.7M184.04 741.86h.7M175.93 739.12h.7M185.71 740.58h.7M182.5 748.81h.7M179.64 738.31h.7M184.99 746.47h.7M182.35 752.34h.7M176.96 764.17h.7M182.5 749.6h.7M181.61 737.11h.7M175.37 750.45h.7M178.53 748.66h.7M182.26 765.29h.7M178.02 746.42h.7M185.51 753.29h.7M185.67 756.01h.7M173.35 763.82h.7M173.28 758.43h.7M179.02 747.52h.7M188.11 749.05h.7M185.13 735.19h.7M173.6 761.57h.7M182.5 735.52h.7M174.43 759.22h.7M173.08 750.6h.7M186.77 761.43h.7M178.98 765.02h.7M180.27 764.45h.7M174.97 756.79h.7M172.07 760.97h.7M183.66 762.21h.7M182.1 758.45h.7M178.73 750.24h.7M181.46 749.51h.7M172.65 763.17h.7M174.48 758.5h.7M179.63 739.25h.7M179.89 748.1h.7M177.66 754.21h.7M185.5 742.47h.7M173.88 737.49h.7M179.55 762.18h.7M181.65 753.88h.7M176.61 757.3h.7M173.32 759.92h.7M179.26 740.72h.7M180.76 739.89h.7M185.2 750.76h.7M182.75 757.23h.7M177.32 740.05h.7M177.68 745.95h.7M185.44 762.38h.7M180.45 769.05h.7M176.6 762.44h.7M182.15 752.21h.7M179.84 749.96h.7M172.3 768h.7M182.92 757.53h.7M179.21 742.13h.7M172.87 765.5h.7M187.36 764.21h.7M185.82 750.65h.7M175.33 761.89h.7M172.29 759.11h.7M178.96 738.97h.7M173.95 747.49h.7M181.26 753.53h.7M178.99 762.1h.7M177.88 744.79h.7M181.22 761.62h.7M184.25 758.44h.7M178.47 758.93h.7M187.81 744.77h.7M177.49 739.42h.7M177.68 744.91h.7M180.38 740.91h.7M180.15 767.54h.7M186.72 737.13h.7M173.1 757.83h.7M181.05 756.2h.7M176.2 753.08h.7M173.41 744.87h.7M173.3 759.6h.7M179.77 746.68h.7M176.11 738.7h.7M182.16 761.87h.7M186.24 759.38h.7M172.69 753.89h.7M183.38 753.89h.7M172.75 740.28h.7M172.46 745.07h.7M184.81 763.6h.7M173.36 738.6h.7M178.01 764.46h.7M182.69 768.26h.7M181.69 743.48h.7M175.18 767.96h.7M179.18 740.96h.7M181.25 739.44h.7M179.63 749.42h.7M186.16 757.16h.7M171.85 754.88h.7M177.23 752.06h.7M176.08 760.17h.7M184.26 752.85h.7M179.05 751.61h.7M180.57 739.12h.7M173.6 767.74h.7M175.47 751.59h.7M178.1 745.16h.7M176.55 758.9h.7M186.1 754.2h.7M178.53 739.91h.7M177.76 748.91h.7M185.08 751.97h.7M183.61 767.63h.7M174.78 737.64h.7M179.11 754.43h.7M181.49 739.13h.7M173.66 747.33h.7M181.92 740.93h.7M178.86 744.89h.7M185.37 746.46h.7M187.76 757.38h.7M183.42 743.66h.7M175.33 766.28h.7M174.52 748.63h.7M178.7 765.87h.7M173.99 745.66h.7M175.98 762.38h.7M183.65 756.35h.7M184.14 754.57h.7M179.88 747.3h.7M187.56 760.14h.7M174.75 743.23h.7M176.33 762.73h.7M176.28 764.42h.7M175.33 741.37h.7M179.75 752.45h.7M185.2 742.74h.7M182.65 754.2h.7M181.35 749.64h.7M183.99 758.23h.7M175.74 768.05h.7M186.56 747.54h.7M177.7 740.66h.7M181.66 757.99h.7M172.75 753.24h.7M185.82 743.8h.7M186.58 752.8h.7M178.45 742.65h.7M179.79 762.75h.7M180.09 755.02h.7M183.52 755.58h.7M174.02 760h.7M175.08 748.93h.7M178.5 741.44h.7M180.26 757.98h.7M183.94 753.76h.7M176.08 745.82h.7M176.8 760.42h.7M178.02 744.82h.7M184.83 744.87h.7M185.82 750.41h.7M188.01 742.01h.7M186.97 750.07h.7M181.86 737.15h.7M185.27 747.66h.7M185.72 764.23h.7M180.59 756.63h.7M179.76 742.51h.7M179.77 748.38h.7M173.86 738.53h.7M177.68 766.7h.7M182.5 764.33h.7M185.49 769.08h.7M177.4 741.06h.7M171.78 739.6h.7M185.25 765.41h.7M185.21 765.8h.7M181.56 746.5h.7M180.63 753.26h.7M177.87 744.95h.7M184.66 737.01h.7M177.53 766.49h.7M181.04 752.62h.7M181.05 739.04h.7M175.81 748.11h.7M183.14 763.07h.7M181.56 757.92h.7M185.53 740.31h.7M182.11 768.17h.7M182.82 757.02h.7M180.33 750.55h.7M171.6 749.33h.7M173.6 748.08h.7M178.14 766.66h.7M177.71 767.82h.7M172.53 748.2h.7M176.98 765.99h.7M178.31 756.41h.7M178.78 762.29h.7M186.07 764.66h.7M180.2 747.8h.7M177.29 747.45h.7M172.87 760.27h.7M181.49 743.21h.7M175.32 757.63h.7M182.97 754.96h.7M183.68 744.16h.7M172.7 762.32h.7M186.9 751.45h.7M179.79 760.72h.7M174.43 753.38h.7M184.42 741.58h.7M181.28 754.23h.7M180.85 752.49h.7M177.42 750.28h.7M185.73 740.42h.7M172.72 766.78h.7M182.04 738.54h.7M186.8 758.95h.7M176.58 768.55h.7M186.09 743.06h.7M182.71 747.91h.7M185.28 738.27h.7M183.76 747.65h.7M180.77 761.29h.7M175.81 767h.7M186.07 754.3h.7M181.6 747.81h.7M173.48 746.51h.7M179.11 738.46h.7M181.05 753.4h.7M174.44 749.45h.7M185.93 760.33h.7M177.45 769.65h.7M183.53 748.38h.7M171.53 743.65h.7M180.75 743.24h.7M174.89 751.26h.7M180.56 749.87h.7M179.73 754.36h.7M177.57 762.96h.7M175.15 743.78h.7M182.95 763.61h.7M183.24 755.31h.7M180.41 760.38h.7M177.21 746.87h.7M177.17 753.68h.7M184.36 765.13h.7M182.42 766.04h.7M177.85 745.58h.7M187.21 767.29h.7M173.66 742.34h.7M180.1 746.8h.7M179.69 767.93h.7M182.09 740.66h.7M184.54 765.74h.7M186.44 764.69h.7M178.74 757.21h.7M183.51 750.32h.7M171.15 769.45h.7M176.09 758.67h.7M178.7 766.73h.7M183.1 749.76h.7M186.84 753.02h.7M180.54 751.45h.7M184.74 742.91h.7M184.15 754.43h.7M172.65 744.14h.7M178.51 757.56h.7M181.53 747.24h.7M179.64 758.81h.7M183.7 743.76h.7M173.79 751.38h.7M178.55 764.86h.7M181.69 757.26h.7M172.99 758.68h.7M178.19 756.58h.7M175.29 769.3h.7M173.64 737.98h.7M183.29 754.34h.7M180.25 759.27h.7M186.28 747.11h.7M185.79 750.16h.7M179.62 748.54h.7M177.83 751.56h.7M181.16 737.58h.7M178.82 757.45h.7M179.64 743.24h.7M175.05 754.15h.7M185.8 768.95h.7M174.49 761.87h.7M176.51 758.81h.7M180.63 742.6h.7M181.42 756.22h.7M173.88 763.41h.7M172.57 752.64h.7M177.79 744.14h.7M176.71 746.22h.7M180.23 753.13h.7M182.87 737.12h.7M184.52 753.96h.7M178.57 743.96h.7M178.32 765.43h.7M180.4 765.38h.7M184.56 750.43h.7M185.39 747.18h.7M175.53 738.03h.7M187.06 765.57h.7M175.23 763.54h.7M184.37 762.34h.7M180.82 740.74h.7M179.23 740.66h.7M174.45 756.42h.7M181.7 767.07h.7M174.51 750.54h.7M186.04 752.4h.7M172.97 760.16h.7M184.64 767.92h.7M174.91 748.38h.7M185.9 764.77h.7M179.97 751.26h.7M174.82 762h.7M181.23 740.86h.7M176.87 756.49h.7M181.24 738.82h.7M182.44 757.57h.7M183.47 758.87h.7M174.95 737.9h.7M175.41 741.15h.7M173.13 762.09h.7M180.21 755.32h.7M173.8 740.58h.7M173.08 746.82h.7M172.34 756.79h.7M180.65 761.45h.7M173.94 754.63h.7M179.1 757.69h.7M185.16 739.12h.7M173.82 738.91h.7M172.96 749.71h.7M174.82 761.04h.7M181.28 758.7h.7M181.7 765.71h.7M179.38 748.66h.7M174.07 747.54h.7M173.33 741.92h.7M172.59 764.08h.7M172.35 742.24h.7M183.18 751.31h.7M178.46 763.27h.7M183.5 749.52h.7M182.86 768.58h.7M178.9 740.03h.7M183.5 764.27h.7M187.03 749.57h.7M174.28 762.85h.7M178.14 746.96h.7M175.41 758.62h.7M174.82 751.11h.7M180.85 756.06h.7M176.86 741.66h.7M180.96 768.39h.7M183.44 750.66h.7M174.2 766.42h.7M175.03 748.19h.7M176.77 745.52h.7M182.13 766.85h.7M178.25 749.38h.7M183.65 747.54h.7M175.43 752.49h.7M173.33 744.14h.7M175.3 747.33h.7M183.27 740.6h.7M175.08 751.91h.7M182.78 755.78h.7M185.63 765.59h.7M180.33 764.61h.7M181.99 749.35h.7M172.71 758.05h.7M183.76 762.48h.7M178.71 761.45h.7M186.44 765.64h.7M173.75 746.48h.7M178.78 756.22h.7M178.76 743.76h.7M177 750.04h.7M183.86 751.43h.7M184.64 767.14h.7M178.72 750.87h.7M177.49 754.76h.7M177.13 762.24h.7M180.45 747.31h.7M174.81 746.48h.7M172.79 754.13h.7M177.98 746.34h.7M172.65 748.95h.7M172.3 752.99h.7M184.35 747.21h.7M180 748.6h.7M177.41 757.03h.7M186.79 765.86h.7M179.75 746.92h.7M178.57 746.96h.7M185.35 751.12h.7M187.88 753.41h.7M173.05 769.19h.7M180.13 739.17h.7M181.61 752.32h.7M186.2 760.8h.7M177.82 761.09h.7M182.06 742.06h.7M177.6 769.36h.7M180.9 745.15h.7M182.47 756.27h.7M173.43 755.57h.7M182.61 762.67h.7M177.06 752.67h.7M184.46 769.86h.7M185.58 768.7h.7M173.27 750.01h.7M178.63 747.96h.7M181.35 755.34h.7M173.66 747.54h.7M174.34 744.86h.7M174.04 752.29h.7M182.1 746.55h.7M179.44 754.51h.7M177.05 760.31h.7M172 759.29h.7M177.83 765.55h.7M175.62 755.67h.7M179.06 743.27h.7M182.42 736.19h.7M178.19 751.04h.7M172.94 760.18h.7M186.1 738.96h.7M175.61 762.7h.7M178.69 759.75h.7M184.79 765.17h.7M182.34 747.07h.7M176.33 740.5h.7M185.63 766.47h.7M173.96 752.38h.7M183.34 748.58h.7M186.07 750.44h.7M185.63 736.07h.7M179.09 741.54h.7M172.89 762.81h.7M172.59 741.39h.7M178.77 767.46h.7M182.45 740.74h.7M181.2 746.13h.7M176.52 739.1h.7M188.88 744.35h.7M192.07 761.37h.7M178.49 740.53h.7M190.95 745.79h.7M179.88 752.96h.7M185.62 746.75h.7M201.91 735.45h.7M183.79 745.25h.7M177.66 747.83h.7M180.12 742.36h.7M194.78 740.66h.7M178.9 745.58h.7M171.8 752.98h.7M177.19 761.73h.7M185.75 734.69h.7M179.51 743.57h.7M179.28 745.53h.7M188.11 762.49h.7M188.37 748.57h.7M176.88 743.17h.7M177.91 765.22h.7M178.04 753.2h.7M185.53 759.6h.7M184.26 751.52h.7M184.67 744h.7M184.85 749.57h.7M193.37 735.91h.7M177.05 757.4h.7M182.46 744.66h.7M189.73 745.75h.7M192.15 752.36h.7M189.26 747.63h.7M187.42 748.1h.7M183.16 737.96h.7M179.61 740.57h.7M181.61 744.99h.7M172.19 756.99h.7M177.13 755.05h.7M186.63 749.06h.7M181.76 750.81h.7M172.66 748.2h.7M188.09 756.06h.7M179.39 752.98h.7M192.35 743.62h.7M180.93 745.05h.7M179.04 750.46h.7M174.43 758.7h.7M185.31 759.85h.7M186.12 736.85h.7M190.49 746.05h.7M180.85 737.86h.7M183.75 746.79h.7M182.89 758.76h.7M179.33 746.37h.7M195.5 738.37h.7M187.8 749.75h.7M192.51 757.98h.7M179.34 748.88h.7M188.16 757.59h.7M181.91 749.07h.7M188.28 750.19h.7M185.01 744.01h.7M195.27 738.24h.7M180.9 759.71h.7M180.16 752.69h.7M188.3 752.49h.7M178.54 749.23h.7M181.62 739.78h.7M180.97 750.68h.7M185.16 750.01h.7M179.3 750.06h.7M181.21 741.94h.7M187.39 748.92h.7M180.86 749.05h.7M190.43 742.66h.7M191.25 738.67h.7M180.05 757.44h.7M182.5 741.53h.7M186.86 746.33h.7M191.29 753.8h.7M182.2 750.45h.7M182 757.63h.7M188.35 734.02h.7M180.98 743.37h.7M189.34 748.78h.7M183.32 752.66h.7M188.65 749.48h.7M190.01 743.51h.7M186.06 760.94h.7M178.76 751.99h.7M181.53 753.34h.7M192.44 746.81h.7M181.8 751.33h.7M181.95 745.73h.7M194.01 743.29h.7M179.96 741.11h.7M177.87 738.24h.7M182.93 726.38h.7M187.64 740.84h.7M172.52 748.82h.7M186.12 742.52h.7M184.52 739.09h.7M182.42 763.81h.7M190.09 736.73h.7M189.19 737.24h.7M188.9 740.63h.7M179.58 758.25h.7M187.68 746.28h.7M192.84 739.9h.7M193.07 750.62h.7M184.36 748.35h.7M186.18 751.52h.7M173.6 768.39h.7M192.7 754h.7M182.07 749.96h.7M193.73 731.03h.7M176.64 750.94h.7M185.67 746h.7M185.62 742.31h.7M184.02 750.19h.7M181.13 750.59h.7M187.2 747.82h.7M176.42 748.23h.7M191.16 739.1h.7M184.3 750.08h.7M189.21 746.63h.7M174.74 744.78h.7M186.82 745.13h.7M181.18 738.41h.7M183.92 738.64h.7M187.61 741.51h.7M194.45 739.3h.7M188.13 756.15h.7M194.01 724.45h.7M191.25 763.24h.7M188.38 755.69h.7M184.01 755.32h.7M181.33 760.78h.7M178.08 745.25h.7M186.9 746.79h.7M171.9 761.33h.7M194.72 741.04h.7M188.72 756.56h.7M184.99 738.69h.7M198.3 732.48h.7M192.21 735.69h.7M184.54 743.04h.7M182.54 763.81h.7M194.37 741.4h.7M190.77 750.6h.7M181.32 747.92h.7M190.35 744.19h.7M182.58 743.47h.7M181.72 748.92h.7M187.34 742.56h.7M185.27 739.05h.7M180.71 750.77h.7M204.02 749.08h.7M184.23 748.23h.7M183.41 747.82h.7M187.13 751.68h.7M181.3 760.19h.7M190.54 752.75h.7M180.32 760.91h.7M187.23 752.08h.7M184.9 738.96h.7M175.96 744.53h.7M185.57 755.96h.7M179.58 743.73h.7M182.09 739.85h.7M190.23 755.9h.7M183.95 742.41h.7M189.52 747.38h.7M184.16 741.46h.7M172.1 764.08h.7M193.52 735.47h.7M187.99 738.21h.7M179.5 750.9h.7M185.27 749.17h.7M176.47 748.29h.7M174.77 735.36h.7M187.91 730.8h.7M184.68 731.33h.7M182.83 755.19h.7M176.29 735.04h.7M180.28 738.92h.7M178.96 761.13h.7M184.03 755.88h.7M181 745.99h.7M185.14 760.62h.7M196.72 728.44h.7M197.25 746.57h.7M180.77 746.55h.7M193.87 736.01h.7M190.94 745.46h.7M184.42 741.07h.7M182.44 743.48h.7M177.94 742.39h.7M190.19 740.89h.7M187.64 742.12h.7M176.3 755.72h.7M194.11 744.12h.7M181.87 761.99h.7M184.1 745.08h.7M175.89 754.03h.7M189.21 749.24h.7M173.32 755.12h.7M181.88 747.1h.7M190.86 743.26h.7M188.12 756.65h.7M185.47 743.33h.7M186.22 743.4h.7M192.01 752.45h.7M194.61 753.27h.7M180.36 740.56h.7M184.89 747.36h.7M189.29 753.13h.7M179.15 741.46h.7M184.27 751.9h.7M182.21 746.05h.7M188.23 744.18h.7M193.11 737.27h.7M177.39 756.06h.7M191.01 733.72h.7M196.21 736.26h.7M175.4 747.09h.7M182.02 748.14h.7M186.75 749.12h.7M196.38 737.65h.7M189.76 744.23h.7M186.14 755.14h.7M179.74 757.93h.7M188.52 741.17h.7M188.68 752.2h.7M184.82 746.93h.7M197.32 746.79h.7M178.67 749.96h.7M188.45 744.85h.7M175.68 751.42h.7M188.85 747.21h.7M183.95 746.56h.7M189.88 738.56h.7M179.21 754.32h.7M184.27 741.2h.7M176.41 746.7h.7M184.92 743.57h.7M181.55 753.74h.7M186.64 736.8h.7M187.75 763.09h.7M187.85 741.99h.7M178.77 741.43h.7M183.63 747.69h.7M187.48 751.54h.7M186.45 757.09h.7M199.71 765.48h.7M181.96 749.2h.7M186.08 758.13h.7M199.64 754.29h.7M196.96 767.78h.7M184.76 760.04h.7M198.59 768.29h.7M189.07 748.34h.7M186.12 759.05h.7M198.74 754.07h.7M187.27 748.75h.7M198.02 750.56h.7M198.36 759.29h.7M193.17 752.88h.7M193.28 767.65h.7M199.17 750.98h.7M184.61 767.83h.7M199.87 762.59h.7M193.8 765.28h.7M196.33 763.26h.7M197.63 766.01h.7M197.88 763.67h.7M194.06 756.34h.7M197.09 758.51h.7M188.85 754.82h.7M192.24 764.3h.7M185.85 767.98h.7M194.09 759.23h.7M187.62 759.42h.7M192.57 764.93h.7M191.28 764.43h.7M194.05 754.86h.7M185.91 762.13h.7M199.87 765.76h.7M197.86 765.78h.7M197.12 763.65h.7M184.9 754.02h.7M196.25 767.36h.7M198.41 757.86h.7M199.65 763.94h.7M197.33 748.25h.7M194.57 768.55h.7M185.89 753.77h.7M190.43 766.95h.7M198.94 752.01h.7M198.97 767.19h.7M192.78 759.53h.7M188.8 769.13h.7M190.7 765.86h.7M194.24 765.29h.7M193.96 757.09h.7M198.44 751.32h.7M195.37 757.17h.7M187.44 762.94h.7M194.88 757.11h.7M184.87 751.9h.7M187.88 762.04h.7M187.36 766.84h.7M188.8 761.98h.7M200.04 767.91h.7M199.52 754.87h.7M195.6 768.6h.7M192.27 755.64h.7M191.71 753.91h.7M192.96 768h.7M188.6 750.46h.7M196.81 764.87h.7M188.4 749.75h.7M188.95 749.75h.7M185.51 754.6h.7M199.05 759.47h.7M197.91 748.5h.7M197.32 747.87h.7M185.17 755.39h.7M191.67 761.12h.7M192.68 765.81h.7M198.44 748.33h.7M183.93 756.24h.7M197.21 767.25h.7M193.67 767.19h.7M193.96 748.65h.7M197.52 764.63h.7M192.75 762.76h.7M196.34 758.82h.7M192.11 762.45h.7M184.51 757.98h.7M199.66 758.31h.7M188.75 751.5h.7M198.57 761.6h.7M202.07 754.91h.7M192.13 763.43h.7M192.58 749.12h.7M194.52 759.27h.7M186.15 767.44h.7M186.97 763.11h.7M196.76 753.44h.7M186.07 753.13h.7M189.01 756.18h.7M193.54 769.05h.7M183.91 766.32h.7M194.48 764.57h.7M190.84 757.85h.7M193.97 752.46h.7M186.72 755.17h.7M188.57 764.4h.7M192.78 761.96h.7M198.73 758.55h.7M197.75 750.75h.7M189.33 762.89h.7M198 754.01h.7M198.15 760.75h.7M195.08 766.69h.7M186.37 751.49h.7M190.63 769.19h.7M187.27 760.14h.7M194.42 753.07h.7M197.22 762.58h.7M191.76 755.75h.7M194 756.3h.7M190.05 766.23h.7M192.11 757.71h.7M198.81 754.51h.7M188.66 763.53h.7M188.03 756.78h.7M188.6 749.19h.7M185.31 759.72h.7M198.09 765.39h.7M196.68 758.27h.7M185.04 757.98h.7M199.05 761.37h.7M189.73 752.47h.7M192.27 750.34h.7M186.33 760.03h.7M190.59 753.04h.7M190.96 755.78h.7M194.41 755.84h.7M190.4 756.26h.7M190.77 760.79h.7M189 765.12h.7M189.72 760.4h.7M183.09 762.22h.7M192.71 757.16h.7M190.12 755.31h.7M195.4 753.6h.7M196.6 757.63h.7M196.02 768.69h.7M189.99 763.49h.7M195.88 768.84h.7M196.62 759.09h.7M186.41 748.81h.7M189.54 763.21h.7M195.57 752.84h.7M195.03 764.17h.7M186.19 748.91h.7M196.99 766.12h.7M186.59 766.04h.7M198.11 759.95h.7M188.5 760.41h.7M184.81 753.44h.7M185.66 759.96h.7M185.89 757.03h.7M187.56 750.75h.7M196.46 764.68h.7M190.7 767.26h.7M187.61 754.45h.7M191.09 762.86h.7M194.15 761.14h.7M193.39 760.49h.7M186.45 752.05h.7M192.02 768.82h.7M195.76 757.29h.7M185.35 756.22h.7M195.48 764.89h.7M196.76 756.64h.7M197.32 752.17h.7M199.06 762.15h.7M185.25 760.22h.7M198.77 759.78h.7M192.23 763.88h.7M200.26 750.49h.7M195.43 759.12h.7M184.98 748.84h.7M184.86 767.77h.7M184.74 750.46h.7M193.98 760.88h.7M192.88 758.14h.7M191.21 759.03h.7M195.39 747.95h.7M195.95 756.55h.7M190.74 767.59h.7M194.3 768.37h.7M198.76 756.21h.7M186.04 765.88h.7M190.45 756.82h.7M184.78 769.64h.7M198.39 767.91h.7M186.35 754.26h.7M193.68 759.43h.7M191.51 763.69h.7M195.49 740.09h.7M204.13 738.48h.7M191.21 728.83h.7M190.91 742.63h.7M198.76 728.92h.7M193.65 740.79h.7M195.61 736.13h.7M193.83 726.89h.7M193.31 733.52h.7M197.2 741.98h.7M198.15 734.46h.7M195.87 731.6h.7M200.6 734.1h.7M202.11 736.86h.7M191.43 741.97h.7M198.54 744.54h.7M194.97 737.4h.7M198.85 747.82h.7M192.99 742.49h.7M198.7 734.47h.7M198.61 742.44h.7M194.23 731.77h.7M198.88 734.23h.7M198.64 730.77h.7M193.04 736.19h.7M200.23 731.69h.7M202.58 746.29h.7M199.55 740.8h.7M200.72 737.15h.7M200.17 740.05h.7M193.56 740.91h.7M198.32 734.29h.7M192.94 737.34h.7M201.29 731.26h.7M196.1 741.87h.7M200.69 736.85h.7M197.11 733.19h.7M200.13 733.52h.7M197.35 732.28h.7M196.79 740.23h.7M198.26 736.66h.7M201.16 735.38h.7M199.85 750.42h.7M203.26 739.75h.7M195.23 735.54h.7M201.94 744.78h.7M192.09 739.2h.7M203.95 746.38h.7M200.35 735.54h.7M199.06 735.13h.7M199.42 734.58h.7M192.58 728.58h.7M189.68 738.7h.7M194.29 746.77h.7M200.78 729.32h.7M194.26 733.04h.7M196.05 737.17h.7M190.74 737.81h.7M199.84 730.21h.7M206.1 737.4h.7" stroke="#000" stroke-width="0.7" fill="none" stroke-opacity="0.62"/>
<rect x="133" y="677.3" width="94.3" height="93.7" fill="none" stroke="#000" stroke-width="1.1"/>
<rect x="186.2" y="725.5" width="25.2" height="23.6" fill="none" stroke="#000" stroke-width="1"/>
<text x="225" y="722.6" font-size="12.7" text-anchor="end" stroke="#000" stroke-width="0.2">36%</text>
<line x1="137.72" y1="771" x2="137.72" y2="772.2" stroke="#000" stroke-width="0.7"/>
<line x1="131.8" y1="681.98" x2="133" y2="681.98" stroke="#000" stroke-width="0.7"/>
<line x1="142.43" y1="771" x2="142.43" y2="772.2" stroke="#000" stroke-width="0.7"/>
<line x1="131.8" y1="686.67" x2="133" y2="686.67" stroke="#000" stroke-width="0.7"/>
<line x1="147.15" y1="771" x2="147.15" y2="772.2" stroke="#000" stroke-width="0.7"/>
<line x1="131.8" y1="691.36" x2="133" y2="691.36" stroke="#000" stroke-width="0.7"/>
<line x1="151.86" y1="771" x2="151.86" y2="772.2" stroke="#000" stroke-width="0.7"/>
<line x1="131.8" y1="696.04" x2="133" y2="696.04" stroke="#000" stroke-width="0.7"/>
<line x1="156.57" y1="771" x2="156.57" y2="773.2" stroke="#000" stroke-width="0.7"/>
<line x1="130.8" y1="700.72" x2="133" y2="700.72" stroke="#000" stroke-width="0.7"/>
<line x1="161.29" y1="771" x2="161.29" y2="772.2" stroke="#000" stroke-width="0.7"/>
<line x1="131.8" y1="705.41" x2="133" y2="705.41" stroke="#000" stroke-width="0.7"/>
<line x1="166" y1="771" x2="166" y2="772.2" stroke="#000" stroke-width="0.7"/>
<line x1="131.8" y1="710.1" x2="133" y2="710.1" stroke="#000" stroke-width="0.7"/>
<line x1="170.72" y1="771" x2="170.72" y2="772.2" stroke="#000" stroke-width="0.7"/>
<line x1="131.8" y1="714.78" x2="133" y2="714.78" stroke="#000" stroke-width="0.7"/>
<line x1="175.44" y1="771" x2="175.44" y2="772.2" stroke="#000" stroke-width="0.7"/>
<line x1="131.8" y1="719.46" x2="133" y2="719.46" stroke="#000" stroke-width="0.7"/>
<line x1="180.15" y1="771" x2="180.15" y2="773.2" stroke="#000" stroke-width="0.7"/>
<line x1="130.8" y1="724.15" x2="133" y2="724.15" stroke="#000" stroke-width="0.7"/>
<line x1="184.87" y1="771" x2="184.87" y2="772.2" stroke="#000" stroke-width="0.7"/>
<line x1="131.8" y1="728.84" x2="133" y2="728.84" stroke="#000" stroke-width="0.7"/>
<line x1="189.58" y1="771" x2="189.58" y2="772.2" stroke="#000" stroke-width="0.7"/>
<line x1="131.8" y1="733.52" x2="133" y2="733.52" stroke="#000" stroke-width="0.7"/>
<line x1="194.3" y1="771" x2="194.3" y2="772.2" stroke="#000" stroke-width="0.7"/>
<line x1="131.8" y1="738.2" x2="133" y2="738.2" stroke="#000" stroke-width="0.7"/>
<line x1="199.01" y1="771" x2="199.01" y2="772.2" stroke="#000" stroke-width="0.7"/>
<line x1="131.8" y1="742.89" x2="133" y2="742.89" stroke="#000" stroke-width="0.7"/>
<line x1="203.73" y1="771" x2="203.73" y2="773.2" stroke="#000" stroke-width="0.7"/>
<line x1="130.8" y1="747.58" x2="133" y2="747.58" stroke="#000" stroke-width="0.7"/>
<line x1="208.44" y1="771" x2="208.44" y2="772.2" stroke="#000" stroke-width="0.7"/>
<line x1="131.8" y1="752.26" x2="133" y2="752.26" stroke="#000" stroke-width="0.7"/>
<line x1="213.16" y1="771" x2="213.16" y2="772.2" stroke="#000" stroke-width="0.7"/>
<line x1="131.8" y1="756.94" x2="133" y2="756.94" stroke="#000" stroke-width="0.7"/>
<line x1="217.87" y1="771" x2="217.87" y2="772.2" stroke="#000" stroke-width="0.7"/>
<line x1="131.8" y1="761.63" x2="133" y2="761.63" stroke="#000" stroke-width="0.7"/>
<line x1="222.59" y1="771" x2="222.59" y2="772.2" stroke="#000" stroke-width="0.7"/>
<line x1="131.8" y1="766.32" x2="133" y2="766.32" stroke="#000" stroke-width="0.7"/>
</g>
</g>
<g id="panelG">
<text transform="translate(267.6 644.9) scale(1.15 1)" font-size="14.2" font-weight="bold" stroke="#000" stroke-width="0.85" stroke-linejoin="round">G</text>
<text x="279.8" y="703" font-size="12" font-weight="bold" text-anchor="middle" transform="rotate(-90 279.8 703)">% T cells in</text>
<text x="295.3" y="703.7" font-size="12" font-weight="bold" text-anchor="middle" transform="rotate(-90 295.3 703.7)">CD45<tspan font-size="8" dy="-4">+</tspan><tspan dy="4"> Cells</tspan></text>
<line x1="314.9" y1="654.85" x2="314.9" y2="756.75" stroke="#000" stroke-width="1.7"/>
<line x1="311.7" y1="655.7" x2="314.9" y2="655.7" stroke="#000" stroke-width="1.53"/>
<text x="312.3" y="658.77" font-size="9.6" font-weight="bold" text-anchor="end">40</text>
<line x1="311.7" y1="680.8" x2="314.9" y2="680.8" stroke="#000" stroke-width="1.53"/>
<text x="312.3" y="683.87" font-size="9.6" font-weight="bold" text-anchor="end">30</text>
<line x1="311.7" y1="705.8" x2="314.9" y2="705.8" stroke="#000" stroke-width="1.53"/>
<text x="312.3" y="708.87" font-size="9.6" font-weight="bold" text-anchor="end">20</text>
<line x1="311.7" y1="730.8" x2="314.9" y2="730.8" stroke="#000" stroke-width="1.53"/>
<text x="312.3" y="733.87" font-size="9.6" font-weight="bold" text-anchor="end">10</text>
<line x1="311.7" y1="755.9" x2="314.9" y2="755.9" stroke="#000" stroke-width="1.53"/>
<text x="312.3" y="758.97" font-size="9.6" font-weight="bold" text-anchor="end">0</text>
<line x1="314.05" y1="755.9" x2="395.2" y2="755.9" stroke="#000" stroke-width="1.7"/>
<line x1="335.5" y1="755.9" x2="335.5" y2="758.9" stroke="#000" stroke-width="1.53"/>
<line x1="375.5" y1="755.9" x2="375.5" y2="758.9" stroke="#000" stroke-width="1.53"/>
<line x1="335.3" y1="678.5" x2="335.3" y2="713.3" stroke="#000" stroke-width="1.5"/>
<line x1="328.3" y1="678.5" x2="342.3" y2="678.5" stroke="#000" stroke-width="1.5"/>
<rect x="322.35" y="714.05" width="25.9" height="41.85" fill="#fff" stroke="#000" stroke-width="1.5"/>
<line x1="375.5" y1="670" x2="375.5" y2="696" stroke="#000" stroke-width="1.5"/>
<line x1="368.5" y1="670" x2="382.5" y2="670" stroke="#000" stroke-width="1.5"/>
<rect x="362.75" y="696.75" width="25.5" height="59.15" fill="#000" stroke="#000" stroke-width="1.5"/>
<text x="338.9" y="765.9" font-size="13.3" font-weight="bold" text-anchor="end" transform="rotate(-45 338.9 765.9)">IL-2</text>
<text x="379" y="765.9" font-size="13.3" font-weight="bold" text-anchor="end" transform="rotate(-45 379 765.9)">IL-7+15</text>
</g>
</svg></body></html>
